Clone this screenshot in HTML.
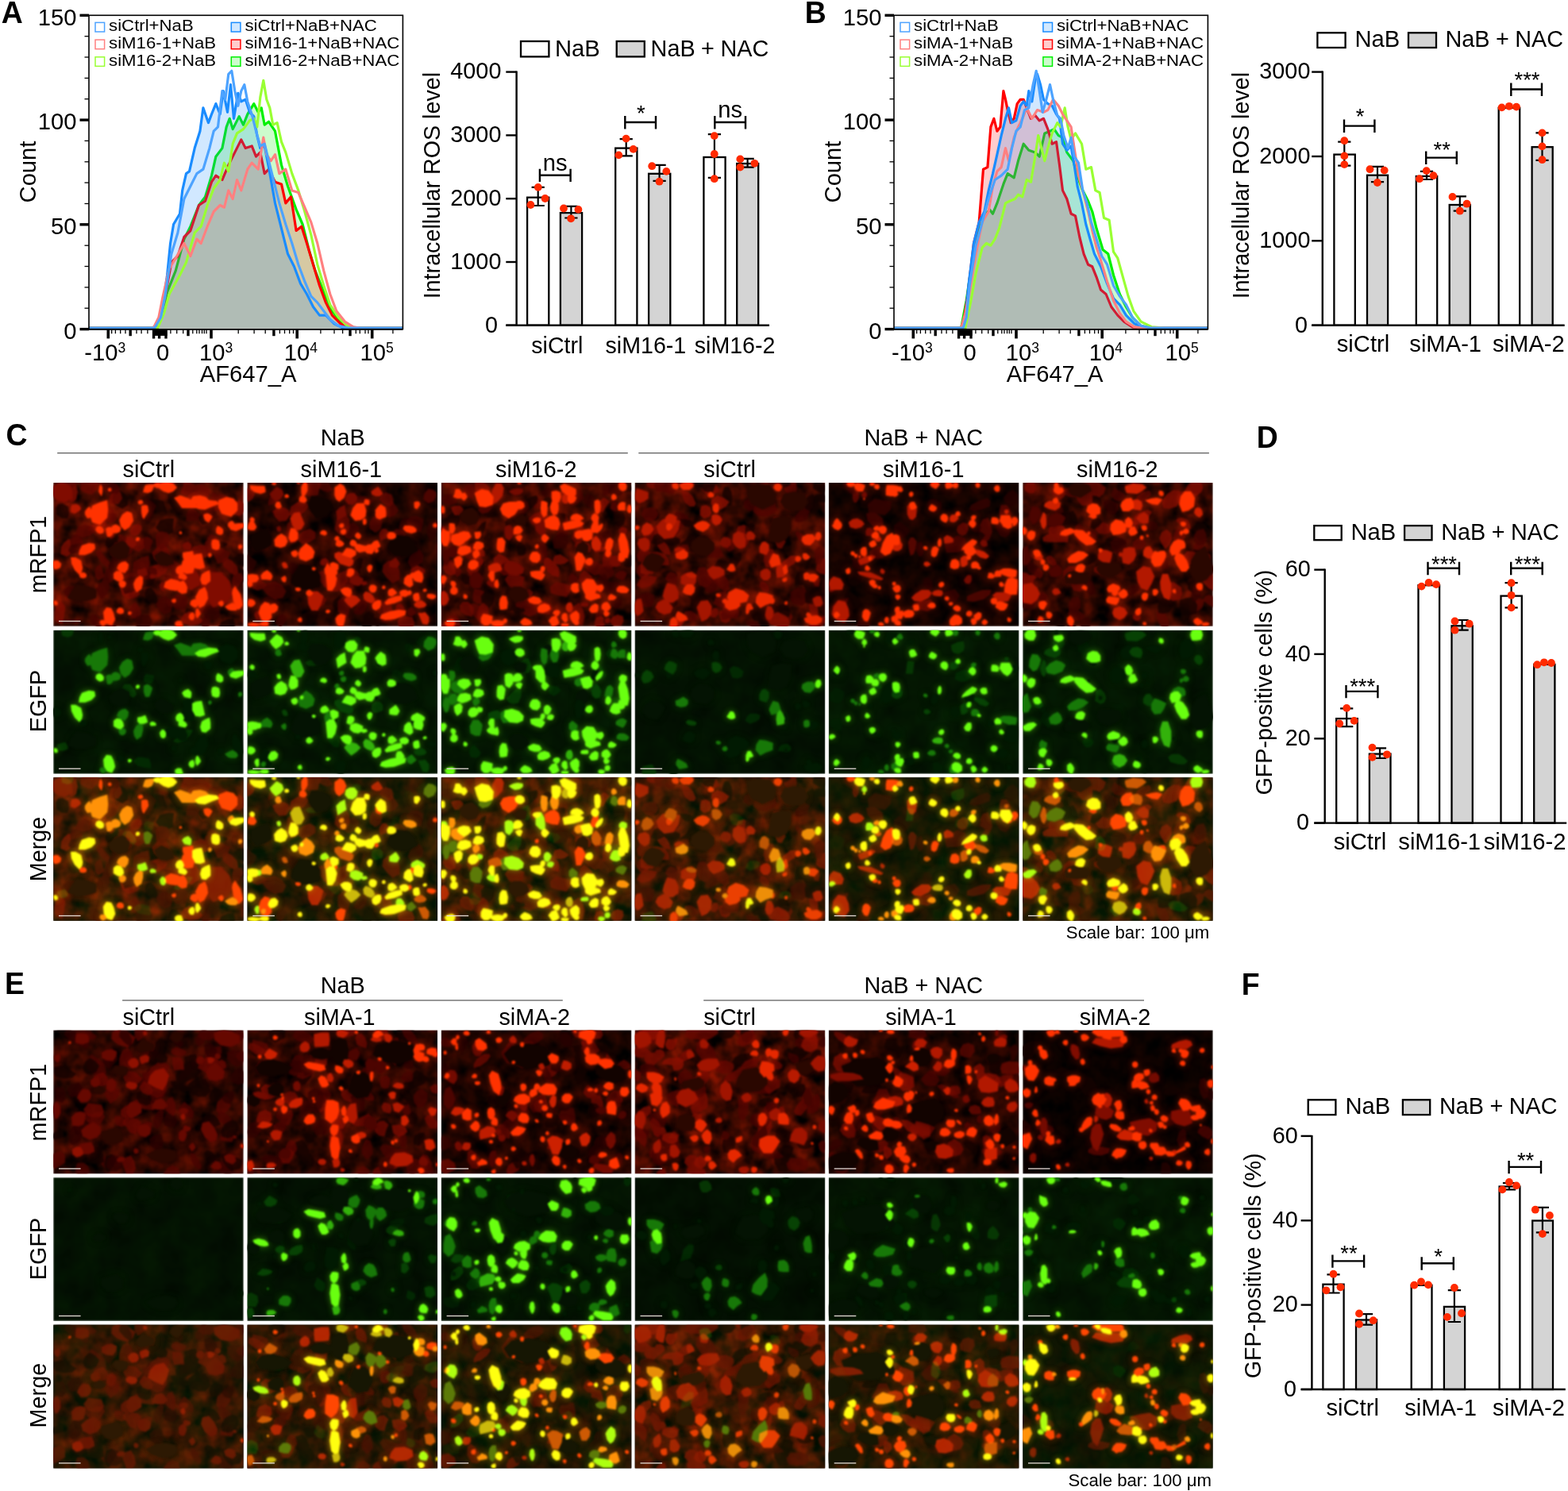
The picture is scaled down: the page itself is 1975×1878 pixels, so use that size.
<!DOCTYPE html>
<html lang="en"><head><meta charset="utf-8"><title>Figure</title>
<style>html,body{margin:0;padding:0;background:#fff}body{width:1975px;height:1878px;overflow:hidden}svg{display:block}text{font-family:"Liberation Sans", sans-serif;fill:#000}</style></head><body>
<svg width="1975" height="1878" viewBox="0 0 1975 1878">
<rect width="1975" height="1878" fill="#fff"/>
<text transform="translate(1.8 29.1) scale(1 1.03)" font-size="37.4" font-weight="bold">A</text>
<text transform="translate(1013.7 28.8) scale(1 1.03)" font-size="37.4" font-weight="bold">B</text>
<text transform="translate(7.6 561.0) scale(1 1.03)" font-size="37.4" font-weight="bold">C</text>
<text transform="translate(1582.7 563.9) scale(1 1.03)" font-size="37.4" font-weight="bold">D</text>
<text transform="translate(6.0 1252.0) scale(1 1.03)" font-size="37.4" font-weight="bold">E</text>
<text transform="translate(1563.8 1252.7) scale(1 1.03)" font-size="37.4" font-weight="bold">F</text>
<rect x="112" y="19.3" width="395.4" height="395.3" fill="#fff"/>
<path d="M112.0 413.2L197.2 413.2 203.9 399.8 210.6 367.8 221.2 341.2 231.9 301.2 239.9 285.2 250.5 258.5 258.5 247.9 266.5 221.2 271.9 197.2 279.9 186.6 285.2 159.9 289.2 149.3 293.2 162.6 301.2 146.6 306.5 157.2 311.8 143.9 319.8 130.6 325.2 141.3 329.2 135.9 333.2 157.2 338.5 153.3 346.5 165.2 354.5 207.9 362.5 234.5 373.1 263.9 381.1 282.5 389.1 314.5 397.1 341.2 407.8 367.8 418.4 391.8 429.1 405.1 439.8 411.8 453.1 413.2 L507.4 413.2Z" fill="#00f000" fill-opacity="0.2" stroke="none"/>
<path d="M112.0 413.2L197.2 413.2 203.9 399.8 210.6 367.8 221.2 341.2 231.9 301.2 239.9 285.2 250.5 258.5 258.5 247.9 266.5 221.2 271.9 197.2 279.9 186.6 285.2 159.9 289.2 149.3 293.2 162.6 301.2 146.6 306.5 157.2 311.8 143.9 319.8 130.6 325.2 141.3 329.2 135.9 333.2 157.2 338.5 153.3 346.5 165.2 354.5 207.9 362.5 234.5 373.1 263.9 381.1 282.5 389.1 314.5 397.1 341.2 407.8 367.8 418.4 391.8 429.1 405.1 439.8 411.8 453.1 413.2 L507.4 413.2" fill="none" stroke="#00f000" stroke-width="3.2" stroke-linejoin="round"/>
<path d="M112.0 413.2L195.9 413.2 202.6 399.8 207.9 373.1 215.9 330.5 223.9 322.5 231.9 298.5 239.9 290.5 250.5 258.5 258.5 253.2 266.5 229.2 271.9 221.2 279.9 226.5 287.8 207.9 295.8 191.9 303.8 175.9 309.2 186.6 317.2 183.9 322.5 197.2 327.8 191.9 333.2 218.6 338.5 213.2 346.5 229.2 354.5 231.9 359.8 255.9 366.5 247.9 373.1 290.5 379.8 285.2 386.5 306.5 394.5 333.2 402.5 359.8 410.4 381.1 418.4 397.1 429.1 407.8 439.8 413.2 L507.4 413.2Z" fill="#ff0000" fill-opacity="0.2" stroke="none"/>
<path d="M112.0 413.2L195.9 413.2 202.6 399.8 207.9 373.1 215.9 330.5 223.9 322.5 231.9 298.5 239.9 290.5 250.5 258.5 258.5 253.2 266.5 229.2 271.9 221.2 279.9 226.5 287.8 207.9 295.8 191.9 303.8 175.9 309.2 186.6 317.2 183.9 322.5 197.2 327.8 191.9 333.2 218.6 338.5 213.2 346.5 229.2 354.5 231.9 359.8 255.9 366.5 247.9 373.1 290.5 379.8 285.2 386.5 306.5 394.5 333.2 402.5 359.8 410.4 381.1 418.4 397.1 429.1 407.8 439.8 413.2 L507.4 413.2" fill="none" stroke="#ff0000" stroke-width="3.2" stroke-linejoin="round"/>
<path d="M112.0 413.2L191.9 413.2 198.6 407.8 202.6 399.8 210.6 346.5 214.6 306.5 218.6 282.5 226.5 269.2 229.7 239.9 234.5 218.6 238.5 215.9 245.2 186.6 251.9 165.2 255.9 135.9 262.5 154.6 266.5 143.9 271.9 130.6 277.2 143.9 281.2 114.6 286.5 141.3 290.5 106.6 294.5 149.3 299.8 117.3 303.8 127.9 309.2 125.3 314.5 141.3 319.8 146.6 323.8 170.6 327.8 186.6 333.2 183.9 338.5 210.6 346.5 255.9 354.5 287.8 362.5 319.8 370.5 335.8 378.5 357.1 386.5 370.5 394.5 386.5 402.5 397.1 410.4 397.1 421.1 407.8 431.8 413.1 453.1 413.2 L507.4 413.2Z" fill="#1a8cff" fill-opacity="0.2" stroke="none"/>
<path d="M112.0 413.2L191.9 413.2 198.6 407.8 202.6 399.8 210.6 346.5 214.6 306.5 218.6 282.5 226.5 269.2 229.7 239.9 234.5 218.6 238.5 215.9 245.2 186.6 251.9 165.2 255.9 135.9 262.5 154.6 266.5 143.9 271.9 130.6 277.2 143.9 281.2 114.6 286.5 141.3 290.5 106.6 294.5 149.3 299.8 117.3 303.8 127.9 309.2 125.3 314.5 141.3 319.8 146.6 323.8 170.6 327.8 186.6 333.2 183.9 338.5 210.6 346.5 255.9 354.5 287.8 362.5 319.8 370.5 335.8 378.5 357.1 386.5 370.5 394.5 386.5 402.5 397.1 410.4 397.1 421.1 407.8 431.8 413.1 453.1 413.2 L507.4 413.2" fill="none" stroke="#1a8cff" stroke-width="3.2" stroke-linejoin="round"/>
<path d="M112.0 413.2L198.6 413.2 206.6 394.5 213.2 370.5 226.5 346.5 234.5 330.5 245.2 293.2 253.2 285.2 261.2 258.5 269.2 237.2 277.2 226.5 282.5 205.2 287.8 215.9 293.2 181.2 298.5 167.9 306.5 162.6 314.5 151.9 319.8 149.3 323.8 159.9 327.8 122.6 331.8 101.3 335.8 125.3 339.8 135.9 343.8 157.2 349.1 154.6 354.5 178.6 359.8 191.9 367.8 218.6 375.8 239.9 383.8 266.5 391.8 295.8 399.8 333.2 407.8 359.8 415.8 383.8 426.4 399.8 437.1 410.4 447.8 413.2 L507.4 413.2" fill="none" stroke="#99ff33" stroke-width="3.2" stroke-linejoin="round"/>
<path d="M112.0 413.2L193.2 413.2 199.9 399.8 205.2 373.1 213.2 338.5 221.2 325.2 231.9 306.5 239.9 322.5 247.9 301.2 253.2 306.5 261.2 285.2 269.2 266.5 277.2 258.5 282.5 261.2 287.8 239.9 293.2 250.5 298.5 226.5 303.8 239.9 311.8 213.2 317.2 205.2 325.2 213.2 331.8 173.2 335.8 194.6 341.2 202.6 346.5 194.6 351.8 218.6 359.8 213.2 367.8 239.9 375.8 242.5 383.8 261.2 391.8 279.9 399.8 306.5 407.8 341.2 415.8 370.5 423.8 391.8 434.4 405.1 445.1 411.8 453.1 413.2 L507.4 413.2" fill="none" stroke="#ff8080" stroke-width="3.2" stroke-linejoin="round"/>
<path d="M112.0 413.2L194.6 413.2 202.6 399.8 207.9 373.1 215.9 319.8 223.9 293.2 231.9 250.5 239.9 234.5 247.9 218.6 255.9 213.2 263.9 186.6 269.2 165.2 274.5 159.9 279.9 114.6 283.8 125.3 287.8 93.3 291.8 89.3 295.8 114.6 299.8 133.3 303.8 114.6 307.8 106.6 311.8 127.9 317.2 143.9 322.5 165.2 327.8 183.9 333.2 181.2 338.5 202.6 343.8 223.9 351.8 255.9 359.8 282.5 367.8 306.5 375.8 333.2 383.8 354.5 391.8 373.1 399.8 381.1 407.8 391.8 415.8 402.5 426.4 410.4 439.8 413.2 L507.4 413.2" fill="none" stroke="#4da3ff" stroke-width="3.2" stroke-linejoin="round"/>
<rect x="112" y="19.3" width="395.4" height="395.3" fill="none" stroke="#000" stroke-width="1.6"/>
<path d="M112.0 414.9H507.4" stroke="#000" stroke-width="1.6"/>
<path d="M100.5 414.6H112.0" stroke="#000" stroke-width="3.4"/>
<path d="M106.5 388.2H112.0" stroke="#000" stroke-width="1.3"/>
<path d="M106.5 361.9H112.0" stroke="#000" stroke-width="1.3"/>
<path d="M106.5 335.5H112.0" stroke="#000" stroke-width="1.3"/>
<path d="M106.5 309.2H112.0" stroke="#000" stroke-width="1.3"/>
<path d="M100.5 282.8H112.0" stroke="#000" stroke-width="3.4"/>
<path d="M106.5 256.5H112.0" stroke="#000" stroke-width="1.3"/>
<path d="M106.5 230.1H112.0" stroke="#000" stroke-width="1.3"/>
<path d="M106.5 203.8H112.0" stroke="#000" stroke-width="1.3"/>
<path d="M106.5 177.4H112.0" stroke="#000" stroke-width="1.3"/>
<path d="M100.5 151.1H112.0" stroke="#000" stroke-width="3.4"/>
<path d="M106.5 124.7H112.0" stroke="#000" stroke-width="1.3"/>
<path d="M106.5 98.4H112.0" stroke="#000" stroke-width="1.3"/>
<path d="M106.5 72.0H112.0" stroke="#000" stroke-width="1.3"/>
<path d="M106.5 45.7H112.0" stroke="#000" stroke-width="1.3"/>
<path d="M100.5 19.3H112.0" stroke="#000" stroke-width="3.4"/>
<text transform="translate(96.4 31.5) scale(1 1.03)" font-size="29.2" text-anchor="end">150</text>
<text transform="translate(96.4 163.3) scale(1 1.03)" font-size="29.2" text-anchor="end">100</text>
<text transform="translate(96.4 295.0) scale(1 1.03)" font-size="29.2" text-anchor="end">50</text>
<text transform="translate(96.4 426.8) scale(1 1.03)" font-size="29.2" text-anchor="end">0</text>
<text transform="translate(45.0 216.5) rotate(-90) scale(1 1.03)" font-size="29.2" text-anchor="middle">Count</text>
<path d="M136.3 414.6v11.8" stroke="#000" stroke-width="3.6"/>
<path d="M266.0 414.6v11.8" stroke="#000" stroke-width="3.6"/>
<path d="M374.2 414.6v11.8" stroke="#000" stroke-width="3.6"/>
<path d="M468.7 414.6v11.8" stroke="#000" stroke-width="3.6"/>
<path d="M164.2 414.6v8.6" stroke="#000" stroke-width="3.4"/>
<path d="M237.0 414.6v8.6" stroke="#000" stroke-width="3.4"/>
<path d="M344.9 414.6v8.6" stroke="#000" stroke-width="3.4"/>
<path d="M441.0 414.6v8.6" stroke="#000" stroke-width="3.4"/>
<path d="M140.7 414.6v5.6" stroke="#000" stroke-width="1.3"/>
<path d="M145.4 414.6v5.6" stroke="#000" stroke-width="1.3"/>
<path d="M151.7 414.6v5.6" stroke="#000" stroke-width="1.3"/>
<path d="M158.0 414.6v5.6" stroke="#000" stroke-width="1.3"/>
<path d="M172.0 414.6v5.6" stroke="#000" stroke-width="1.3"/>
<path d="M178.1 414.6v5.6" stroke="#000" stroke-width="1.3"/>
<path d="M185.9 414.6v5.6" stroke="#000" stroke-width="1.3"/>
<path d="M214.9 414.6v5.6" stroke="#000" stroke-width="1.3"/>
<path d="M222.7 414.6v5.6" stroke="#000" stroke-width="1.3"/>
<path d="M230.7 414.6v5.6" stroke="#000" stroke-width="1.3"/>
<path d="M242.8 414.6v5.6" stroke="#000" stroke-width="1.3"/>
<path d="M247.8 414.6v5.6" stroke="#000" stroke-width="1.3"/>
<path d="M251.0 414.6v5.6" stroke="#000" stroke-width="1.3"/>
<path d="M254.5 414.6v5.6" stroke="#000" stroke-width="1.3"/>
<path d="M257.3 414.6v5.6" stroke="#000" stroke-width="1.3"/>
<path d="M260.0 414.6v5.6" stroke="#000" stroke-width="1.3"/>
<path d="M300.2 414.6v5.6" stroke="#000" stroke-width="1.3"/>
<path d="M320.1 414.6v5.6" stroke="#000" stroke-width="1.3"/>
<path d="M334.2 414.6v5.6" stroke="#000" stroke-width="1.3"/>
<path d="M352.4 414.6v5.6" stroke="#000" stroke-width="1.3"/>
<path d="M358.5 414.6v5.6" stroke="#000" stroke-width="1.3"/>
<path d="M364.7 414.6v5.6" stroke="#000" stroke-width="1.3"/>
<path d="M369.5 414.6v5.6" stroke="#000" stroke-width="1.3"/>
<path d="M403.9 414.6v5.6" stroke="#000" stroke-width="1.3"/>
<path d="M421.0 414.6v5.6" stroke="#000" stroke-width="1.3"/>
<path d="M431.6 414.6v5.6" stroke="#000" stroke-width="1.3"/>
<path d="M448.3 414.6v5.6" stroke="#000" stroke-width="1.3"/>
<path d="M453.3 414.6v5.6" stroke="#000" stroke-width="1.3"/>
<path d="M460.0 414.6v5.6" stroke="#000" stroke-width="1.3"/>
<path d="M463.9 414.6v5.6" stroke="#000" stroke-width="1.3"/>
<path d="M494.9 414.6v5.6" stroke="#000" stroke-width="1.3"/>
<path d="M193.6 414.6v11.8M200.6 414.6v11.8M209.0 414.6v11.8" stroke="#000" stroke-width="3.4"/>
<rect x="192.0" y="414.6" width="18.6" height="8.3" fill="#000"/>
<text transform="translate(106.3 453.7) scale(1 1.03)" font-size="29.2">-10<tspan dy="-9.6" font-size="17.5">3</tspan></text>
<text transform="translate(205.0 453.7) scale(1 1.03)" font-size="29.2" text-anchor="middle">0</text>
<text transform="translate(251.0 453.7) scale(1 1.03)" font-size="29.2">10<tspan dy="-9.6" font-size="17.5">3</tspan></text>
<text transform="translate(357.8 453.7) scale(1 1.03)" font-size="29.2">10<tspan dy="-9.6" font-size="17.5">4</tspan></text>
<text transform="translate(453.6 453.7) scale(1 1.03)" font-size="29.2">10<tspan dy="-9.6" font-size="17.5">5</tspan></text>
<text transform="translate(312.6 481.2) scale(1 1.03)" font-size="29.2" text-anchor="middle">AF647_A</text>
<rect x="120.0" y="28.4" width="11.6" height="11.6" fill="none" stroke="#4da3ff" stroke-width="1.5"/>
<text transform="translate(137.1 39.3) scale(1.075 1.02)" font-size="20.65">siCtrl+NaB</text>
<rect x="120.0" y="50.1" width="11.6" height="11.6" fill="none" stroke="#ff8080" stroke-width="1.5"/>
<text transform="translate(137.1 61.0) scale(1.075 1.02)" font-size="20.65">siM16-1+NaB</text>
<rect x="120.0" y="71.8" width="11.6" height="11.6" fill="none" stroke="#99ff33" stroke-width="1.5"/>
<text transform="translate(137.1 82.7) scale(1.075 1.02)" font-size="20.65">siM16-2+NaB</text>
<rect x="291.3" y="28.4" width="11.6" height="11.6" fill="#1a8cff" fill-opacity="0.2" stroke="#1a8cff" stroke-width="1.5"/>
<text transform="translate(308.4 39.3) scale(1.075 1.02)" font-size="20.65">siCtrl+NaB+NAC</text>
<rect x="291.3" y="50.1" width="11.6" height="11.6" fill="#ff0000" fill-opacity="0.2" stroke="#ff0000" stroke-width="1.5"/>
<text transform="translate(308.4 61.0) scale(1.075 1.02)" font-size="20.65">siM16-1+NaB+NAC</text>
<rect x="291.3" y="71.8" width="11.6" height="11.6" fill="#00f000" fill-opacity="0.2" stroke="#00f000" stroke-width="1.5"/>
<text transform="translate(308.4 82.7) scale(1.075 1.02)" font-size="20.65">siM16-2+NaB+NAC</text>
<rect x="1126" y="19.3" width="395.4000000000001" height="395.3" fill="#fff"/>
<path d="M1126.0 413.2L1210.6 413.2 1217.2 378.5 1223.9 333.2 1231.9 293.2 1239.9 271.9 1246.5 263.9 1250.5 269.2 1255.9 255.9 1263.9 231.9 1269.2 218.6 1277.2 223.9 1282.5 202.6 1289.2 181.2 1295.8 189.2 1303.8 191.9 1309.2 197.2 1315.8 167.9 1322.5 165.2 1327.8 162.6 1333.2 170.6 1338.5 173.2 1343.8 191.9 1351.8 202.6 1357.1 221.2 1362.5 237.2 1370.5 253.2 1375.8 266.5 1381.1 287.8 1389.1 314.5 1395.8 319.8 1402.5 346.5 1410.4 370.5 1418.4 386.5 1426.4 399.8 1437.1 410.4 1450.4 413.2 L1521.4 413.2Z" fill="#00f000" fill-opacity="0.2" stroke="none"/>
<path d="M1126.0 413.2L1210.6 413.2 1217.2 378.5 1223.9 333.2 1231.9 293.2 1239.9 271.9 1246.5 263.9 1250.5 269.2 1255.9 255.9 1263.9 231.9 1269.2 218.6 1277.2 223.9 1282.5 202.6 1289.2 181.2 1295.8 189.2 1303.8 191.9 1309.2 197.2 1315.8 167.9 1322.5 165.2 1327.8 162.6 1333.2 170.6 1338.5 173.2 1343.8 191.9 1351.8 202.6 1357.1 221.2 1362.5 237.2 1370.5 253.2 1375.8 266.5 1381.1 287.8 1389.1 314.5 1395.8 319.8 1402.5 346.5 1410.4 370.5 1418.4 386.5 1426.4 399.8 1437.1 410.4 1450.4 413.2 L1521.4 413.2" fill="none" stroke="#00f000" stroke-width="3.2" stroke-linejoin="round"/>
<path d="M1126.0 413.2L1210.6 413.2 1214.6 399.8 1218.6 373.1 1226.5 306.5 1233.2 279.9 1238.5 213.2 1243.9 210.6 1247.9 159.9 1251.9 149.3 1255.9 165.2 1259.9 159.9 1263.9 114.6 1266.5 125.3 1269.2 138.6 1273.2 154.6 1277.2 149.3 1281.2 130.6 1285.2 125.3 1289.2 125.3 1293.2 135.9 1298.5 149.3 1303.8 145.3 1309.2 151.9 1314.5 149.3 1319.8 162.6 1325.2 181.2 1330.5 178.6 1334.5 207.9 1338.5 239.9 1343.8 250.5 1349.1 269.2 1354.5 271.9 1359.8 298.5 1365.1 319.8 1370.5 333.2 1375.8 335.8 1381.1 349.1 1386.5 365.1 1393.1 370.5 1399.8 386.5 1407.8 397.1 1415.8 405.1 1426.4 411.8 1439.8 413.2 L1521.4 413.2Z" fill="#ff0000" fill-opacity="0.2" stroke="none"/>
<path d="M1126.0 413.2L1210.6 413.2 1214.6 399.8 1218.6 373.1 1226.5 306.5 1233.2 279.9 1238.5 213.2 1243.9 210.6 1247.9 159.9 1251.9 149.3 1255.9 165.2 1259.9 159.9 1263.9 114.6 1266.5 125.3 1269.2 138.6 1273.2 154.6 1277.2 149.3 1281.2 130.6 1285.2 125.3 1289.2 125.3 1293.2 135.9 1298.5 149.3 1303.8 145.3 1309.2 151.9 1314.5 149.3 1319.8 162.6 1325.2 181.2 1330.5 178.6 1334.5 207.9 1338.5 239.9 1343.8 250.5 1349.1 269.2 1354.5 271.9 1359.8 298.5 1365.1 319.8 1370.5 333.2 1375.8 335.8 1381.1 349.1 1386.5 365.1 1393.1 370.5 1399.8 386.5 1407.8 397.1 1415.8 405.1 1426.4 411.8 1439.8 413.2 L1521.4 413.2" fill="none" stroke="#ff0000" stroke-width="3.2" stroke-linejoin="round"/>
<path d="M1126.0 413.2L1211.9 413.2 1215.9 399.8 1219.9 359.8 1226.5 306.5 1233.2 279.9 1239.9 266.5 1245.2 239.9 1250.5 218.6 1255.9 194.6 1261.2 170.6 1266.5 149.3 1270.5 135.9 1274.5 154.6 1279.9 151.9 1285.2 133.3 1289.2 127.9 1293.2 133.3 1295.8 114.6 1299.8 127.9 1303.8 101.3 1306.5 93.3 1310.5 106.6 1314.5 125.3 1319.8 130.6 1325.2 133.3 1330.5 143.9 1334.5 149.3 1338.5 181.2 1343.8 189.2 1349.1 183.9 1353.1 207.9 1357.1 234.5 1362.5 255.9 1367.8 282.5 1373.1 301.2 1378.5 319.8 1386.5 335.8 1394.5 357.1 1402.5 375.8 1410.4 383.8 1418.4 397.1 1429.1 407.8 1442.4 413.2 L1521.4 413.2Z" fill="#1a8cff" fill-opacity="0.2" stroke="none"/>
<path d="M1126.0 413.2L1211.9 413.2 1215.9 399.8 1219.9 359.8 1226.5 306.5 1233.2 279.9 1239.9 266.5 1245.2 239.9 1250.5 218.6 1255.9 194.6 1261.2 170.6 1266.5 149.3 1270.5 135.9 1274.5 154.6 1279.9 151.9 1285.2 133.3 1289.2 127.9 1293.2 133.3 1295.8 114.6 1299.8 127.9 1303.8 101.3 1306.5 93.3 1310.5 106.6 1314.5 125.3 1319.8 130.6 1325.2 133.3 1330.5 143.9 1334.5 149.3 1338.5 181.2 1343.8 189.2 1349.1 183.9 1353.1 207.9 1357.1 234.5 1362.5 255.9 1367.8 282.5 1373.1 301.2 1378.5 319.8 1386.5 335.8 1394.5 357.1 1402.5 375.8 1410.4 383.8 1418.4 397.1 1429.1 407.8 1442.4 413.2 L1521.4 413.2" fill="none" stroke="#1a8cff" stroke-width="3.2" stroke-linejoin="round"/>
<path d="M1126.0 413.2L1215.9 413.2 1222.5 381.1 1229.2 343.8 1237.2 311.8 1242.5 306.5 1247.9 309.2 1253.2 301.2 1258.5 287.8 1266.5 255.9 1271.9 253.2 1278.5 250.5 1282.5 245.2 1287.8 247.9 1293.2 226.5 1298.5 229.2 1303.8 197.2 1307.8 170.6 1311.8 186.6 1315.8 202.6 1319.8 186.6 1325.2 167.9 1331.8 154.6 1335.8 159.9 1341.2 135.9 1345.1 159.9 1349.1 175.9 1354.5 167.9 1362.5 181.2 1367.8 213.2 1374.5 210.6 1379.8 239.9 1385.1 242.5 1390.5 274.5 1397.1 277.2 1402.5 317.2 1407.8 325.2 1414.4 349.1 1421.1 373.1 1427.8 391.8 1437.1 405.1 1450.4 411.8 1466.4 413.2 L1521.4 413.2" fill="none" stroke="#99ff33" stroke-width="3.2" stroke-linejoin="round"/>
<path d="M1126.0 413.2L1210.6 413.2 1215.9 394.5 1221.2 367.8 1229.2 319.8 1237.2 279.9 1245.2 266.5 1250.5 234.5 1255.9 215.9 1261.2 210.6 1266.5 186.6 1270.5 202.6 1277.2 173.2 1282.5 159.9 1287.8 149.3 1293.2 135.9 1299.8 149.3 1306.5 138.6 1314.5 141.3 1319.8 138.6 1326.5 125.3 1333.2 133.3 1338.5 143.9 1343.8 151.9 1349.1 159.9 1353.1 186.6 1358.5 221.2 1365.1 245.2 1370.5 266.5 1375.8 290.5 1381.1 311.8 1386.5 327.8 1394.5 354.5 1402.5 378.5 1410.4 394.5 1418.4 405.1 1429.1 411.8 1439.8 413.2 L1521.4 413.2" fill="none" stroke="#ff8080" stroke-width="3.2" stroke-linejoin="round"/>
<path d="M1126.0 413.2L1213.2 413.2 1217.2 399.8 1221.2 359.8 1229.2 309.2 1237.2 279.9 1245.2 250.5 1253.2 226.5 1261.2 221.2 1269.2 213.2 1274.5 186.6 1279.9 165.2 1285.2 159.9 1290.5 138.6 1295.8 135.9 1301.2 106.6 1305.2 89.3 1309.2 114.6 1313.2 141.3 1317.2 127.9 1322.5 106.6 1326.5 125.3 1331.8 145.3 1335.8 149.3 1339.8 170.6 1345.1 186.6 1349.1 173.2 1353.1 197.2 1358.5 205.2 1363.8 239.9 1369.1 255.9 1374.5 279.9 1381.1 301.2 1387.8 322.5 1394.5 333.2 1402.5 359.8 1410.4 373.1 1418.4 383.8 1426.4 399.8 1437.1 410.4 1450.4 413.2 L1521.4 413.2" fill="none" stroke="#4da3ff" stroke-width="3.2" stroke-linejoin="round"/>
<rect x="1126" y="19.3" width="395.4000000000001" height="395.3" fill="none" stroke="#000" stroke-width="1.6"/>
<path d="M1126.0 414.9H1521.4" stroke="#000" stroke-width="1.6"/>
<path d="M1114.5 414.6H1126.0" stroke="#000" stroke-width="3.4"/>
<path d="M1120.5 388.2H1126.0" stroke="#000" stroke-width="1.3"/>
<path d="M1120.5 361.9H1126.0" stroke="#000" stroke-width="1.3"/>
<path d="M1120.5 335.5H1126.0" stroke="#000" stroke-width="1.3"/>
<path d="M1120.5 309.2H1126.0" stroke="#000" stroke-width="1.3"/>
<path d="M1114.5 282.8H1126.0" stroke="#000" stroke-width="3.4"/>
<path d="M1120.5 256.5H1126.0" stroke="#000" stroke-width="1.3"/>
<path d="M1120.5 230.1H1126.0" stroke="#000" stroke-width="1.3"/>
<path d="M1120.5 203.8H1126.0" stroke="#000" stroke-width="1.3"/>
<path d="M1120.5 177.4H1126.0" stroke="#000" stroke-width="1.3"/>
<path d="M1114.5 151.1H1126.0" stroke="#000" stroke-width="3.4"/>
<path d="M1120.5 124.7H1126.0" stroke="#000" stroke-width="1.3"/>
<path d="M1120.5 98.4H1126.0" stroke="#000" stroke-width="1.3"/>
<path d="M1120.5 72.0H1126.0" stroke="#000" stroke-width="1.3"/>
<path d="M1120.5 45.7H1126.0" stroke="#000" stroke-width="1.3"/>
<path d="M1114.5 19.3H1126.0" stroke="#000" stroke-width="3.4"/>
<text transform="translate(1110.4 31.5) scale(1 1.03)" font-size="29.2" text-anchor="end">150</text>
<text transform="translate(1110.4 163.3) scale(1 1.03)" font-size="29.2" text-anchor="end">100</text>
<text transform="translate(1110.4 295.0) scale(1 1.03)" font-size="29.2" text-anchor="end">50</text>
<text transform="translate(1110.4 426.8) scale(1 1.03)" font-size="29.2" text-anchor="end">0</text>
<text transform="translate(1059.0 216.5) rotate(-90) scale(1 1.03)" font-size="29.2" text-anchor="middle">Count</text>
<path d="M1150.3 414.6v11.8" stroke="#000" stroke-width="3.6"/>
<path d="M1280.0 414.6v11.8" stroke="#000" stroke-width="3.6"/>
<path d="M1388.2 414.6v11.8" stroke="#000" stroke-width="3.6"/>
<path d="M1482.7 414.6v11.8" stroke="#000" stroke-width="3.6"/>
<path d="M1178.2 414.6v8.6" stroke="#000" stroke-width="3.4"/>
<path d="M1251.0 414.6v8.6" stroke="#000" stroke-width="3.4"/>
<path d="M1358.9 414.6v8.6" stroke="#000" stroke-width="3.4"/>
<path d="M1455.0 414.6v8.6" stroke="#000" stroke-width="3.4"/>
<path d="M1154.7 414.6v5.6" stroke="#000" stroke-width="1.3"/>
<path d="M1159.4 414.6v5.6" stroke="#000" stroke-width="1.3"/>
<path d="M1165.7 414.6v5.6" stroke="#000" stroke-width="1.3"/>
<path d="M1172.0 414.6v5.6" stroke="#000" stroke-width="1.3"/>
<path d="M1186.0 414.6v5.6" stroke="#000" stroke-width="1.3"/>
<path d="M1192.1 414.6v5.6" stroke="#000" stroke-width="1.3"/>
<path d="M1199.9 414.6v5.6" stroke="#000" stroke-width="1.3"/>
<path d="M1228.9 414.6v5.6" stroke="#000" stroke-width="1.3"/>
<path d="M1236.7 414.6v5.6" stroke="#000" stroke-width="1.3"/>
<path d="M1244.7 414.6v5.6" stroke="#000" stroke-width="1.3"/>
<path d="M1256.8 414.6v5.6" stroke="#000" stroke-width="1.3"/>
<path d="M1261.8 414.6v5.6" stroke="#000" stroke-width="1.3"/>
<path d="M1265.0 414.6v5.6" stroke="#000" stroke-width="1.3"/>
<path d="M1268.5 414.6v5.6" stroke="#000" stroke-width="1.3"/>
<path d="M1271.3 414.6v5.6" stroke="#000" stroke-width="1.3"/>
<path d="M1274.0 414.6v5.6" stroke="#000" stroke-width="1.3"/>
<path d="M1314.2 414.6v5.6" stroke="#000" stroke-width="1.3"/>
<path d="M1334.1 414.6v5.6" stroke="#000" stroke-width="1.3"/>
<path d="M1348.2 414.6v5.6" stroke="#000" stroke-width="1.3"/>
<path d="M1366.4 414.6v5.6" stroke="#000" stroke-width="1.3"/>
<path d="M1372.5 414.6v5.6" stroke="#000" stroke-width="1.3"/>
<path d="M1378.7 414.6v5.6" stroke="#000" stroke-width="1.3"/>
<path d="M1383.5 414.6v5.6" stroke="#000" stroke-width="1.3"/>
<path d="M1417.9 414.6v5.6" stroke="#000" stroke-width="1.3"/>
<path d="M1435.0 414.6v5.6" stroke="#000" stroke-width="1.3"/>
<path d="M1445.6 414.6v5.6" stroke="#000" stroke-width="1.3"/>
<path d="M1462.3 414.6v5.6" stroke="#000" stroke-width="1.3"/>
<path d="M1467.3 414.6v5.6" stroke="#000" stroke-width="1.3"/>
<path d="M1474.0 414.6v5.6" stroke="#000" stroke-width="1.3"/>
<path d="M1477.9 414.6v5.6" stroke="#000" stroke-width="1.3"/>
<path d="M1508.9 414.6v5.6" stroke="#000" stroke-width="1.3"/>
<path d="M1207.6 414.6v11.8M1214.6 414.6v11.8M1223.0 414.6v11.8" stroke="#000" stroke-width="3.4"/>
<rect x="1206.0" y="414.6" width="18.6" height="8.3" fill="#000"/>
<text transform="translate(1122.9 453.7) scale(1 1.03)" font-size="29.2">-10<tspan dy="-9.6" font-size="17.5">3</tspan></text>
<text transform="translate(1221.6 453.7) scale(1 1.03)" font-size="29.2" text-anchor="middle">0</text>
<text transform="translate(1266.8 453.7) scale(1 1.03)" font-size="29.2">10<tspan dy="-9.6" font-size="17.5">3</tspan></text>
<text transform="translate(1371.8 453.7) scale(1 1.03)" font-size="29.2">10<tspan dy="-9.6" font-size="17.5">4</tspan></text>
<text transform="translate(1467.6 453.7) scale(1 1.03)" font-size="29.2">10<tspan dy="-9.6" font-size="17.5">5</tspan></text>
<text transform="translate(1328.7 481.2) scale(1 1.03)" font-size="29.2" text-anchor="middle">AF647_A</text>
<rect x="1134.0" y="28.4" width="11.6" height="11.6" fill="none" stroke="#4da3ff" stroke-width="1.5"/>
<text transform="translate(1151.1 39.3) scale(1.075 1.02)" font-size="20.65">siCtrl+NaB</text>
<rect x="1134.0" y="50.1" width="11.6" height="11.6" fill="none" stroke="#ff8080" stroke-width="1.5"/>
<text transform="translate(1151.1 61.0) scale(1.075 1.02)" font-size="20.65">siMA-1+NaB</text>
<rect x="1134.0" y="71.8" width="11.6" height="11.6" fill="none" stroke="#99ff33" stroke-width="1.5"/>
<text transform="translate(1151.1 82.7) scale(1.075 1.02)" font-size="20.65">siMA-2+NaB</text>
<rect x="1313.9" y="28.4" width="11.6" height="11.6" fill="#1a8cff" fill-opacity="0.2" stroke="#1a8cff" stroke-width="1.5"/>
<text transform="translate(1331.0 39.3) scale(1.075 1.02)" font-size="20.65">siCtrl+NaB+NAC</text>
<rect x="1313.9" y="50.1" width="11.6" height="11.6" fill="#ff0000" fill-opacity="0.2" stroke="#ff0000" stroke-width="1.5"/>
<text transform="translate(1331.0 61.0) scale(1.075 1.02)" font-size="20.65">siMA-1+NaB+NAC</text>
<rect x="1313.9" y="71.8" width="11.6" height="11.6" fill="#00f000" fill-opacity="0.2" stroke="#00f000" stroke-width="1.5"/>
<text transform="translate(1331.0 82.7) scale(1.075 1.02)" font-size="20.65">siMA-2+NaB+NAC</text>
<rect x="656.0" y="52.0" width="35.4" height="19.4" fill="#fff" stroke="#000" stroke-width="2.3"/>
<rect x="776.7" y="52.0" width="35.1" height="19.4" fill="#d4d4d4" stroke="#000" stroke-width="2.3"/>
<text transform="translate(699.0 70.6) scale(1 1.03)" font-size="29.2">NaB</text>
<text transform="translate(819.6 70.6) scale(1 1.03)" font-size="28.8" word-spacing="-0.5">NaB + NAC</text>
<rect x="664.1" y="248.7" width="27.2" height="161.0" fill="#fff" stroke="#000" stroke-width="2.3"/>
<rect x="705.9" y="268.1" width="27.2" height="141.6" fill="#d4d4d4" stroke="#000" stroke-width="2.3"/>
<rect x="775.2" y="186.6" width="27.2" height="223.1" fill="#fff" stroke="#000" stroke-width="2.3"/>
<rect x="817.1" y="218.8" width="27.2" height="190.9" fill="#d4d4d4" stroke="#000" stroke-width="2.3"/>
<rect x="886.4" y="198.0" width="27.2" height="211.7" fill="#fff" stroke="#000" stroke-width="2.3"/>
<rect x="928.2" y="206.0" width="27.0" height="203.7" fill="#d4d4d4" stroke="#000" stroke-width="2.3"/>
<path d="M677.7 235.9V259.0M669.6 235.9h16.2M669.6 259.0h16.2" stroke="#000" stroke-width="2.2" fill="none"/>
<path d="M719.4 259.9V274.5M711.3 259.9h16.2M711.3 274.5h16.2" stroke="#000" stroke-width="2.2" fill="none"/>
<path d="M788.7 175.1V196.4M780.6 175.1h16.2M780.6 196.4h16.2" stroke="#000" stroke-width="2.2" fill="none"/>
<path d="M830.6 207.9V227.9M822.5 207.9h16.2M822.5 227.9h16.2" stroke="#000" stroke-width="2.2" fill="none"/>
<path d="M899.9 169.2V223.9M891.8 169.2h16.2M891.8 223.9h16.2" stroke="#000" stroke-width="2.2" fill="none"/>
<path d="M941.6 199.9V210.6M933.5 199.9h16.2M933.5 210.6h16.2" stroke="#000" stroke-width="2.2" fill="none"/>
<path d="M650.6 89.6V409.7M637.3 409.7H969.0" stroke="#000" stroke-width="2.4" fill="none"/>
<path d="M637.3 90.6H650.6" stroke="#000" stroke-width="2.4"/>
<text transform="translate(631.4 99.4) scale(1 1.03)" font-size="28.8" text-anchor="end">4000</text>
<path d="M637.3 170.4H650.6" stroke="#000" stroke-width="2.4"/>
<text transform="translate(631.4 179.2) scale(1 1.03)" font-size="28.8" text-anchor="end">3000</text>
<path d="M637.3 250.2H650.6" stroke="#000" stroke-width="2.4"/>
<text transform="translate(631.4 259.0) scale(1 1.03)" font-size="28.8" text-anchor="end">2000</text>
<path d="M637.3 330.0H650.6" stroke="#000" stroke-width="2.4"/>
<text transform="translate(631.4 338.8) scale(1 1.03)" font-size="28.8" text-anchor="end">1000</text>
<path d="M637.3 409.7H650.6" stroke="#000" stroke-width="2.4"/>
<text transform="translate(626.9 418.5) scale(1 1.03)" font-size="28.8" text-anchor="end">0</text>
<text transform="translate(554.0 233.6) rotate(-90) scale(1 1.03)" font-size="28.7" text-anchor="middle">Intracellular ROS level</text>
<circle cx="677.8" cy="235.9" r="4.9" fill="#ff2a00"/>
<circle cx="668.4" cy="258.0" r="4.9" fill="#ff2a00"/>
<circle cx="686.6" cy="250.0" r="4.9" fill="#ff2a00"/>
<circle cx="710.0" cy="262.5" r="4.9" fill="#ff2a00"/>
<circle cx="728.4" cy="263.9" r="4.9" fill="#ff2a00"/>
<circle cx="719.1" cy="275.3" r="4.9" fill="#ff2a00"/>
<circle cx="788.6" cy="174.6" r="4.9" fill="#ff2a00"/>
<circle cx="779.3" cy="195.4" r="4.9" fill="#ff2a00"/>
<circle cx="797.7" cy="187.9" r="4.9" fill="#ff2a00"/>
<circle cx="821.2" cy="209.2" r="4.9" fill="#ff2a00"/>
<circle cx="839.3" cy="215.9" r="4.9" fill="#ff2a00"/>
<circle cx="830.5" cy="228.7" r="4.9" fill="#ff2a00"/>
<circle cx="899.8" cy="171.1" r="4.9" fill="#ff2a00"/>
<circle cx="899.8" cy="194.0" r="4.9" fill="#ff2a00"/>
<circle cx="899.8" cy="225.2" r="4.9" fill="#ff2a00"/>
<circle cx="932.3" cy="200.4" r="4.9" fill="#ff2a00"/>
<circle cx="950.4" cy="205.8" r="4.9" fill="#ff2a00"/>
<circle cx="932.3" cy="210.6" r="4.9" fill="#ff2a00"/>
<path d="M679.9 220.7H718.6M679.9 212.7v16.4M718.6 212.7v16.4" stroke="#000" stroke-width="2.4" fill="none"/>
<text transform="translate(699.2 214.9) scale(1 1.03)" font-size="29.2" text-anchor="middle">ns</text>
<path d="M787.3 154.0H826.0M787.3 146.0v16.4M826.0 146.0v16.4" stroke="#000" stroke-width="2.4" fill="none"/>
<text transform="translate(807.4 152.1) scale(1 1.03)" font-size="27.5" text-anchor="middle">*</text>
<path d="M900.3 154.0H939.0M900.3 146.0v16.4M939.0 146.0v16.4" stroke="#000" stroke-width="2.4" fill="none"/>
<text transform="translate(919.6 148.4) scale(1 1.03)" font-size="29.2" text-anchor="middle">ns</text>
<text transform="translate(701.8 444.6) scale(1 1.03)" font-size="28.6" text-anchor="middle">siCtrl</text>
<text transform="translate(813.4 444.6) scale(1 1.03)" font-size="28.6" text-anchor="middle">siM16-1</text>
<text transform="translate(925.6 444.6) scale(1 1.03)" font-size="28.6" text-anchor="middle">siM16-2</text>
<rect x="1659.4" y="41.3" width="35.2" height="18.7" fill="#fff" stroke="#000" stroke-width="2.3"/>
<rect x="1774.0" y="41.3" width="35.0" height="18.7" fill="#d4d4d4" stroke="#000" stroke-width="2.3"/>
<text transform="translate(1706.4 59.2) scale(1 1.03)" font-size="29.2">NaB</text>
<text transform="translate(1820.5 59.2) scale(1 1.03)" font-size="28.8" word-spacing="-0.5">NaB + NAC</text>
<rect x="1680.4" y="194.6" width="26.4" height="215.1" fill="#fff" stroke="#000" stroke-width="2.3"/>
<rect x="1722.0" y="220.7" width="26.1" height="189.0" fill="#d4d4d4" stroke="#000" stroke-width="2.3"/>
<rect x="1783.8" y="222.0" width="26.4" height="187.7" fill="#fff" stroke="#000" stroke-width="2.3"/>
<rect x="1825.7" y="258.0" width="26.1" height="151.7" fill="#d4d4d4" stroke="#000" stroke-width="2.3"/>
<rect x="1887.7" y="135.9" width="26.5" height="273.8" fill="#fff" stroke="#000" stroke-width="2.3"/>
<rect x="1929.6" y="185.2" width="26.1" height="224.5" fill="#d4d4d4" stroke="#000" stroke-width="2.3"/>
<path d="M1693.3 178.6V208.7M1685.2 178.6h16.2M1685.2 208.7h16.2" stroke="#000" stroke-width="2.2" fill="none"/>
<path d="M1735.0 209.8V229.2M1726.9 209.8h16.2M1726.9 229.2h16.2" stroke="#000" stroke-width="2.2" fill="none"/>
<path d="M1797.0 215.9V226.0M1788.9 215.9h16.2M1788.9 226.0h16.2" stroke="#000" stroke-width="2.2" fill="none"/>
<path d="M1838.8 247.3V265.7M1830.7 247.3h16.2M1830.7 265.7h16.2" stroke="#000" stroke-width="2.2" fill="none"/>
<path d="M1942.5 167.4V201.8M1934.4 167.4h16.2M1934.4 201.8h16.2" stroke="#000" stroke-width="2.2" fill="none"/>
<path d="M1665.8 89.6V409.7M1652.2 409.7H1970.7" stroke="#000" stroke-width="2.4" fill="none"/>
<path d="M1652.2 90.6H1665.8" stroke="#000" stroke-width="2.4"/>
<text transform="translate(1650.4 99.4) scale(1 1.03)" font-size="28.8" text-anchor="end">3000</text>
<path d="M1652.2 197.0H1665.8" stroke="#000" stroke-width="2.4"/>
<text transform="translate(1650.4 205.8) scale(1 1.03)" font-size="28.8" text-anchor="end">2000</text>
<path d="M1652.2 303.3H1665.8" stroke="#000" stroke-width="2.4"/>
<text transform="translate(1650.4 312.1) scale(1 1.03)" font-size="28.8" text-anchor="end">1000</text>
<path d="M1652.2 409.7H1665.8" stroke="#000" stroke-width="2.4"/>
<text transform="translate(1646.9 418.5) scale(1 1.03)" font-size="28.8" text-anchor="end">0</text>
<text transform="translate(1573.0 233.6) rotate(-90) scale(1 1.03)" font-size="28.7" text-anchor="middle">Intracellular ROS level</text>
<circle cx="1693.3" cy="177.2" r="4.9" fill="#ff2a00"/>
<circle cx="1693.3" cy="196.4" r="4.9" fill="#ff2a00"/>
<circle cx="1693.3" cy="207.1" r="4.9" fill="#ff2a00"/>
<circle cx="1725.5" cy="213.2" r="4.9" fill="#ff2a00"/>
<circle cx="1743.7" cy="214.6" r="4.9" fill="#ff2a00"/>
<circle cx="1734.9" cy="230.0" r="4.9" fill="#ff2a00"/>
<circle cx="1796.7" cy="215.1" r="4.9" fill="#ff2a00"/>
<circle cx="1787.9" cy="225.2" r="4.9" fill="#ff2a00"/>
<circle cx="1805.5" cy="221.2" r="4.9" fill="#ff2a00"/>
<circle cx="1829.5" cy="247.9" r="4.9" fill="#ff2a00"/>
<circle cx="1847.6" cy="256.7" r="4.9" fill="#ff2a00"/>
<circle cx="1838.8" cy="265.7" r="4.9" fill="#ff2a00"/>
<circle cx="1891.6" cy="135.4" r="4.9" fill="#ff2a00"/>
<circle cx="1900.9" cy="133.8" r="4.9" fill="#ff2a00"/>
<circle cx="1910.0" cy="134.6" r="4.9" fill="#ff2a00"/>
<circle cx="1942.5" cy="167.4" r="4.9" fill="#ff2a00"/>
<circle cx="1942.5" cy="184.4" r="4.9" fill="#ff2a00"/>
<circle cx="1942.5" cy="201.2" r="4.9" fill="#ff2a00"/>
<path d="M1693.0 158.6H1731.4M1693.0 150.6v16.4M1731.4 150.6v16.4" stroke="#000" stroke-width="2.4" fill="none"/>
<text transform="translate(1713.0 155.7) scale(1 1.03)" font-size="27.5" text-anchor="middle">*</text>
<path d="M1796.2 198.6H1834.8M1796.2 190.6v16.4M1834.8 190.6v16.4" stroke="#000" stroke-width="2.4" fill="none"/>
<text transform="translate(1816.3 197.5) scale(1 1.03)" font-size="27.5" text-anchor="middle">**</text>
<path d="M1903.3 112.5H1942.0M1903.3 104.5v16.4M1942.0 104.5v16.4" stroke="#000" stroke-width="2.4" fill="none"/>
<text transform="translate(1923.5 109.5) scale(1 1.03)" font-size="27.5" text-anchor="middle">***</text>
<text transform="translate(1717.0 443.4) scale(1 1.03)" font-size="29.2" text-anchor="middle">siCtrl</text>
<text transform="translate(1820.7 443.4) scale(1 1.03)" font-size="29.2" text-anchor="middle">siMA-1</text>
<text transform="translate(1925.4 443.4) scale(1 1.03)" font-size="29.2" text-anchor="middle">siMA-2</text>
<rect x="1655.3" y="662.1" width="34.4" height="18.1" fill="#fff" stroke="#000" stroke-width="2.3"/>
<rect x="1769.1" y="662.1" width="34.4" height="18.1" fill="#d4d4d4" stroke="#000" stroke-width="2.3"/>
<text transform="translate(1701.4 679.5) scale(1 1.03)" font-size="29.2">NaB</text>
<text transform="translate(1815.2 679.5) scale(1 1.03)" font-size="28.8" word-spacing="-0.5">NaB + NAC</text>
<rect x="1683.2" y="905.1" width="26.6" height="131.5" fill="#fff" stroke="#000" stroke-width="2.3"/>
<rect x="1724.9" y="949.6" width="26.6" height="87.0" fill="#d4d4d4" stroke="#000" stroke-width="2.3"/>
<rect x="1786.5" y="737.2" width="26.6" height="299.4" fill="#fff" stroke="#000" stroke-width="2.3"/>
<rect x="1828.5" y="788.3" width="26.3" height="248.3" fill="#d4d4d4" stroke="#000" stroke-width="2.3"/>
<rect x="1890.5" y="750.6" width="26.3" height="286.0" fill="#fff" stroke="#000" stroke-width="2.3"/>
<rect x="1932.2" y="836.9" width="26.2" height="199.7" fill="#d4d4d4" stroke="#000" stroke-width="2.3"/>
<path d="M1696.2 892.3V915.1M1688.1 892.3h16.2M1688.1 915.1h16.2" stroke="#000" stroke-width="2.2" fill="none"/>
<path d="M1738.0 942.3V955.0M1729.9 942.3h16.2M1729.9 955.0h16.2" stroke="#000" stroke-width="2.2" fill="none"/>
<path d="M1841.6 781.0V793.7M1833.5 781.0h16.2M1833.5 793.7h16.2" stroke="#000" stroke-width="2.2" fill="none"/>
<path d="M1903.6 734.2V765.4M1895.5 734.2h16.2M1895.5 765.4h16.2" stroke="#000" stroke-width="2.2" fill="none"/>
<path d="M1668.7 716.6V1036.6M1655.3 1036.6H1973.2" stroke="#000" stroke-width="2.4" fill="none"/>
<path d="M1655.3 717.6H1668.7" stroke="#000" stroke-width="2.4"/>
<text transform="translate(1650.8 726.4) scale(1 1.03)" font-size="28.8" text-anchor="end">60</text>
<path d="M1655.3 823.9H1668.7" stroke="#000" stroke-width="2.4"/>
<text transform="translate(1650.8 832.7) scale(1 1.03)" font-size="28.8" text-anchor="end">40</text>
<path d="M1655.3 930.3H1668.7" stroke="#000" stroke-width="2.4"/>
<text transform="translate(1650.8 939.1) scale(1 1.03)" font-size="28.8" text-anchor="end">20</text>
<path d="M1655.3 1036.6H1668.7" stroke="#000" stroke-width="2.4"/>
<text transform="translate(1649.1 1045.4) scale(1 1.03)" font-size="28.8" text-anchor="end">0</text>
<text transform="translate(1601.8 859.6) rotate(-90) scale(1 1.03)" font-size="28.7" text-anchor="middle">GFP-positive cells (%)</text>
<circle cx="1696.2" cy="891.9" r="4.9" fill="#ff2a00"/>
<circle cx="1687.2" cy="911.5" r="4.9" fill="#ff2a00"/>
<circle cx="1705.7" cy="907.9" r="4.9" fill="#ff2a00"/>
<circle cx="1728.5" cy="941.6" r="4.9" fill="#ff2a00"/>
<circle cx="1747.0" cy="950.3" r="4.9" fill="#ff2a00"/>
<circle cx="1728.5" cy="953.9" r="4.9" fill="#ff2a00"/>
<circle cx="1790.5" cy="738.6" r="4.9" fill="#ff2a00"/>
<circle cx="1799.6" cy="733.9" r="4.9" fill="#ff2a00"/>
<circle cx="1809.0" cy="736.1" r="4.9" fill="#ff2a00"/>
<circle cx="1832.5" cy="782.5" r="4.9" fill="#ff2a00"/>
<circle cx="1850.7" cy="785.7" r="4.9" fill="#ff2a00"/>
<circle cx="1832.5" cy="793.7" r="4.9" fill="#ff2a00"/>
<circle cx="1903.6" cy="734.2" r="4.9" fill="#ff2a00"/>
<circle cx="1903.6" cy="749.8" r="4.9" fill="#ff2a00"/>
<circle cx="1903.6" cy="765.4" r="4.9" fill="#ff2a00"/>
<circle cx="1936.2" cy="837.2" r="4.9" fill="#ff2a00"/>
<circle cx="1944.9" cy="834.3" r="4.9" fill="#ff2a00"/>
<circle cx="1954.0" cy="835.0" r="4.9" fill="#ff2a00"/>
<path d="M1695.5 870.9H1735.4M1695.5 862.9v16.4M1735.4 862.9v16.4" stroke="#000" stroke-width="2.4" fill="none"/>
<text transform="translate(1716.2 873.6) scale(1 1.03)" font-size="27.5" text-anchor="middle">***</text>
<path d="M1798.5 715.8H1838.0M1798.5 707.8v16.4M1838.0 707.8v16.4" stroke="#000" stroke-width="2.4" fill="none"/>
<text transform="translate(1819.0 719.5) scale(1 1.03)" font-size="27.5" text-anchor="middle">***</text>
<path d="M1903.2 715.8H1942.7M1903.2 707.8v16.4M1942.7 707.8v16.4" stroke="#000" stroke-width="2.4" fill="none"/>
<text transform="translate(1923.8 719.5) scale(1 1.03)" font-size="27.5" text-anchor="middle">***</text>
<text transform="translate(1712.9 1069.6) scale(1 1.03)" font-size="29.2" text-anchor="middle">siCtrl</text>
<text transform="translate(1813.2 1069.6) scale(1 1.03)" font-size="29.2" text-anchor="middle">siM16-1</text>
<text transform="translate(1920.6 1069.6) scale(1 1.03)" font-size="29.2" text-anchor="middle">siM16-2</text>
<rect x="1647.7" y="1385.3" width="34.7" height="18.8" fill="#fff" stroke="#000" stroke-width="2.3"/>
<rect x="1766.9" y="1385.3" width="34.3" height="18.8" fill="#d4d4d4" stroke="#000" stroke-width="2.3"/>
<text transform="translate(1694.4 1403.0) scale(1 1.03)" font-size="29.2">NaB</text>
<text transform="translate(1812.9 1403.0) scale(1 1.03)" font-size="28.8" word-spacing="-0.5">NaB + NAC</text>
<rect x="1666.4" y="1617.7" width="26.2" height="132.3" fill="#fff" stroke="#000" stroke-width="2.3"/>
<rect x="1708.0" y="1662.5" width="26.1" height="87.5" fill="#d4d4d4" stroke="#000" stroke-width="2.3"/>
<rect x="1777.7" y="1618.8" width="25.8" height="131.2" fill="#fff" stroke="#000" stroke-width="2.3"/>
<rect x="1818.9" y="1645.9" width="26.2" height="104.1" fill="#d4d4d4" stroke="#000" stroke-width="2.3"/>
<rect x="1888.6" y="1494.5" width="25.8" height="255.5" fill="#fff" stroke="#000" stroke-width="2.3"/>
<rect x="1930.2" y="1537.5" width="25.8" height="212.5" fill="#d4d4d4" stroke="#000" stroke-width="2.3"/>
<path d="M1679.5 1605.4V1628.5M1671.4 1605.4h16.2M1671.4 1628.5h16.2" stroke="#000" stroke-width="2.2" fill="none"/>
<path d="M1721.0 1655.2V1668.6M1712.9 1655.2h16.2M1712.9 1668.6h16.2" stroke="#000" stroke-width="2.2" fill="none"/>
<path d="M1831.9 1625.2V1665.0M1823.8 1625.2h16.2M1823.8 1665.0h16.2" stroke="#000" stroke-width="2.2" fill="none"/>
<path d="M1901.0 1490.1V1498.4M1892.9 1490.1h16.2M1892.9 1498.4h16.2" stroke="#000" stroke-width="2.2" fill="none"/>
<path d="M1942.9 1520.8V1552.3M1934.8 1520.8h16.2M1934.8 1552.3h16.2" stroke="#000" stroke-width="2.2" fill="none"/>
<path d="M1652.4 1429.9V1750.0M1638.6 1750.0H1971.8" stroke="#000" stroke-width="2.4" fill="none"/>
<path d="M1638.6 1430.9H1652.4" stroke="#000" stroke-width="2.4"/>
<text transform="translate(1634.8 1439.7) scale(1 1.03)" font-size="28.8" text-anchor="end">60</text>
<path d="M1638.6 1537.3H1652.4" stroke="#000" stroke-width="2.4"/>
<text transform="translate(1634.8 1546.1) scale(1 1.03)" font-size="28.8" text-anchor="end">40</text>
<path d="M1638.6 1643.6H1652.4" stroke="#000" stroke-width="2.4"/>
<text transform="translate(1634.8 1652.4) scale(1 1.03)" font-size="28.8" text-anchor="end">20</text>
<path d="M1638.6 1750.0H1652.4" stroke="#000" stroke-width="2.4"/>
<text transform="translate(1632.9 1758.8) scale(1 1.03)" font-size="28.8" text-anchor="end">0</text>
<text transform="translate(1588.2 1594.4) rotate(-90) scale(1 1.03)" font-size="28.7" text-anchor="middle">GFP-positive cells (%)</text>
<circle cx="1679.5" cy="1604.7" r="4.9" fill="#ff2a00"/>
<circle cx="1670.4" cy="1625.3" r="4.9" fill="#ff2a00"/>
<circle cx="1688.5" cy="1621.3" r="4.9" fill="#ff2a00"/>
<circle cx="1712.0" cy="1654.5" r="4.9" fill="#ff2a00"/>
<circle cx="1729.7" cy="1663.2" r="4.9" fill="#ff2a00"/>
<circle cx="1712.0" cy="1667.9" r="4.9" fill="#ff2a00"/>
<circle cx="1781.3" cy="1618.7" r="4.9" fill="#ff2a00"/>
<circle cx="1790.0" cy="1614.4" r="4.9" fill="#ff2a00"/>
<circle cx="1799.0" cy="1618.4" r="4.9" fill="#ff2a00"/>
<circle cx="1831.9" cy="1622.0" r="4.9" fill="#ff2a00"/>
<circle cx="1822.9" cy="1658.9" r="4.9" fill="#ff2a00"/>
<circle cx="1841.0" cy="1654.2" r="4.9" fill="#ff2a00"/>
<circle cx="1892.3" cy="1498.4" r="4.9" fill="#ff2a00"/>
<circle cx="1900.9" cy="1489.0" r="4.9" fill="#ff2a00"/>
<circle cx="1910.0" cy="1493.4" r="4.9" fill="#ff2a00"/>
<circle cx="1933.8" cy="1523.7" r="4.9" fill="#ff2a00"/>
<circle cx="1951.9" cy="1531.0" r="4.9" fill="#ff2a00"/>
<circle cx="1942.9" cy="1554.1" r="4.9" fill="#ff2a00"/>
<path d="M1678.4 1588.4H1718.1M1678.4 1580.4v16.4M1718.1 1580.4v16.4" stroke="#000" stroke-width="2.4" fill="none"/>
<text transform="translate(1699.0 1588.0) scale(1 1.03)" font-size="27.5" text-anchor="middle">**</text>
<path d="M1790.7 1591.3H1830.8M1790.7 1583.3v16.4M1830.8 1583.3v16.4" stroke="#000" stroke-width="2.4" fill="none"/>
<text transform="translate(1811.5 1591.6) scale(1 1.03)" font-size="27.5" text-anchor="middle">*</text>
<path d="M1900.6 1469.9H1941.0M1900.6 1461.9v16.4M1941.0 1461.9v16.4" stroke="#000" stroke-width="2.4" fill="none"/>
<text transform="translate(1921.6 1470.5) scale(1 1.03)" font-size="27.5" text-anchor="middle">**</text>
<text transform="translate(1703.7 1783.1) scale(1 1.03)" font-size="29.2" text-anchor="middle">siCtrl</text>
<text transform="translate(1814.6 1783.1) scale(1 1.03)" font-size="29.2" text-anchor="middle">siMA-1</text>
<text transform="translate(1925.5 1783.1) scale(1 1.03)" font-size="29.2" text-anchor="middle">siMA-2</text>
<defs>
<clipPath id="pc"><rect width="239.7" height="181.0"/></clipPath>
<filter id="bl" x="-5%" y="-5%" width="110%" height="110%" color-interpolation-filters="sRGB"><feGaussianBlur stdDeviation="1.1"/></filter>
<filter id="halo" x="-10%" y="-10%" width="120%" height="120%" color-interpolation-filters="sRGB"><feGaussianBlur stdDeviation="4.5"/></filter>
<filter id="trc0" x="0" y="0" width="100%" height="100%" color-interpolation-filters="sRGB"><feTurbulence type="fractalNoise" baseFrequency="0.045" numOctaves="3" seed="3"/><feColorMatrix type="matrix" values="0.792 0 0 0 -0.176 0.119 0 0 0 -0.026 0.000 0 0 0 -0.000 0 0 0 0 1"/></filter>
<filter id="tgc0" x="0" y="0" width="100%" height="100%" color-interpolation-filters="sRGB"><feTurbulence type="fractalNoise" baseFrequency="0.03" numOctaves="3" seed="53"/><feColorMatrix type="matrix" values="0.014 0 0 0 0.007 0.080 0 0 0 0.040 0.008 0 0 0 0.004 0 0 0 0 1"/></filter>
<g id="rc0" clip-path="url(#pc)"><g filter="url(#bl)"><rect width="239.7" height="181.0" fill="#000" filter="url(#trc0)"/><path fill="#140300" fill-opacity="0.8" d="M176 83 182 83 186 88 187 94 182 97 176 98 170 94 170 86ZM182 112 183 119 179 124 174 125 169 119 167 111 170 104 177 107ZM163 31 163 39 156 40 149 31 145 23 144 13 152 14 160 20ZM139 23 141 30 143 37 133 37 123 35 119 28 117 21 128 21ZM223 121 228 113 233 108 240 109 245 114 245 121 238 127 229 126ZM227 171 229 178 228 186 218 192 211 189 207 184 211 176 219 172ZM217 25 220 15 229 14 233 23 235 32 231 42 222 42 215 35ZM18 45 11 45 4 40 3 32 6 27 11 26 19 30 20 39ZM68 68 74 69 80 70 82 76 76 80 70 83 66 79 66 74ZM229 105 234 105 236 110 234 120 230 127 226 130 224 126 224 116ZM169 168 166 163 168 158 174 158 179 163 184 170 180 174 174 173ZM149 166 154 167 159 171 160 178 154 181 149 179 145 177 146 171ZM106 132 103 126 104 118 114 112 125 112 130 118 125 129 114 132ZM76 15 83 9 90 14 94 19 94 28 87 33 80 29 74 25ZM125 7 120 4 119 -1 119 -8 126 -7 131 -3 135 3 130 7ZM45 109 41 114 35 116 27 114 24 109 24 103 31 101 39 104ZM234 89 241 90 247 93 248 100 245 107 238 105 232 102 228 95ZM204 73 212 74 220 77 217 80 213 82 205 81 199 79 196 74ZM142 66 135 63 129 57 134 48 143 45 152 45 151 55 151 63ZM128 138 131 145 131 153 124 151 118 149 115 140 117 134 123 132ZM198 125 198 119 203 115 208 115 215 116 216 123 211 127 205 129ZM193 39 197 43 196 48 193 51 188 53 184 48 183 43 187 40Z"/><path fill="#800c00" fill-opacity="0.8" d="M99 54 106 52 111 54 112 59 108 65 102 67 97 65 97 60ZM101 144 95 147 87 142 84 132 87 126 93 124 101 126 105 137ZM145 107 141 114 133 119 122 119 122 112 122 106 130 103 140 101ZM162 177 161 171 164 166 172 162 182 167 189 174 183 179 172 180ZM4 154 10 149 15 156 14 168 11 178 5 176 2 172 1 163ZM29 21 25 24 21 24 18 14 20 3 24 -4 28 2 31 11ZM32 67 37 74 37 80 34 87 26 87 20 82 20 75 24 70ZM136 4 132 -3 135 -9 142 -9 150 -3 153 5 149 9 142 10ZM55 49 65 47 67 50 66 55 58 59 50 61 43 60 47 54ZM235 42 227 40 222 33 227 26 234 22 240 25 245 30 241 37ZM169 120 168 127 163 133 158 134 154 131 155 123 161 118 168 114ZM24 88 17 93 9 90 10 81 13 76 19 71 27 74 29 82ZM180 23 173 22 168 18 172 14 177 11 184 14 186 17 185 21Z"/><path fill="#6c0900" fill-opacity="0.8" d="M56 7 49 15 41 13 34 9 35 -0 42 -5 51 -10 57 -3ZM160 13 163 6 165 -1 172 -1 179 3 177 10 173 15 166 16ZM124 88 131 81 138 76 143 81 147 90 141 100 133 100 127 96ZM114 83 107 87 100 83 101 76 107 71 114 70 118 73 119 78ZM217 94 225 98 232 106 233 114 228 117 221 112 214 105 213 98ZM176 95 172 88 175 81 186 78 195 80 200 86 195 93 186 96ZM73 51 65 46 56 43 59 35 63 31 70 30 76 35 76 43ZM85 13 87 20 82 27 76 27 70 25 71 17 75 12 81 7ZM73 71 68 68 65 62 65 57 67 51 73 55 77 61 77 68ZM107 135 109 140 105 144 100 146 95 144 97 138 99 133 104 131ZM185 22 179 15 177 8 180 2 188 2 196 7 197 15 193 22Z"/><path fill="#460400" fill-opacity="0.8" d="M174 48 167 48 168 40 170 34 175 31 180 35 185 41 181 48ZM13 136 18 131 26 130 30 135 30 141 26 145 20 145 15 142ZM84 8 82 13 75 14 65 11 60 3 62 -2 70 -2 80 1ZM205 121 199 121 193 117 191 111 195 109 200 107 206 112 208 118ZM125 106 130 109 131 114 125 121 115 122 107 119 108 112 117 106ZM160 136 153 137 146 130 141 124 140 116 148 117 156 121 159 129ZM133 147 139 143 148 147 150 156 148 163 140 166 133 160 129 153ZM36 79 29 82 22 80 21 72 23 67 29 64 35 67 37 72ZM196 182 191 184 188 183 186 177 189 170 193 166 197 168 198 173ZM169 144 169 153 164 160 155 160 149 153 150 145 155 141 161 140ZM58 186 53 181 47 177 46 169 49 166 54 167 59 173 61 181ZM57 141 54 134 58 127 65 123 70 127 71 133 68 140 61 147ZM73 109 78 112 77 121 71 126 65 129 61 125 63 117 67 108Z"/><path fill="#590600" fill-opacity="0.8" d="M71 100 71 105 68 107 61 101 56 94 53 86 58 85 65 93ZM201 154 194 162 184 165 184 158 185 153 192 148 198 146 203 148ZM94 91 85 83 83 74 82 64 89 67 97 74 100 82 99 88ZM39 53 49 55 53 62 47 66 39 69 29 66 29 60 32 55ZM172 120 166 127 156 126 149 116 150 107 154 101 161 103 167 110ZM112 118 103 119 100 110 101 100 111 94 120 92 122 102 119 110ZM214 29 210 36 201 36 196 28 198 21 201 12 208 16 214 20ZM73 51 65 49 62 44 65 40 71 38 79 39 80 44 79 48ZM89 123 89 116 94 111 102 114 107 118 106 124 101 128 94 127ZM109 170 104 171 98 170 95 161 99 155 103 150 108 156 111 163ZM130 80 129 73 129 65 136 61 144 63 147 71 144 80 136 84ZM72 90 75 82 78 75 86 76 90 81 94 89 87 94 79 96ZM208 71 206 77 202 82 197 81 194 77 194 69 199 65 204 67ZM207 33 204 22 209 14 218 16 226 22 226 33 220 39 213 40ZM25 -6 30 -2 26 5 18 9 10 8 9 2 10 -5 18 -8ZM191 81 191 75 196 70 205 73 210 80 206 85 202 89 194 88ZM56 123 53 119 52 111 54 106 59 103 62 109 64 118 60 122ZM133 103 131 98 139 97 149 97 158 101 154 106 149 109 139 108ZM237 114 240 121 235 129 231 134 226 132 225 125 226 118 232 114ZM200 87 208 82 215 84 223 88 220 96 215 100 207 102 204 95Z"/><path fill="#330200" fill-opacity="0.8" d="M191 46 186 41 190 34 196 32 203 31 204 39 203 45 198 50ZM191 170 188 161 194 154 201 155 208 158 211 167 204 173 197 173ZM175 116 166 114 165 109 167 106 173 105 183 108 186 113 184 118ZM76 97 87 98 97 104 99 113 90 117 81 118 72 113 69 104ZM130 29 126 38 121 48 111 46 107 38 111 29 116 19 124 23ZM205 127 197 133 187 134 179 128 174 120 178 113 189 113 198 119ZM95 99 99 108 91 111 83 108 75 104 73 94 80 90 89 93ZM30 88 22 90 19 85 22 79 30 77 39 75 39 81 36 85ZM60 173 61 167 69 165 78 171 80 179 78 184 71 184 63 181ZM114 185 105 185 104 177 104 169 112 166 121 167 125 175 121 183ZM86 131 85 122 95 120 104 118 108 127 106 134 99 138 90 140Z"/></g><g filter="url(#halo)" opacity="0.5"><g id="rbc0"><path fill="#2a0700" d="M93 94 83 97 73 92 70 84 77 77 87 73 96 78 96 86ZM130 99 127 92 136 86 145 90 151 95 152 102 143 105 135 104ZM42 149 30 150 18 145 23 136 29 128 43 130 54 135 54 145Z"/><path fill="#4c0400" d="M118 68 121 69 125 73 123 79 121 84 116 84 114 78 114 70Z"/><path fill="#730a00" d="M169 85 165 84 162 79 165 76 170 74 174 78 174 82 173 86ZM114 118 109 118 106 115 106 110 111 109 116 107 118 112 119 116ZM127.1 115.7 129.4 117.3 129.4 120.3 125.9 120.6 123.0 120.8 121.4 118.6 122.1 116.2 124.6 115.1ZM140 136 137 136 135 134 134 129 137 125 140 126 142 129 142 133Z"/><path fill="#800c00" d="M101 82 96 81 93 78 91 74 93 69 99 69 102 72 105 77ZM222 124 226 139 218 152 201 157 192 143 186 129 194 113 212 113ZM167 107 179 110 185 119 185 129 174 135 162 132 152 125 157 115ZM-3 13 0 4 10 -1 21 3 24 11 24 20 14 25 3 21Z"/><path fill="#b21800" d="M29 27 33 29 35 33 32 36 27 39 22 37 22 32 23 28Z"/><path fill="#ff3200" d="M58 5 59 3 60 2 62 6 62 12 61 17 59 15 57 11ZM73.3 7.8 73.3 10.4 70.8 11.3 68.7 9.8 69.2 7.3 71.5 6.3ZM108.6 22.2 112.1 22.1 113.4 25.8 110.3 27.5 107.5 27.1 106.5 24.3ZM117 41 114 46 112 43 111 37 111 29 116 28 119 29 120 36ZM212 39 208 31 208 22 218 18 227 20 232 26 232 35 224 43ZM189.2 40.0 193.7 38.7 197.4 39.8 200.5 42.8 198.5 46.5 195.8 50.3 191.6 48.0 189.8 44.6ZM37.7 120.5 33.8 119.7 32.6 116.1 35.3 113.4 38.9 113.2 41.3 114.8 42.2 117.2 41.0 119.7ZM163 98 170 95 178 99 178 107 176 114 168 115 161 112 161 105ZM177 92 177 97 171 99 165 99 163 93 163 88 169 87 176 86ZM148 121 157 123 163 127 163 133 155 136 147 135 139 132 141 125ZM162 140 157 137 157 130 159 125 164 123 167 127 169 132 168 139ZM80.2 159.8 82.6 157.4 86.2 157.7 88.9 160.3 88.8 164.4 85.1 165.5 82.1 165.1 79.5 163.1ZM154.9 149.4 153.1 151.6 150.4 151.2 148.5 148.6 151.0 146.4 154.2 146.2ZM181.5 151.1 182.1 155.3 178.7 157.6 175.4 156.0 172.0 153.5 173.2 148.8 176.6 147.0 180.6 146.7ZM190 155 184 158 181 151 179 144 184 135 191 131 194 138 195 146ZM212.4 148.3 214.3 150.2 214.8 152.6 214.0 155.4 210.9 156.2 208.8 154.0 207.4 151.3 209.8 149.3ZM227 150 225 139 226 134 229 130 236 141 239 154 236 158 233 160ZM10 102 9 107 5 109 1 109 -1 105 -2 99 3 98 6 98ZM161.8 62.1 162.4 63.8 161.0 65.1 158.8 64.9 158.4 62.6 160.0 60.9ZM122 2 128 2 126 7 124 11 119 13 113 12 114 8 116 3ZM49 29 58 25 68 22 69 34 68 44 59 53 49 50 46 40ZM48 35 49 40 47 44 43 45 40 40 40 36 43 32 46 30ZM93 36 99 38 101 48 96 56 90 60 85 55 83 47 87 40ZM75 65 72 68 68 68 67 63 66 58 69 56 73 56 75 60ZM73.2 59.3 73.9 54.6 78.2 52.5 82.3 54.0 85.3 57.4 83.9 62.0 79.8 63.5 75.2 63.7ZM157 25 152 19 160 16 171 20 180 26 180 32 171 32 162 32ZM176 17 185 16 192 18 197 23 193 28 185 30 179 26 173 22ZM227.9 50.7 228.2 53.7 227.0 56.9 223.3 57.9 220.2 55.6 219.7 51.9 222.0 49.2 225.5 47.8ZM238.4 80.7 237.0 83.3 233.8 84.2 232.8 81.1 233.6 78.4 236.9 77.8ZM197.8 88.3 199.9 90.4 199.0 93.1 196.2 94.4 195.0 91.8 195.2 89.4ZM80 108 82 103 86 100 91 99 95 103 94 109 90 114 84 112ZM87.8 132.6 84.2 131.7 82.7 128.8 82.4 125.5 85.3 123.9 88.8 123.3 91.8 126.2 91.0 130.3ZM113 126 111 134 105 138 102 133 101 127 104 121 109 117 113 119ZM59.8 178.9 58.1 176.0 59.9 173.0 63.6 173.0 67.0 173.7 68.6 176.8 65.7 178.9 62.8 180.9ZM233 158 230 161 224 161 220 160 216 156 221 153 226 151 231 154ZM136 0 144 -2 151 1 156 6 151 11 145 13 139 11 133 7ZM127.6 5.7 125.8 3.4 127.6 0.9 131.8 -0.1 135.9 1.2 137.2 3.9 134.8 6.1 131.0 7.0ZM63.8 59.0 63.2 63.4 59.0 64.7 55.7 63.0 53.2 60.2 54.1 56.2 57.8 54.4 61.3 55.9ZM200 30 191 34 182 33 178 29 184 25 196 22 206 23 209 27ZM241 51 243 55 237 58 230 61 223 59 222 56 226 52 234 51ZM205 58 207 54 211 56 214 59 214 64 211 66 207 65 205 63ZM200 83 199 77 200 72 204 71 209 73 210 79 209 84 205 85ZM175 92 180 90 187 89 189 98 191 107 185 109 179 108 175 101ZM33 85 36 79 45 76 52 77 53 83 48 88 40 91 32 91ZM22 94 28 94 35 98 37 107 36 112 33 116 27 110 23 102ZM85 112 88 116 89 121 85 125 81 124 76 121 76 114 80 111ZM156 106 160 104 163 106 165 111 163 115 159 116 155 114 154 110ZM168.9 119.5 166.1 122.9 161.8 121.7 157.7 120.5 157.6 116.6 160.1 113.4 164.2 114.4 166.8 116.2ZM187 115 192 112 197 110 198 117 198 124 192 129 187 128 185 122ZM2.1 154.9 0.4 152.1 0.4 148.8 3.8 148.6 5.7 150.7 5.7 154.1ZM78 172 74 180 68 178 64 172 63 163 67 157 73 158 76 164ZM99.1 163.9 97.7 166.4 94.9 166.9 93.7 164.5 94.7 162.3 97.0 162.2ZM179 167 179 163 180 159 182 158 184 161 186 165 184 168 181 171ZM171.2 166.0 173.4 164.2 176.4 163.3 177.7 166.6 178.0 169.7 176.2 173.3 172.6 172.8 170.4 169.6ZM153.2 176.0 156.6 173.8 161.3 174.1 162.5 177.3 163.7 180.6 159.8 183.0 155.3 181.9 153.3 179.2ZM108.8 72.3 106.9 73.7 104.2 73.5 103.8 70.6 105.9 68.6 108.8 69.4Z"/></g></g><use href="#rbc0" filter="url(#bl)"/></g>
<g id="gc0" clip-path="url(#pc)"><g filter="url(#bl)"><rect width="239.7" height="181.0" fill="#000" filter="url(#tgc0)"/><path fill="#074004" fill-opacity="0.8" d="M26 -0 24 7 18 9 11 7 10 0 9 -7 16 -10 22 -6ZM90 68 97 68 103 75 105 81 101 85 94 82 86 78 87 72ZM172 133 165 139 157 142 151 140 157 133 163 128 170 125 176 126ZM8 152 5 148 5 144 10 142 15 141 19 146 18 150 13 152Z"/><path fill="#032e03" fill-opacity="0.8" d="M127 57 126 64 123 68 118 67 114 65 114 59 117 55 122 56ZM121 162 123 168 123 174 114 173 106 171 101 165 106 160 113 160Z"/></g><g filter="url(#halo)" opacity="0.5"><g id="gbc0"><path fill="#041303" d="M93 94 83 97 73 92 70 84 77 77 87 73 96 78 96 86ZM130 99 127 92 136 86 145 90 151 95 152 102 143 105 135 104ZM42 149 30 150 18 145 23 136 29 128 43 130 54 135 54 145Z"/><path fill="#011a02" d="M58 5 59 3 60 2 62 6 62 12 61 17 59 15 57 11ZM73.3 7.8 73.3 10.4 70.8 11.3 68.7 9.8 69.2 7.3 71.5 6.3ZM108.6 22.2 112.1 22.1 113.4 25.8 110.3 27.5 107.5 27.1 106.5 24.3ZM117 41 114 46 112 43 111 37 111 29 116 28 119 29 120 36ZM212 39 208 31 208 22 218 18 227 20 232 26 232 35 224 43ZM189.2 40.0 193.7 38.7 197.4 39.8 200.5 42.8 198.5 46.5 195.8 50.3 191.6 48.0 189.8 44.6ZM37.7 120.5 33.8 119.7 32.6 116.1 35.3 113.4 38.9 113.2 41.3 114.8 42.2 117.2 41.0 119.7ZM163 98 170 95 178 99 178 107 176 114 168 115 161 112 161 105ZM177 92 177 97 171 99 165 99 163 93 163 88 169 87 176 86ZM148 121 157 123 163 127 163 133 155 136 147 135 139 132 141 125ZM162 140 157 137 157 130 159 125 164 123 167 127 169 132 168 139ZM80.2 159.8 82.6 157.4 86.2 157.7 88.9 160.3 88.8 164.4 85.1 165.5 82.1 165.1 79.5 163.1ZM154.9 149.4 153.1 151.6 150.4 151.2 148.5 148.6 151.0 146.4 154.2 146.2ZM181.5 151.1 182.1 155.3 178.7 157.6 175.4 156.0 172.0 153.5 173.2 148.8 176.6 147.0 180.6 146.7ZM190 155 184 158 181 151 179 144 184 135 191 131 194 138 195 146ZM212.4 148.3 214.3 150.2 214.8 152.6 214.0 155.4 210.9 156.2 208.8 154.0 207.4 151.3 209.8 149.3ZM227 150 225 139 226 134 229 130 236 141 239 154 236 158 233 160ZM10 102 9 107 5 109 1 109 -1 105 -2 99 3 98 6 98ZM161.8 62.1 162.4 63.8 161.0 65.1 158.8 64.9 158.4 62.6 160.0 60.9Z"/><path fill="#177808" d="M118 68 121 69 125 73 123 79 121 84 116 84 114 78 114 70ZM122 2 128 2 126 7 124 11 119 13 113 12 114 8 116 3ZM49 29 58 25 68 22 69 34 68 44 59 53 49 50 46 40ZM48 35 49 40 47 44 43 45 40 40 40 36 43 32 46 30ZM93 36 99 38 101 48 96 56 90 60 85 55 83 47 87 40ZM75 65 72 68 68 68 67 63 66 58 69 56 73 56 75 60ZM73.2 59.3 73.9 54.6 78.2 52.5 82.3 54.0 85.3 57.4 83.9 62.0 79.8 63.5 75.2 63.7ZM157 25 152 19 160 16 171 20 180 26 180 32 171 32 162 32ZM176 17 185 16 192 18 197 23 193 28 185 30 179 26 173 22ZM227.9 50.7 228.2 53.7 227.0 56.9 223.3 57.9 220.2 55.6 219.7 51.9 222.0 49.2 225.5 47.8ZM238.4 80.7 237.0 83.3 233.8 84.2 232.8 81.1 233.6 78.4 236.9 77.8ZM197.8 88.3 199.9 90.4 199.0 93.1 196.2 94.4 195.0 91.8 195.2 89.4ZM80 108 82 103 86 100 91 99 95 103 94 109 90 114 84 112ZM87.8 132.6 84.2 131.7 82.7 128.8 82.4 125.5 85.3 123.9 88.8 123.3 91.8 126.2 91.0 130.3ZM113 126 111 134 105 138 102 133 101 127 104 121 109 117 113 119ZM59.8 178.9 58.1 176.0 59.9 173.0 63.6 173.0 67.0 173.7 68.6 176.8 65.7 178.9 62.8 180.9ZM233 158 230 161 224 161 220 160 216 156 221 153 226 151 231 154Z"/><path fill="#69ff10" d="M169 85 165 84 162 79 165 76 170 74 174 78 174 82 173 86ZM114 118 109 118 106 115 106 110 111 109 116 107 118 112 119 116ZM127.1 115.7 129.4 117.3 129.4 120.3 125.9 120.6 123.0 120.8 121.4 118.6 122.1 116.2 124.6 115.1ZM140 136 137 136 135 134 134 129 137 125 140 126 142 129 142 133ZM136 0 144 -2 151 1 156 6 151 11 145 13 139 11 133 7ZM127.6 5.7 125.8 3.4 127.6 0.9 131.8 -0.1 135.9 1.2 137.2 3.9 134.8 6.1 131.0 7.0ZM63.8 59.0 63.2 63.4 59.0 64.7 55.7 63.0 53.2 60.2 54.1 56.2 57.8 54.4 61.3 55.9ZM200 30 191 34 182 33 178 29 184 25 196 22 206 23 209 27ZM241 51 243 55 237 58 230 61 223 59 222 56 226 52 234 51ZM205 58 207 54 211 56 214 59 214 64 211 66 207 65 205 63ZM200 83 199 77 200 72 204 71 209 73 210 79 209 84 205 85ZM175 92 180 90 187 89 189 98 191 107 185 109 179 108 175 101ZM33 85 36 79 45 76 52 77 53 83 48 88 40 91 32 91ZM22 94 28 94 35 98 37 107 36 112 33 116 27 110 23 102ZM85 112 88 116 89 121 85 125 81 124 76 121 76 114 80 111ZM156 106 160 104 163 106 165 111 163 115 159 116 155 114 154 110ZM168.9 119.5 166.1 122.9 161.8 121.7 157.7 120.5 157.6 116.6 160.1 113.4 164.2 114.4 166.8 116.2ZM187 115 192 112 197 110 198 117 198 124 192 129 187 128 185 122ZM2.1 154.9 0.4 152.1 0.4 148.8 3.8 148.6 5.7 150.7 5.7 154.1ZM78 172 74 180 68 178 64 172 63 163 67 157 73 158 76 164ZM99.1 163.9 97.7 166.4 94.9 166.9 93.7 164.5 94.7 162.3 97.0 162.2ZM179 167 179 163 180 159 182 158 184 161 186 165 184 168 181 171ZM171.2 166.0 173.4 164.2 176.4 163.3 177.7 166.6 178.0 169.7 176.2 173.3 172.6 172.8 170.4 169.6ZM153.2 176.0 156.6 173.8 161.3 174.1 162.5 177.3 163.7 180.6 159.8 183.0 155.3 181.9 153.3 179.2ZM108.8 72.3 106.9 73.7 104.2 73.5 103.8 70.6 105.9 68.6 108.8 69.4Z"/></g></g><use href="#gbc0" filter="url(#bl)"/></g>
<filter id="trc1" x="0" y="0" width="100%" height="100%" color-interpolation-filters="sRGB"><feTurbulence type="fractalNoise" baseFrequency="0.045" numOctaves="3" seed="4"/><feColorMatrix type="matrix" values="0.432 0 0 0 -0.096 0.065 0 0 0 -0.014 0.000 0 0 0 -0.000 0 0 0 0 1"/></filter>
<filter id="tgc1" x="0" y="0" width="100%" height="100%" color-interpolation-filters="sRGB"><feTurbulence type="fractalNoise" baseFrequency="0.03" numOctaves="3" seed="54"/><feColorMatrix type="matrix" values="0.014 0 0 0 0.007 0.085 0 0 0 0.043 0.009 0 0 0 0.004 0 0 0 0 1"/></filter>
<g id="rc1" clip-path="url(#pc)"><g filter="url(#bl)"><rect width="239.7" height="181.0" fill="#000" filter="url(#trc1)"/><path fill="#2e0200" fill-opacity="0.8" d="M36 144 41 152 40 158 35 163 24 162 18 154 19 147 25 143ZM165 153 160 157 154 160 153 154 154 148 160 144 166 143 166 148ZM-6 108 -10 102 -7 95 -0 90 5 94 12 99 9 108 1 113ZM179 87 179 78 181 73 187 75 193 82 194 91 192 97 186 93ZM228 69 226 63 229 52 237 47 242 50 240 60 237 68 231 74ZM192 64 191 56 193 48 200 43 207 48 212 55 207 61 201 65ZM92 7 83 10 73 10 76 3 79 -4 90 -5 100 -4 97 2ZM49 47 41 46 34 44 30 36 35 32 40 30 46 33 52 39ZM52 110 52 104 56 100 62 103 66 108 66 114 60 116 55 115Z"/><path fill="#140300" fill-opacity="0.8" d="M206 50 211 45 216 46 220 49 223 55 217 59 211 59 207 55ZM108 151 110 147 115 144 120 147 123 152 120 158 114 159 108 157ZM61 23 69 18 77 17 78 23 75 30 68 36 61 37 60 31ZM88 172 80 180 71 179 64 177 65 169 74 163 82 161 90 163ZM124 104 132 104 140 107 143 113 140 117 132 117 125 113 122 108ZM118 149 112 147 116 141 121 136 129 131 132 135 133 140 126 146ZM132 106 137 97 142 94 146 96 144 106 140 113 135 120 133 114ZM128 151 127 146 129 141 138 142 146 148 148 156 142 160 134 158ZM204 53 211 54 218 62 224 71 219 72 213 70 205 64 199 55ZM37 147 33 139 38 131 46 130 53 129 57 136 54 144 46 148ZM162 74 168 78 171 87 166 93 161 99 155 93 151 83 155 74ZM155 185 149 192 145 187 145 178 147 167 154 161 160 165 159 176ZM169 172 176 177 171 180 164 182 155 179 148 174 150 169 160 170Z"/><path fill="#500500" fill-opacity="0.8" d="M35 124 44 129 49 137 45 145 35 147 26 142 19 134 25 126ZM176 27 182 22 187 29 191 35 186 41 179 44 172 40 171 32ZM129 161 126 171 120 169 114 162 114 149 119 145 125 141 130 150ZM158 44 164 40 170 43 170 50 168 59 161 63 154 58 154 50ZM101 12 95 10 89 6 89 -2 93 -6 100 -6 103 1 108 9ZM82 127 76 130 69 129 66 122 68 115 75 111 82 114 84 121ZM58 76 52 72 50 64 50 52 57 46 64 47 65 58 63 67ZM124 122 131 122 134 127 134 134 129 137 123 139 119 133 119 126ZM178 157 178 164 173 168 165 164 159 156 157 149 161 145 170 148ZM198 71 192 74 185 74 182 69 182 63 188 58 196 60 200 65ZM29 17 36 11 40 12 44 14 40 21 34 26 27 29 26 25ZM65 67 62 75 55 77 50 71 49 63 53 55 61 54 64 61Z"/><path fill="#3f0300" fill-opacity="0.8" d="M222 46 221 55 218 62 210 62 204 57 200 48 207 42 215 42ZM121 65 124 56 132 50 138 53 142 57 137 65 130 71 125 70ZM173 156 180 157 185 163 183 172 176 177 169 175 167 168 168 162ZM144 166 139 166 134 165 137 156 143 148 148 147 152 150 150 160ZM136 23 140 17 148 17 154 19 159 23 154 28 147 33 142 28ZM221 100 215 104 207 108 202 100 205 92 209 86 217 84 222 91ZM38 170 43 166 47 167 50 170 47 177 42 183 38 180 35 177Z"/><path fill="#730a00" fill-opacity="0.8" d="M6 8 10 14 7 20 2 24 -4 23 -7 17 -7 10 -1 7ZM103 119 113 120 118 128 119 134 114 137 105 137 96 130 96 122ZM170 58 175 58 179 63 178 69 173 71 168 73 166 67 167 62ZM211 177 208 185 201 188 192 184 189 175 193 168 201 168 208 169ZM57 45 53 39 55 30 64 24 72 24 79 28 73 36 67 41ZM32 36 39 31 46 31 52 34 54 41 49 48 40 49 35 43Z"/><path fill="#620700" fill-opacity="0.8" d="M100 147 97 153 93 156 86 158 83 152 82 145 89 143 95 142ZM122 116 124 110 132 107 138 111 141 115 141 120 135 123 128 121ZM182 175 175 171 171 163 170 154 173 148 178 146 182 155 183 165ZM115 134 108 133 109 124 114 115 122 111 128 115 127 124 122 130ZM187 101 192 111 192 122 183 127 175 119 170 112 171 104 178 98ZM86 122 87 114 94 111 101 112 105 118 106 125 100 131 93 126ZM169 16 174 12 182 15 184 21 184 26 180 30 172 27 166 21ZM75 -5 86 -6 93 0 91 8 89 16 78 17 70 11 71 3ZM14 121 19 124 25 128 21 133 13 136 6 133 5 128 7 123ZM79 75 70 78 64 73 63 67 70 61 79 58 86 62 86 70ZM117 66 110 59 112 49 115 40 123 38 129 47 129 57 125 66Z"/></g><g filter="url(#halo)" opacity="0.5"><g id="rbc1"><path fill="#120300" d="M58 115 66 103 85 105 92 117 92 130 78 135 64 134 55 126ZM13 62 26 58 31 69 31 78 23 83 11 87 4 78 4 67ZM185 92 176 83 179 74 189 66 203 68 211 76 215 86 201 93ZM81 17 95 18 105 24 107 34 99 42 87 45 80 36 76 27Z"/><path fill="#4c0400" d="M222 21 223 14 228 8 234 9 238 12 238 17 235 23 228 26ZM23.5 166.3 23.4 169.8 21.6 172.7 18.0 171.8 16.9 168.1 19.7 165.4ZM209.8 166.6 206.2 169.1 202.1 166.8 200.4 162.4 203.4 158.9 207.4 156.6 210.3 160.1 213.3 163.6Z"/><path fill="#730a00" d="M44 9 46 15 42 20 36 24 31 19 28 14 32 10 37 5ZM133 28 127 27 123 22 124 16 129 13 135 13 139 18 138 24ZM125 41 120 44 114 48 113 42 112 36 117 31 123 28 124 35ZM42.7 58.0 42.2 61.0 39.7 61.9 37.5 60.1 37.0 56.0 40.9 54.7ZM96.2 104.8 92.2 103.2 92.0 99.3 94.4 96.4 98.7 94.8 101.7 97.9 103.5 101.5 99.7 103.6ZM179 100 183 97 187 94 190 98 192 102 189 107 185 107 179 106ZM214 115 207 114 206 110 208 107 214 104 220 107 224 110 223 114ZM129 125 130 119 136 117 140 118 146 121 145 127 140 130 134 129ZM143.7 126.9 146.1 124.4 149.9 124.6 151.8 127.3 149.0 129.1 145.7 129.6ZM12.3 118.8 13.8 116.9 16.5 116.6 17.9 119.4 17.6 122.5 15.4 124.0 12.8 124.1 10.8 121.6ZM12.1 172.5 10.3 169.7 9.0 166.6 10.1 163.4 12.2 161.8 15.0 162.2 15.1 166.7 14.8 170.9ZM196.3 155.5 198.4 159.5 194.9 162.4 190.9 164.1 187.4 161.2 187.2 157.0 188.8 152.8 193.5 152.4Z"/><path fill="#b21800" d="M156 11 160 8 165 5 168 9 171 14 167 17 162 17 157 15ZM93 153 89 161 81 161 77 153 76 143 82 137 89 137 96 143Z"/><path fill="#bf1c00" d="M69 44 72 52 68 59 61 60 57 54 54 45 59 38 66 37ZM161 148 157 152 151 150 147 147 146 141 149 137 155 139 159 143ZM122 148 125 144 131 141 138 143 143 148 138 153 131 158 126 153Z"/><path fill="#cc2000" d="M134 98 133 103 129 106 117 102 110 94 110 89 115 87 126 90ZM51.3 107.2 48.2 108.2 45.7 107.6 44.4 105.3 43.5 101.9 46.5 99.9 49.3 101.4 50.5 103.9ZM215 164 220 164 224 163 229 169 229 175 227 179 221 178 218 171ZM216 158 211 156 210 153 213 150 219 148 224 151 226 154 223 157Z"/><path fill="#ff3200" d="M68 12 68 5 71 -0 74 -2 76 3 76 10 73 16 69 18ZM67.1 16.9 71.3 16.3 74.1 19.0 75.3 22.6 72.6 25.5 68.9 25.2 65.4 23.8 65.3 20.2ZM117 1 122 4 125 11 122 19 116 24 112 21 110 16 110 6ZM166.3 34.9 170.5 35.7 171.5 39.8 171.1 44.1 167.1 46.7 162.6 44.7 161.3 40.5 161.7 35.8ZM10 52 12 56 9 60 4 60 0 58 1 53 3 49 8 48ZM239.6 55.4 237.0 56.8 234.1 56.1 233.6 52.9 236.1 50.5 239.3 52.1ZM161.3 88.6 160.5 85.7 161.5 82.9 164.5 83.3 165.7 85.8 164.2 88.1ZM109.5 117.6 105.8 115.9 103.6 113.9 104.3 111.2 107.3 109.7 111.5 109.4 113.8 112.2 113.2 115.5ZM212.5 114.4 212.4 117.3 211.3 119.6 208.6 120.8 205.6 119.4 204.4 116.0 206.8 113.5 209.8 113.2ZM60.5 132.6 64.0 131.9 67.5 133.0 67.2 136.2 63.7 137.2 60.8 135.6ZM206.1 141.3 203.7 141.9 201.3 140.1 202.1 136.6 205.4 135.3 207.4 138.4ZM238 143 236 146 233 147 229 146 226 144 227 140 232 140 236 141ZM22 150 28 152 30 160 31 170 25 176 18 173 14 164 17 155ZM123 174 121 181 115 181 112 177 111 171 114 167 118 165 124 167ZM37.0 32.4 35.2 29.9 35.3 27.0 37.1 24.0 41.1 24.1 42.4 27.4 43.6 30.6 40.6 32.8ZM122.0 54.3 120.7 57.1 117.0 57.4 115.3 53.9 117.9 51.4 121.1 51.4ZM124.6 59.8 124.6 62.5 123.3 64.9 120.4 65.6 117.7 63.6 117.4 60.0 120.3 58.6 122.6 58.1ZM115.3 73.1 112.3 73.7 109.7 71.5 110.9 68.0 114.0 67.1 116.3 69.7ZM207 64 200 62 196 58 198 54 204 54 209 55 213 58 213 62ZM83 95 74 99 66 96 64 89 68 82 74 76 81 81 85 87ZM101 101 104 105 106 110 103 115 101 117 98 115 97 109 99 105ZM20 113 25 110 30 114 32 118 30 123 24 122 18 122 17 117ZM45.3 125.1 43.6 123.3 42.5 120.2 44.9 118.5 47.5 117.0 49.3 119.8 49.2 122.8 48.0 125.7ZM3 3 13 4 22 4 23 9 23 12 17 14 9 12 4 8ZM47.1 15.8 49.6 14.4 52.1 15.5 52.7 18.3 50.1 19.4 47.2 18.9ZM36.6 1.5 34.9 3.4 31.6 2.6 30.3 0.9 32.4 -0.4 36.0 -0.7ZM66.0 -0.2 67.1 1.0 65.1 1.7 62.9 1.4 62.2 0.3 63.7 -0.8ZM147.2 23.7 148.4 20.9 151.4 21.0 154.0 22.2 154.1 24.9 153.5 28.2 150.1 28.1 147.2 26.9ZM136 48 130 41 133 32 138 26 147 26 150 35 149 43 143 47ZM145.5 48.9 145.7 46.0 147.6 45.2 149.6 45.5 150.3 48.4 150.1 51.6 148.0 53.3 145.7 52.4ZM164 42 161 35 164 31 168 27 174 31 175 37 175 43 170 45ZM210.2 24.5 213.3 23.7 216.6 23.9 218.0 27.7 216.1 30.7 213.8 33.7 210.5 31.9 210.2 28.2ZM9.5 47.4 7.8 50.3 4.2 49.6 2.7 46.0 5.4 43.1 8.7 44.6ZM60 74 55 75 52 70 53 63 55 57 60 58 64 63 64 71ZM43 64 49 68 51 74 48 80 42 82 35 80 34 72 38 67ZM92.4 61.5 94.8 60.1 97.4 60.1 99.8 61.6 100.6 64.8 97.8 66.9 94.8 65.8 91.6 64.7ZM139.2 62.6 141.8 64.4 143.6 66.5 143.0 69.5 140.5 71.4 137.9 70.1 135.6 67.9 136.4 64.5ZM112.7 73.2 116.7 72.2 119.7 74.2 122.4 76.8 120.2 80.1 115.6 81.1 111.5 79.3 111.4 76.0ZM180.7 71.5 176.8 70.4 176.1 65.9 178.8 62.1 183.3 62.3 187.0 64.6 187.6 69.1 184.0 71.3ZM138.9 78.0 135.8 80.7 131.6 80.1 129.1 77.5 129.7 74.4 131.9 71.6 135.6 72.7 137.4 74.9ZM146 79 152 80 152 85 146 87 141 88 137 85 135 81 140 77ZM151 89 148 86 148 81 152 78 159 77 161 82 160 86 157 90ZM157.0 81.2 156.8 76.6 159.9 73.5 164.3 72.6 166.6 76.3 168.2 80.4 164.5 82.6 160.7 83.6ZM55.0 87.7 57.9 85.8 61.2 85.0 63.5 87.6 63.6 90.9 61.6 93.6 58.0 93.7 55.8 91.2ZM67.4 82.2 70.7 82.5 71.1 85.4 69.7 87.4 67.2 87.2 65.9 84.8ZM125 82 131 83 137 86 137 91 131 95 125 93 119 91 122 86ZM115 103 115 109 111 112 107 113 105 108 104 102 108 100 111 101ZM153.8 113.3 151.6 111.0 150.7 107.2 152.4 104.0 155.2 103.0 157.9 105.1 157.2 109.0 156.1 111.5ZM83.4 110.8 81.3 109.4 81.8 106.6 84.5 106.4 86.5 107.9 85.7 110.3ZM135.0 113.6 133.2 116.9 129.5 119.0 125.0 117.3 125.8 112.7 126.8 108.9 130.7 107.8 134.6 109.5ZM220 126 214 125 210 123 209 118 211 112 216 110 221 114 222 120ZM208 122 209 129 205 132 201 130 197 127 198 120 202 116 206 116ZM111 130 107 136 101 136 100 126 99 116 104 112 110 113 113 121ZM12 125 6 126 1 123 -0 120 0 116 6 115 13 116 15 121ZM-0.7 126.1 0.9 122.3 4.5 121.4 6.4 125.4 7.0 129.4 4.6 131.7 2.1 131.9 0.1 129.7ZM75.4 142.3 73.7 139.3 75.2 136.1 78.4 134.4 81.0 136.7 83.2 139.3 81.1 141.9 78.5 143.1ZM117 135 122 132 127 132 131 134 132 139 129 144 124 143 120 140ZM160.7 138.3 156.9 138.6 154.0 136.2 153.1 132.5 155.2 128.8 159.5 128.5 163.1 130.9 162.9 135.1ZM174.1 130.9 174.0 133.3 172.0 134.4 169.7 133.3 170.0 130.5 172.3 129.4ZM226.6 135.8 224.7 137.4 222.4 137.8 220.9 135.5 222.8 133.7 225.2 133.5ZM186.4 135.6 188.9 139.0 185.4 141.5 182.2 143.6 177.9 142.3 177.0 138.4 178.3 134.6 182.8 132.9ZM200 135 204 138 203 142 199 144 194 143 192 140 192 137 196 135ZM195 148 185 152 175 154 173 151 178 146 187 143 194 142 195 145ZM213.7 149.5 210.0 148.8 208.9 145.0 209.0 141.1 212.1 139.1 216.0 138.9 217.1 143.3 217.4 147.7ZM1.7 146.6 6.0 146.8 9.1 148.6 10.6 152.1 8.3 155.1 4.8 156.8 0.6 155.3 0.3 150.8ZM34 164 29 165 26 161 27 157 30 153 35 152 39 156 38 161ZM105.1 161.5 103.2 164.1 100.9 164.9 98.5 163.2 99.6 160.4 102.3 159.9ZM67.5 169.4 69.2 172.2 68.7 175.5 65.3 175.7 63.2 173.3 64.3 170.5ZM168 148 169 153 167 158 162 161 158 159 157 154 160 150 164 148ZM174 173 167 171 169 166 180 162 191 160 200 161 199 167 185 172ZM7 176 13 177 20 178 15 180 10 182 4 181 0 179 1 177ZM17.9 180.6 15.3 178.1 18.0 175.6 22.0 174.9 26.4 175.5 27.2 178.3 26.0 180.9 21.8 181.5Z"/></g></g><use href="#rbc1" filter="url(#bl)"/></g>
<g id="gc1" clip-path="url(#pc)"><g filter="url(#bl)"><rect width="239.7" height="181.0" fill="#000" filter="url(#tgc1)"/><path fill="#021f02" fill-opacity="0.8" d="M212 15 216 10 223 7 232 9 237 14 235 19 225 19 217 20ZM125 71 121 64 124 58 130 58 136 61 139 67 136 74 130 75ZM190 50 197 55 199 63 197 69 191 69 184 64 182 55 184 50ZM106 103 112 103 118 108 118 115 115 120 110 121 104 117 102 109ZM208 24 206 27 201 28 199 24 198 19 201 17 205 17 209 20ZM33 173 39 173 37 178 32 184 25 187 19 186 21 180 27 175Z"/><path fill="#032e03" fill-opacity="0.8" d="M135 23 131 21 130 17 132 11 138 8 143 10 143 14 141 20ZM103 129 109 128 116 133 116 142 115 148 109 147 105 143 100 136Z"/><path fill="#074004" fill-opacity="0.8" d="M82 37 88 37 93 41 88 44 84 45 77 45 73 41 77 38ZM167 90 171 94 171 101 164 104 159 104 156 99 157 93 162 90Z"/></g><g filter="url(#halo)" opacity="0.5"><g id="gbc1"><path fill="#041303" d="M58 115 66 103 85 105 92 117 92 130 78 135 64 134 55 126ZM13 62 26 58 31 69 31 78 23 83 11 87 4 78 4 67ZM185 92 176 83 179 74 189 66 203 68 211 76 215 86 201 93ZM81 17 95 18 105 24 107 34 99 42 87 45 80 36 76 27Z"/><path fill="#011a02" d="M68 12 68 5 71 -0 74 -2 76 3 76 10 73 16 69 18ZM67.1 16.9 71.3 16.3 74.1 19.0 75.3 22.6 72.6 25.5 68.9 25.2 65.4 23.8 65.3 20.2ZM117 1 122 4 125 11 122 19 116 24 112 21 110 16 110 6ZM166.3 34.9 170.5 35.7 171.5 39.8 171.1 44.1 167.1 46.7 162.6 44.7 161.3 40.5 161.7 35.8ZM10 52 12 56 9 60 4 60 0 58 1 53 3 49 8 48ZM239.6 55.4 237.0 56.8 234.1 56.1 233.6 52.9 236.1 50.5 239.3 52.1ZM161.3 88.6 160.5 85.7 161.5 82.9 164.5 83.3 165.7 85.8 164.2 88.1ZM109.5 117.6 105.8 115.9 103.6 113.9 104.3 111.2 107.3 109.7 111.5 109.4 113.8 112.2 113.2 115.5ZM212.5 114.4 212.4 117.3 211.3 119.6 208.6 120.8 205.6 119.4 204.4 116.0 206.8 113.5 209.8 113.2ZM60.5 132.6 64.0 131.9 67.5 133.0 67.2 136.2 63.7 137.2 60.8 135.6ZM206.1 141.3 203.7 141.9 201.3 140.1 202.1 136.6 205.4 135.3 207.4 138.4ZM238 143 236 146 233 147 229 146 226 144 227 140 232 140 236 141ZM22 150 28 152 30 160 31 170 25 176 18 173 14 164 17 155ZM123 174 121 181 115 181 112 177 111 171 114 167 118 165 124 167Z"/><path fill="#074204" d="M134 98 133 103 129 106 117 102 110 94 110 89 115 87 126 90ZM51.3 107.2 48.2 108.2 45.7 107.6 44.4 105.3 43.5 101.9 46.5 99.9 49.3 101.4 50.5 103.9ZM215 164 220 164 224 163 229 169 229 175 227 179 221 178 218 171ZM216 158 211 156 210 153 213 150 219 148 224 151 226 154 223 157Z"/><path fill="#177808" d="M222 21 223 14 228 8 234 9 238 12 238 17 235 23 228 26ZM23.5 166.3 23.4 169.8 21.6 172.7 18.0 171.8 16.9 168.1 19.7 165.4ZM209.8 166.6 206.2 169.1 202.1 166.8 200.4 162.4 203.4 158.9 207.4 156.6 210.3 160.1 213.3 163.6ZM37.0 32.4 35.2 29.9 35.3 27.0 37.1 24.0 41.1 24.1 42.4 27.4 43.6 30.6 40.6 32.8ZM122.0 54.3 120.7 57.1 117.0 57.4 115.3 53.9 117.9 51.4 121.1 51.4ZM124.6 59.8 124.6 62.5 123.3 64.9 120.4 65.6 117.7 63.6 117.4 60.0 120.3 58.6 122.6 58.1ZM115.3 73.1 112.3 73.7 109.7 71.5 110.9 68.0 114.0 67.1 116.3 69.7ZM207 64 200 62 196 58 198 54 204 54 209 55 213 58 213 62ZM83 95 74 99 66 96 64 89 68 82 74 76 81 81 85 87ZM101 101 104 105 106 110 103 115 101 117 98 115 97 109 99 105ZM20 113 25 110 30 114 32 118 30 123 24 122 18 122 17 117ZM45.3 125.1 43.6 123.3 42.5 120.2 44.9 118.5 47.5 117.0 49.3 119.8 49.2 122.8 48.0 125.7Z"/><path fill="#33b20b" d="M69 44 72 52 68 59 61 60 57 54 54 45 59 38 66 37ZM161 148 157 152 151 150 147 147 146 141 149 137 155 139 159 143ZM122 148 125 144 131 141 138 143 143 148 138 153 131 158 126 153Z"/><path fill="#69ff10" d="M44 9 46 15 42 20 36 24 31 19 28 14 32 10 37 5ZM133 28 127 27 123 22 124 16 129 13 135 13 139 18 138 24ZM125 41 120 44 114 48 113 42 112 36 117 31 123 28 124 35ZM42.7 58.0 42.2 61.0 39.7 61.9 37.5 60.1 37.0 56.0 40.9 54.7ZM96.2 104.8 92.2 103.2 92.0 99.3 94.4 96.4 98.7 94.8 101.7 97.9 103.5 101.5 99.7 103.6ZM179 100 183 97 187 94 190 98 192 102 189 107 185 107 179 106ZM214 115 207 114 206 110 208 107 214 104 220 107 224 110 223 114ZM129 125 130 119 136 117 140 118 146 121 145 127 140 130 134 129ZM143.7 126.9 146.1 124.4 149.9 124.6 151.8 127.3 149.0 129.1 145.7 129.6ZM12.3 118.8 13.8 116.9 16.5 116.6 17.9 119.4 17.6 122.5 15.4 124.0 12.8 124.1 10.8 121.6ZM12.1 172.5 10.3 169.7 9.0 166.6 10.1 163.4 12.2 161.8 15.0 162.2 15.1 166.7 14.8 170.9ZM196.3 155.5 198.4 159.5 194.9 162.4 190.9 164.1 187.4 161.2 187.2 157.0 188.8 152.8 193.5 152.4ZM3 3 13 4 22 4 23 9 23 12 17 14 9 12 4 8ZM47.1 15.8 49.6 14.4 52.1 15.5 52.7 18.3 50.1 19.4 47.2 18.9ZM36.6 1.5 34.9 3.4 31.6 2.6 30.3 0.9 32.4 -0.4 36.0 -0.7ZM66.0 -0.2 67.1 1.0 65.1 1.7 62.9 1.4 62.2 0.3 63.7 -0.8ZM147.2 23.7 148.4 20.9 151.4 21.0 154.0 22.2 154.1 24.9 153.5 28.2 150.1 28.1 147.2 26.9ZM136 48 130 41 133 32 138 26 147 26 150 35 149 43 143 47ZM145.5 48.9 145.7 46.0 147.6 45.2 149.6 45.5 150.3 48.4 150.1 51.6 148.0 53.3 145.7 52.4ZM164 42 161 35 164 31 168 27 174 31 175 37 175 43 170 45ZM210.2 24.5 213.3 23.7 216.6 23.9 218.0 27.7 216.1 30.7 213.8 33.7 210.5 31.9 210.2 28.2ZM9.5 47.4 7.8 50.3 4.2 49.6 2.7 46.0 5.4 43.1 8.7 44.6ZM60 74 55 75 52 70 53 63 55 57 60 58 64 63 64 71ZM43 64 49 68 51 74 48 80 42 82 35 80 34 72 38 67ZM92.4 61.5 94.8 60.1 97.4 60.1 99.8 61.6 100.6 64.8 97.8 66.9 94.8 65.8 91.6 64.7ZM139.2 62.6 141.8 64.4 143.6 66.5 143.0 69.5 140.5 71.4 137.9 70.1 135.6 67.9 136.4 64.5ZM112.7 73.2 116.7 72.2 119.7 74.2 122.4 76.8 120.2 80.1 115.6 81.1 111.5 79.3 111.4 76.0ZM180.7 71.5 176.8 70.4 176.1 65.9 178.8 62.1 183.3 62.3 187.0 64.6 187.6 69.1 184.0 71.3ZM138.9 78.0 135.8 80.7 131.6 80.1 129.1 77.5 129.7 74.4 131.9 71.6 135.6 72.7 137.4 74.9ZM146 79 152 80 152 85 146 87 141 88 137 85 135 81 140 77ZM151 89 148 86 148 81 152 78 159 77 161 82 160 86 157 90ZM157.0 81.2 156.8 76.6 159.9 73.5 164.3 72.6 166.6 76.3 168.2 80.4 164.5 82.6 160.7 83.6ZM55.0 87.7 57.9 85.8 61.2 85.0 63.5 87.6 63.6 90.9 61.6 93.6 58.0 93.7 55.8 91.2ZM67.4 82.2 70.7 82.5 71.1 85.4 69.7 87.4 67.2 87.2 65.9 84.8ZM125 82 131 83 137 86 137 91 131 95 125 93 119 91 122 86ZM115 103 115 109 111 112 107 113 105 108 104 102 108 100 111 101ZM153.8 113.3 151.6 111.0 150.7 107.2 152.4 104.0 155.2 103.0 157.9 105.1 157.2 109.0 156.1 111.5ZM83.4 110.8 81.3 109.4 81.8 106.6 84.5 106.4 86.5 107.9 85.7 110.3ZM135.0 113.6 133.2 116.9 129.5 119.0 125.0 117.3 125.8 112.7 126.8 108.9 130.7 107.8 134.6 109.5ZM220 126 214 125 210 123 209 118 211 112 216 110 221 114 222 120ZM208 122 209 129 205 132 201 130 197 127 198 120 202 116 206 116ZM111 130 107 136 101 136 100 126 99 116 104 112 110 113 113 121ZM12 125 6 126 1 123 -0 120 0 116 6 115 13 116 15 121ZM-0.7 126.1 0.9 122.3 4.5 121.4 6.4 125.4 7.0 129.4 4.6 131.7 2.1 131.9 0.1 129.7ZM75.4 142.3 73.7 139.3 75.2 136.1 78.4 134.4 81.0 136.7 83.2 139.3 81.1 141.9 78.5 143.1ZM117 135 122 132 127 132 131 134 132 139 129 144 124 143 120 140ZM160.7 138.3 156.9 138.6 154.0 136.2 153.1 132.5 155.2 128.8 159.5 128.5 163.1 130.9 162.9 135.1ZM174.1 130.9 174.0 133.3 172.0 134.4 169.7 133.3 170.0 130.5 172.3 129.4ZM226.6 135.8 224.7 137.4 222.4 137.8 220.9 135.5 222.8 133.7 225.2 133.5ZM186.4 135.6 188.9 139.0 185.4 141.5 182.2 143.6 177.9 142.3 177.0 138.4 178.3 134.6 182.8 132.9ZM200 135 204 138 203 142 199 144 194 143 192 140 192 137 196 135ZM195 148 185 152 175 154 173 151 178 146 187 143 194 142 195 145ZM213.7 149.5 210.0 148.8 208.9 145.0 209.0 141.1 212.1 139.1 216.0 138.9 217.1 143.3 217.4 147.7ZM1.7 146.6 6.0 146.8 9.1 148.6 10.6 152.1 8.3 155.1 4.8 156.8 0.6 155.3 0.3 150.8ZM34 164 29 165 26 161 27 157 30 153 35 152 39 156 38 161ZM105.1 161.5 103.2 164.1 100.9 164.9 98.5 163.2 99.6 160.4 102.3 159.9ZM67.5 169.4 69.2 172.2 68.7 175.5 65.3 175.7 63.2 173.3 64.3 170.5ZM168 148 169 153 167 158 162 161 158 159 157 154 160 150 164 148ZM174 173 167 171 169 166 180 162 191 160 200 161 199 167 185 172ZM7 176 13 177 20 178 15 180 10 182 4 181 0 179 1 177ZM17.9 180.6 15.3 178.1 18.0 175.6 22.0 174.9 26.4 175.5 27.2 178.3 26.0 180.9 21.8 181.5Z"/></g></g><use href="#gbc1" filter="url(#bl)"/></g>
<filter id="trc2" x="0" y="0" width="100%" height="100%" color-interpolation-filters="sRGB"><feTurbulence type="fractalNoise" baseFrequency="0.045" numOctaves="3" seed="5"/><feColorMatrix type="matrix" values="0.648 0 0 0 -0.144 0.097 0 0 0 -0.022 0.000 0 0 0 -0.000 0 0 0 0 1"/></filter>
<filter id="tgc2" x="0" y="0" width="100%" height="100%" color-interpolation-filters="sRGB"><feTurbulence type="fractalNoise" baseFrequency="0.03" numOctaves="3" seed="55"/><feColorMatrix type="matrix" values="0.014 0 0 0 0.007 0.085 0 0 0 0.043 0.009 0 0 0 0.004 0 0 0 0 1"/></filter>
<g id="rc2" clip-path="url(#pc)"><g filter="url(#bl)"><rect width="239.7" height="181.0" fill="#000" filter="url(#trc2)"/><path fill="#590600" fill-opacity="0.8" d="M123 20 131 26 135 31 131 33 123 33 113 29 112 23 113 19ZM43 170 36 162 35 153 42 152 51 156 57 163 60 172 52 174ZM20 167 23 174 25 181 19 185 12 183 5 178 7 170 12 167ZM178 54 181 63 178 73 174 80 169 77 164 70 167 61 172 56ZM193 117 183 111 180 101 186 96 196 100 205 104 207 112 200 115ZM40 21 33 18 27 13 29 6 33 2 40 1 44 9 42 15ZM24 116 20 119 15 113 9 106 8 97 14 97 20 103 26 111ZM54 145 52 151 46 153 40 149 40 140 42 134 48 134 54 137ZM123 154 125 161 118 166 111 169 104 166 104 158 109 151 117 151ZM141 55 140 45 146 36 153 39 159 43 162 53 154 59 147 60Z"/><path fill="#140300" fill-opacity="0.8" d="M8 150 5 143 3 135 6 126 12 126 16 133 17 143 13 148ZM39 125 40 117 43 108 49 99 54 100 55 108 51 119 45 124ZM217 43 217 34 224 33 230 38 232 45 230 53 223 56 218 50ZM59 44 52 37 49 29 59 25 69 27 80 31 78 39 69 43ZM184 49 191 44 201 43 206 51 203 60 194 65 184 65 179 57ZM138 22 143 25 138 33 132 39 125 41 124 35 124 28 131 23ZM99 63 93 64 87 64 86 57 89 52 95 49 100 52 100 58ZM51 67 46 72 42 72 41 67 46 58 51 51 57 48 55 58ZM67 145 65 153 60 158 54 156 51 151 50 143 56 136 63 139ZM218 176 216 184 208 185 200 182 198 174 200 167 207 166 215 168ZM87 139 91 141 91 147 86 150 81 152 78 147 79 142 82 137ZM223 9 222 2 222 -4 230 -3 238 1 244 8 239 11 232 12ZM41 86 38 84 38 79 41 70 47 61 52 62 52 69 48 81ZM25 115 31 115 36 119 36 124 35 128 30 128 26 124 25 120ZM92 39 97 39 100 42 97 49 90 52 82 55 80 50 85 44ZM102 153 106 162 100 163 94 165 87 157 82 148 84 142 93 147ZM230 99 235 94 241 91 247 92 247 97 243 104 236 107 230 105ZM17 58 10 53 7 46 10 41 14 37 21 40 24 47 21 53ZM106 90 102 92 97 91 95 84 96 78 100 75 104 78 107 83ZM144 55 139 51 136 45 141 38 148 38 156 39 157 47 152 54ZM100 33 103 25 112 18 120 16 122 19 121 25 113 33 103 38ZM128 47 128 37 130 30 135 25 141 29 140 41 138 49 132 54ZM83 152 92 147 97 149 102 151 94 158 86 162 80 162 76 159Z"/><path fill="#6c0900" fill-opacity="0.8" d="M126 149 133 150 138 153 141 160 137 166 130 165 122 164 123 157ZM57 174 51 179 46 173 45 164 48 156 53 151 59 156 60 166ZM-0 181 2 177 7 174 13 174 14 178 9 183 5 186 -1 186ZM104 137 111 134 116 138 112 147 106 155 100 157 94 156 96 146ZM169 16 163 21 157 22 150 19 149 13 155 8 162 6 167 10ZM191 126 185 131 178 128 173 123 175 115 180 110 186 114 190 118ZM83 27 91 26 100 29 105 34 104 38 95 39 86 35 83 31ZM105 119 103 127 101 135 92 134 85 130 80 122 85 115 94 114ZM117 39 126 36 134 39 136 45 132 50 124 55 114 52 110 45ZM170 179 164 172 160 161 167 155 174 151 179 160 181 169 178 180ZM24 162 23 155 27 150 34 150 41 157 41 163 39 169 31 167ZM206 87 213 91 219 94 219 104 213 109 207 108 203 104 203 96ZM41 93 49 90 53 98 48 108 43 118 36 117 32 110 36 101ZM162 138 158 144 147 142 138 139 137 131 145 125 156 127 166 131Z"/><path fill="#460400" fill-opacity="0.8" d="M108 148 118 151 118 155 111 158 101 159 94 155 93 151 99 149ZM30 92 29 85 34 79 41 75 45 79 44 87 39 94 33 97ZM120 84 123 75 129 74 133 81 134 92 130 100 124 101 119 94ZM159 64 153 69 146 73 145 65 150 55 156 46 160 47 163 53ZM-1 19 3 16 10 14 17 17 21 21 19 26 11 28 2 25ZM216 118 210 121 203 121 199 116 201 109 207 105 214 106 218 111ZM199 156 202 154 207 155 204 165 201 173 197 173 194 170 195 162ZM210 -7 217 -8 220 -1 216 8 211 14 204 17 203 8 204 1ZM159 24 161 16 167 8 174 9 178 13 179 20 171 27 164 29Z"/><path fill="#800c00" fill-opacity="0.8" d="M194 88 191 79 189 68 196 67 203 66 207 75 207 86 200 87ZM133 96 141 99 148 107 149 114 148 119 140 117 134 110 130 101ZM156 102 149 103 141 102 141 96 143 92 150 90 156 94 161 98ZM204 37 198 36 198 30 199 24 204 19 208 20 212 24 208 30ZM23 41 17 41 14 36 12 31 18 29 24 29 28 33 29 39ZM73 89 82 94 89 102 91 111 84 115 75 113 66 105 66 95ZM47 80 52 83 55 87 55 93 49 93 42 92 38 86 41 82ZM4 100 10 99 17 102 18 109 18 115 12 117 5 114 2 107ZM201 168 205 170 205 174 203 179 197 183 193 180 193 176 195 170ZM12 63 17 68 14 74 10 77 3 77 -1 69 1 63 7 60ZM189 82 187 88 179 87 171 85 168 79 171 74 178 75 186 76ZM43 9 42 0 50 -2 56 1 61 6 60 15 52 18 45 16ZM212 174 216 169 222 166 229 168 230 174 227 180 220 181 215 179Z"/><path fill="#330200" fill-opacity="0.8" d="M210 128 209 135 203 139 198 133 196 126 199 118 206 115 210 121ZM94 25 103 21 109 24 111 33 104 41 95 47 89 44 89 35ZM228 129 224 135 216 139 206 138 200 134 204 128 212 125 221 125ZM193 73 195 65 202 62 211 60 214 67 213 75 206 81 197 80ZM228 153 224 158 218 158 214 154 213 149 216 144 221 145 227 147ZM142 22 135 24 130 18 125 11 134 7 140 7 149 10 146 18ZM-1 124 -3 118 -3 114 1 114 7 116 9 123 7 126 4 129ZM147 161 153 169 154 178 150 182 144 182 139 174 136 164 141 160ZM183 29 179 22 181 17 185 13 192 18 197 26 196 32 189 31ZM142 83 140 73 145 67 151 62 159 66 160 75 157 82 150 83ZM216 -1 226 -1 229 6 230 12 225 16 218 17 210 13 212 6Z"/></g><g filter="url(#halo)" opacity="0.5"><g id="rbc2"><path fill="#2a0700" d="M106 53 100 53 94 52 92 46 96 42 102 40 108 43 107 48ZM169 83 173 77 179 74 185 79 185 87 182 92 176 93 170 91ZM132 18 136 18 139 22 138 27 136 31 132 30 128 27 129 21ZM91 131 100 131 108 135 111 143 104 149 93 151 86 145 85 137ZM46 37 48 44 44 52 34 54 25 48 23 40 29 34 39 31Z"/><path fill="#4c0400" d="M65 28 62 34 59 37 52 39 47 35 49 29 53 26 59 25ZM222 27 223 32 220 36 216 35 213 32 214 27 216 23 220 24ZM20 91 16 94 12 94 9 89 9 84 13 80 18 80 21 85ZM6 104 4 102 2 95 3 88 6 84 9 86 11 94 9 102ZM87 102 90 108 88 113 84 116 78 117 75 111 75 104 81 100ZM52 119 51 126 49 133 43 133 37 130 36 121 40 113 47 113ZM172 120 171 125 168 129 164 127 161 124 161 118 165 114 169 117ZM229 123 224 121 220 119 220 115 224 112 229 111 234 114 232 119Z"/><path fill="#730a00" d="M85 11 91 8 96 7 103 8 103 12 99 15 93 16 89 14ZM126 44 130 51 131 58 131 66 125 66 119 60 119 51 120 44ZM7.9 58.8 7.7 62.3 5.6 65.0 2.0 65.3 -1.7 63.3 -2.2 58.7 1.0 55.2 5.6 55.3ZM92 60 90 68 86 73 81 70 80 63 80 56 84 54 89 55ZM230 56 234 58 234 63 231 66 227 65 224 63 224 59 227 56ZM45.1 101.9 45.4 99.3 46.0 96.6 49.2 97.0 51.9 97.8 52.5 100.3 51.4 103.0 47.9 103.7ZM133 94 136 95 139 99 137 104 134 107 130 105 129 100 130 96ZM225 98 226 104 221 106 216 105 212 102 214 96 217 92 223 92ZM103 114 96 117 86 116 79 109 80 101 89 99 98 102 104 108ZM133.1 109.0 135.3 106.8 138.8 105.9 142.3 107.7 141.5 111.1 139.6 113.4 136.4 113.4 133.5 112.0ZM59 129 57 126 60 123 64 120 67 123 70 127 68 132 63 131ZM176.1 155.9 175.4 153.4 177.0 151.4 180.5 150.7 184.9 150.8 185.7 153.2 185.3 155.7 180.8 156.3ZM209.5 170.0 212.4 170.7 213.1 174.3 211.5 177.1 209.0 177.4 206.5 176.7 205.7 173.6 206.9 170.7ZM202.6 175.5 205.9 176.5 206.1 179.4 203.9 181.2 201.1 182.6 199.1 180.5 197.2 178.1 199.2 175.5Z"/><path fill="#b21800" d="M79 7 77 17 71 24 65 27 63 19 64 10 69 1 76 1ZM-1 153 -2 145 -0 137 4 136 8 140 10 147 7 153 3 155Z"/><path fill="#bf1c00" d="M159.1 14.6 160.8 18.8 161.0 22.6 159.0 26.4 154.9 26.3 151.9 23.1 152.2 18.4 154.8 14.7ZM164.3 162.9 159.9 163.0 157.0 159.5 157.1 155.0 159.5 151.4 163.7 150.8 165.5 154.9 165.8 158.5Z"/><path fill="#cc2000" d="M200 85 194 86 190 82 189 76 191 71 195 67 199 71 202 77ZM75 104 77 110 71 112 65 114 60 111 59 105 65 102 71 101Z"/><path fill="#ff3200" d="M74 33 78 26 86 24 94 24 98 32 93 40 85 45 77 40ZM147 60 139 59 131 56 130 47 137 42 143 41 148 45 150 52ZM198 55 195 63 191 63 188 61 189 55 192 48 197 42 198 48ZM117.8 80.6 119.0 78.3 121.7 77.3 123.2 80.0 122.2 82.7 119.1 83.3ZM179 104 176 111 170 111 169 102 168 94 172 87 178 89 182 97ZM218.9 21.6 216.0 22.3 214.2 19.6 214.5 16.6 216.3 14.0 219.3 14.8 220.7 17.1 221.3 20.0ZM232 25 232 30 232 35 227 35 223 35 222 30 224 26 228 24ZM125 32 126 23 130 23 134 25 134 34 133 41 129 44 126 39ZM141 41 138 36 137 30 139 24 144 23 148 27 148 34 146 40ZM17 52 18 58 16 63 13 65 10 61 10 57 10 51 14 51ZM16 78 12 73 13 66 19 64 25 63 30 68 29 76 23 80ZM168.2 62.9 172.1 60.3 176.7 60.0 180.2 63.5 178.6 67.9 175.4 70.0 171.3 71.1 167.8 67.8ZM48.0 87.0 48.8 91.0 46.2 93.8 42.7 96.2 40.0 92.8 39.5 89.2 41.4 86.3 44.9 83.6ZM206 83 207 76 209 71 213 69 217 73 216 80 214 85 210 87ZM234 132 237 135 234 139 227 139 221 137 221 133 224 130 230 130ZM23 8 26 12 28 17 24 20 20 20 15 18 17 13 18 8ZM31.3 20.5 28.9 22.9 25.9 20.9 24.8 17.3 26.3 13.7 29.5 12.4 31.8 15.0 33.1 18.0ZM42 13 51 8 60 10 66 18 65 28 56 31 48 30 45 23ZM100.2 -0.4 101.3 1.0 99.3 2.2 96.5 1.9 95.4 0.1 97.7 -1.1ZM101.1 33.5 97.1 33.3 93.7 31.1 92.5 26.7 95.7 23.2 100.3 22.8 104.4 25.5 105.2 30.6ZM145 28 140 25 139 18 139 11 145 10 150 12 151 18 149 24ZM165 20 157 15 152 11 149 4 155 1 162 4 170 8 170 15ZM159.2 22.6 159.0 17.8 162.8 14.7 167.1 16.1 170.6 18.7 169.1 22.8 166.5 25.6 161.9 26.6ZM228 -1 232 0 234 4 233 9 229 11 225 9 223 5 224 0ZM238.3 28.4 240.2 30.8 240.9 35.2 238.7 38.4 235.9 38.1 233.9 35.1 234.5 31.1 235.8 27.7ZM164 48 175 48 180 51 177 55 167 58 155 60 154 56 153 51ZM163 43 166 40 171 39 176 41 180 45 175 48 169 48 163 47ZM198.9 44.2 197.9 47.8 194.9 50.6 191.1 49.1 188.7 45.8 189.5 41.7 193.0 38.4 197.1 40.8ZM194 38 193 31 193 23 197 21 200 23 201 30 200 37 197 40ZM203 57 201 60 196 64 194 61 195 58 198 54 203 51 204 53ZM116.5 49.5 114.8 47.1 117.0 44.8 121.0 43.9 125.4 44.9 125.5 47.7 124.1 50.2 119.8 51.6ZM1.6 29.2 4.4 30.6 4.8 34.5 4.5 38.0 2.0 39.1 -0.3 38.0 -1.0 34.9 -1.0 31.1ZM11 62 11 71 8 80 3 80 -1 73 -2 65 2 57 6 60ZM22 63 28 61 35 62 38 68 34 72 29 75 24 72 20 68ZM49.1 68.9 46.6 71.0 42.9 70.6 42.2 66.7 41.8 62.3 45.9 61.8 49.7 61.7 50.5 65.9ZM100 55 103 60 100 64 96 65 91 65 91 60 92 56 96 54ZM93.4 68.2 96.4 66.4 99.6 65.7 102.5 67.9 101.1 71.2 99.9 74.4 96.6 73.4 94.8 71.3ZM125.9 70.2 127.1 66.6 130.5 64.5 133.5 66.9 136.2 69.7 134.0 72.9 131.0 76.1 127.3 73.7ZM184 74 179 73 177 68 175 61 181 59 187 58 191 64 190 71ZM235 74 237 86 235 95 230 95 225 86 223 72 226 63 231 64ZM41 78 44 74 48 74 53 76 54 81 50 84 45 85 40 83ZM79 87 74 88 70 84 70 77 71 70 77 69 81 74 80 81ZM38 87 33 90 26 92 20 89 21 84 24 80 31 79 37 81ZM16 96 20 93 24 92 27 96 26 103 23 106 20 108 17 103ZM47 105 43 109 38 110 34 107 34 102 37 98 42 97 47 100ZM125 91 125 97 121 101 115 100 111 96 112 91 115 87 121 87ZM190.3 102.8 187.0 104.5 183.7 103.7 180.9 100.9 182.4 97.0 185.3 95.1 189.1 94.8 191.3 98.6ZM206.7 88.3 207.5 85.2 210.3 82.9 213.1 85.1 214.4 88.1 213.7 91.5 210.6 94.4 206.8 92.4ZM232 87 232 93 231 98 227 100 223 98 223 92 224 88 228 87ZM124.9 111.2 124.8 108.4 126.0 105.4 128.9 104.8 131.3 107.2 130.4 110.5 129.1 112.6 126.7 113.3ZM125 111 131 116 129 120 126 123 119 121 113 118 112 112 118 111ZM61 121 59 117 61 112 64 111 67 112 67 117 67 123 64 125ZM66.8 126.3 68.3 123.0 71.0 121.5 72.3 125.6 72.8 129.0 71.7 132.8 69.1 132.5 67.0 130.4ZM5.7 124.6 3.3 128.0 -0.1 126.5 -1.8 122.7 -1.4 118.1 1.8 117.0 5.0 116.8 7.3 120.5ZM13.3 130.4 11.6 127.8 12.3 123.8 15.2 123.8 17.3 124.6 18.9 127.6 17.7 131.1 15.3 133.5ZM11.5 134.7 13.8 131.7 17.3 131.1 20.6 133.4 20.9 138.1 17.9 141.0 14.4 141.1 11.4 138.8ZM31.8 146.6 28.5 146.1 27.7 143.2 28.9 140.2 32.1 141.3 33.5 143.9ZM164 128 168 126 173 127 173 132 174 137 170 139 166 138 163 134ZM196 135 192 142 182 142 178 134 177 127 183 121 192 122 196 129ZM201 138 197 136 194 133 194 130 198 129 203 128 205 132 204 135ZM181 142 187 139 194 139 200 141 201 145 194 147 188 149 182 146ZM84 151 83 159 78 160 74 160 73 153 74 146 77 142 82 143ZM127 150 123 153 117 153 111 151 109 147 112 145 116 143 124 145ZM136 154 138 159 134 162 128 164 122 163 121 158 124 154 130 152ZM214 140 218 142 221 144 220 146 217 148 211 148 210 145 211 142ZM202 159 202 154 205 151 209 150 212 153 214 157 211 161 207 162ZM198 154 198 159 197 163 193 164 189 164 186 160 189 155 194 152ZM210.5 168.1 206.4 168.8 204.3 165.3 205.4 161.4 209.2 161.9 212.5 164.2ZM150.0 162.8 149.3 165.2 147.4 167.9 143.5 167.0 140.4 164.8 141.8 161.6 144.9 160.4 148.1 160.6ZM165 164 170 161 174 165 174 171 172 176 166 177 163 172 162 167ZM50 176 50 170 53 165 58 166 65 168 64 176 59 180 54 180ZM9 173 14 172 18 175 17 179 15 183 9 183 6 180 4 176ZM65 174 71 173 77 174 80 177 77 181 70 182 65 180 62 177ZM82.5 176.3 79.0 177.9 77.5 174.6 78.5 172.0 81.3 170.8 83.4 173.2ZM115 178 109 180 103 180 99 176 101 173 105 170 110 172 113 174ZM149 177 145 180 140 182 138 178 135 174 139 169 145 167 147 172ZM159.0 169.6 159.4 173.8 156.5 176.8 153.7 174.1 151.5 171.2 151.9 166.7 154.9 164.2 158.4 165.2ZM168.6 173.4 172.0 173.4 174.1 176.4 172.2 179.7 168.5 179.5 166.3 176.4ZM155.0 181.9 151.5 181.0 150.9 179.1 152.1 177.0 156.3 177.3 160.9 177.5 160.3 179.8 159.2 181.8Z"/></g></g><use href="#rbc2" filter="url(#bl)"/></g>
<g id="gc2" clip-path="url(#pc)"><g filter="url(#bl)"><rect width="239.7" height="181.0" fill="#000" filter="url(#tgc2)"/><path fill="#021f02" fill-opacity="0.8" d="M19 53 16 46 19 39 22 35 27 34 29 41 29 50 24 54ZM224 89 229 89 229 96 226 105 219 108 215 105 215 98 219 92Z"/><path fill="#032e03" fill-opacity="0.8" d="M223 85 226 88 229 92 226 96 221 98 217 95 215 89 218 84ZM135 75 134 69 141 70 147 71 151 76 147 80 142 83 136 80ZM194 47 201 45 206 51 208 57 204 62 199 62 192 60 192 53ZM207 30 209 26 213 23 218 26 221 31 221 36 216 37 211 35ZM50 154 48 159 44 161 37 160 35 153 37 148 41 144 46 149Z"/><path fill="#074004" fill-opacity="0.8" d="M82 86 89 79 95 73 101 76 101 83 97 92 90 93 85 91ZM112 40 114 47 110 54 104 54 102 48 100 40 105 36 110 35ZM-3 90 -2 83 4 76 10 76 13 80 10 88 5 96 -2 97Z"/></g><g filter="url(#halo)" opacity="0.5"><g id="gbc2"><path fill="#041303" d="M106 53 100 53 94 52 92 46 96 42 102 40 108 43 107 48ZM169 83 173 77 179 74 185 79 185 87 182 92 176 93 170 91ZM132 18 136 18 139 22 138 27 136 31 132 30 128 27 129 21ZM91 131 100 131 108 135 111 143 104 149 93 151 86 145 85 137ZM46 37 48 44 44 52 34 54 25 48 23 40 29 34 39 31Z"/><path fill="#011a02" d="M74 33 78 26 86 24 94 24 98 32 93 40 85 45 77 40ZM147 60 139 59 131 56 130 47 137 42 143 41 148 45 150 52ZM198 55 195 63 191 63 188 61 189 55 192 48 197 42 198 48ZM117.8 80.6 119.0 78.3 121.7 77.3 123.2 80.0 122.2 82.7 119.1 83.3ZM179 104 176 111 170 111 169 102 168 94 172 87 178 89 182 97Z"/><path fill="#074204" d="M200 85 194 86 190 82 189 76 191 71 195 67 199 71 202 77ZM75 104 77 110 71 112 65 114 60 111 59 105 65 102 71 101Z"/><path fill="#177808" d="M65 28 62 34 59 37 52 39 47 35 49 29 53 26 59 25ZM222 27 223 32 220 36 216 35 213 32 214 27 216 23 220 24ZM20 91 16 94 12 94 9 89 9 84 13 80 18 80 21 85ZM6 104 4 102 2 95 3 88 6 84 9 86 11 94 9 102ZM87 102 90 108 88 113 84 116 78 117 75 111 75 104 81 100ZM52 119 51 126 49 133 43 133 37 130 36 121 40 113 47 113ZM172 120 171 125 168 129 164 127 161 124 161 118 165 114 169 117ZM229 123 224 121 220 119 220 115 224 112 229 111 234 114 232 119ZM218.9 21.6 216.0 22.3 214.2 19.6 214.5 16.6 216.3 14.0 219.3 14.8 220.7 17.1 221.3 20.0ZM232 25 232 30 232 35 227 35 223 35 222 30 224 26 228 24ZM125 32 126 23 130 23 134 25 134 34 133 41 129 44 126 39ZM141 41 138 36 137 30 139 24 144 23 148 27 148 34 146 40ZM17 52 18 58 16 63 13 65 10 61 10 57 10 51 14 51ZM16 78 12 73 13 66 19 64 25 63 30 68 29 76 23 80ZM168.2 62.9 172.1 60.3 176.7 60.0 180.2 63.5 178.6 67.9 175.4 70.0 171.3 71.1 167.8 67.8ZM48.0 87.0 48.8 91.0 46.2 93.8 42.7 96.2 40.0 92.8 39.5 89.2 41.4 86.3 44.9 83.6ZM206 83 207 76 209 71 213 69 217 73 216 80 214 85 210 87ZM234 132 237 135 234 139 227 139 221 137 221 133 224 130 230 130Z"/><path fill="#33b20b" d="M159.1 14.6 160.8 18.8 161.0 22.6 159.0 26.4 154.9 26.3 151.9 23.1 152.2 18.4 154.8 14.7ZM164.3 162.9 159.9 163.0 157.0 159.5 157.1 155.0 159.5 151.4 163.7 150.8 165.5 154.9 165.8 158.5Z"/><path fill="#69ff10" d="M85 11 91 8 96 7 103 8 103 12 99 15 93 16 89 14ZM126 44 130 51 131 58 131 66 125 66 119 60 119 51 120 44ZM7.9 58.8 7.7 62.3 5.6 65.0 2.0 65.3 -1.7 63.3 -2.2 58.7 1.0 55.2 5.6 55.3ZM92 60 90 68 86 73 81 70 80 63 80 56 84 54 89 55ZM230 56 234 58 234 63 231 66 227 65 224 63 224 59 227 56ZM45.1 101.9 45.4 99.3 46.0 96.6 49.2 97.0 51.9 97.8 52.5 100.3 51.4 103.0 47.9 103.7ZM133 94 136 95 139 99 137 104 134 107 130 105 129 100 130 96ZM225 98 226 104 221 106 216 105 212 102 214 96 217 92 223 92ZM103 114 96 117 86 116 79 109 80 101 89 99 98 102 104 108ZM133.1 109.0 135.3 106.8 138.8 105.9 142.3 107.7 141.5 111.1 139.6 113.4 136.4 113.4 133.5 112.0ZM59 129 57 126 60 123 64 120 67 123 70 127 68 132 63 131ZM176.1 155.9 175.4 153.4 177.0 151.4 180.5 150.7 184.9 150.8 185.7 153.2 185.3 155.7 180.8 156.3ZM209.5 170.0 212.4 170.7 213.1 174.3 211.5 177.1 209.0 177.4 206.5 176.7 205.7 173.6 206.9 170.7ZM202.6 175.5 205.9 176.5 206.1 179.4 203.9 181.2 201.1 182.6 199.1 180.5 197.2 178.1 199.2 175.5ZM23 8 26 12 28 17 24 20 20 20 15 18 17 13 18 8ZM31.3 20.5 28.9 22.9 25.9 20.9 24.8 17.3 26.3 13.7 29.5 12.4 31.8 15.0 33.1 18.0ZM42 13 51 8 60 10 66 18 65 28 56 31 48 30 45 23ZM100.2 -0.4 101.3 1.0 99.3 2.2 96.5 1.9 95.4 0.1 97.7 -1.1ZM101.1 33.5 97.1 33.3 93.7 31.1 92.5 26.7 95.7 23.2 100.3 22.8 104.4 25.5 105.2 30.6ZM145 28 140 25 139 18 139 11 145 10 150 12 151 18 149 24ZM165 20 157 15 152 11 149 4 155 1 162 4 170 8 170 15ZM159.2 22.6 159.0 17.8 162.8 14.7 167.1 16.1 170.6 18.7 169.1 22.8 166.5 25.6 161.9 26.6ZM228 -1 232 0 234 4 233 9 229 11 225 9 223 5 224 0ZM238.3 28.4 240.2 30.8 240.9 35.2 238.7 38.4 235.9 38.1 233.9 35.1 234.5 31.1 235.8 27.7ZM164 48 175 48 180 51 177 55 167 58 155 60 154 56 153 51ZM163 43 166 40 171 39 176 41 180 45 175 48 169 48 163 47ZM198.9 44.2 197.9 47.8 194.9 50.6 191.1 49.1 188.7 45.8 189.5 41.7 193.0 38.4 197.1 40.8ZM194 38 193 31 193 23 197 21 200 23 201 30 200 37 197 40ZM203 57 201 60 196 64 194 61 195 58 198 54 203 51 204 53ZM116.5 49.5 114.8 47.1 117.0 44.8 121.0 43.9 125.4 44.9 125.5 47.7 124.1 50.2 119.8 51.6ZM1.6 29.2 4.4 30.6 4.8 34.5 4.5 38.0 2.0 39.1 -0.3 38.0 -1.0 34.9 -1.0 31.1ZM11 62 11 71 8 80 3 80 -1 73 -2 65 2 57 6 60ZM22 63 28 61 35 62 38 68 34 72 29 75 24 72 20 68ZM49.1 68.9 46.6 71.0 42.9 70.6 42.2 66.7 41.8 62.3 45.9 61.8 49.7 61.7 50.5 65.9ZM100 55 103 60 100 64 96 65 91 65 91 60 92 56 96 54ZM93.4 68.2 96.4 66.4 99.6 65.7 102.5 67.9 101.1 71.2 99.9 74.4 96.6 73.4 94.8 71.3ZM125.9 70.2 127.1 66.6 130.5 64.5 133.5 66.9 136.2 69.7 134.0 72.9 131.0 76.1 127.3 73.7ZM184 74 179 73 177 68 175 61 181 59 187 58 191 64 190 71ZM235 74 237 86 235 95 230 95 225 86 223 72 226 63 231 64ZM41 78 44 74 48 74 53 76 54 81 50 84 45 85 40 83ZM79 87 74 88 70 84 70 77 71 70 77 69 81 74 80 81ZM38 87 33 90 26 92 20 89 21 84 24 80 31 79 37 81ZM16 96 20 93 24 92 27 96 26 103 23 106 20 108 17 103ZM47 105 43 109 38 110 34 107 34 102 37 98 42 97 47 100ZM125 91 125 97 121 101 115 100 111 96 112 91 115 87 121 87ZM190.3 102.8 187.0 104.5 183.7 103.7 180.9 100.9 182.4 97.0 185.3 95.1 189.1 94.8 191.3 98.6ZM206.7 88.3 207.5 85.2 210.3 82.9 213.1 85.1 214.4 88.1 213.7 91.5 210.6 94.4 206.8 92.4ZM232 87 232 93 231 98 227 100 223 98 223 92 224 88 228 87ZM124.9 111.2 124.8 108.4 126.0 105.4 128.9 104.8 131.3 107.2 130.4 110.5 129.1 112.6 126.7 113.3ZM125 111 131 116 129 120 126 123 119 121 113 118 112 112 118 111ZM61 121 59 117 61 112 64 111 67 112 67 117 67 123 64 125ZM66.8 126.3 68.3 123.0 71.0 121.5 72.3 125.6 72.8 129.0 71.7 132.8 69.1 132.5 67.0 130.4ZM5.7 124.6 3.3 128.0 -0.1 126.5 -1.8 122.7 -1.4 118.1 1.8 117.0 5.0 116.8 7.3 120.5ZM13.3 130.4 11.6 127.8 12.3 123.8 15.2 123.8 17.3 124.6 18.9 127.6 17.7 131.1 15.3 133.5ZM11.5 134.7 13.8 131.7 17.3 131.1 20.6 133.4 20.9 138.1 17.9 141.0 14.4 141.1 11.4 138.8ZM31.8 146.6 28.5 146.1 27.7 143.2 28.9 140.2 32.1 141.3 33.5 143.9ZM164 128 168 126 173 127 173 132 174 137 170 139 166 138 163 134ZM196 135 192 142 182 142 178 134 177 127 183 121 192 122 196 129ZM201 138 197 136 194 133 194 130 198 129 203 128 205 132 204 135ZM181 142 187 139 194 139 200 141 201 145 194 147 188 149 182 146ZM84 151 83 159 78 160 74 160 73 153 74 146 77 142 82 143ZM127 150 123 153 117 153 111 151 109 147 112 145 116 143 124 145ZM136 154 138 159 134 162 128 164 122 163 121 158 124 154 130 152ZM214 140 218 142 221 144 220 146 217 148 211 148 210 145 211 142ZM202 159 202 154 205 151 209 150 212 153 214 157 211 161 207 162ZM198 154 198 159 197 163 193 164 189 164 186 160 189 155 194 152ZM210.5 168.1 206.4 168.8 204.3 165.3 205.4 161.4 209.2 161.9 212.5 164.2ZM150.0 162.8 149.3 165.2 147.4 167.9 143.5 167.0 140.4 164.8 141.8 161.6 144.9 160.4 148.1 160.6ZM165 164 170 161 174 165 174 171 172 176 166 177 163 172 162 167ZM50 176 50 170 53 165 58 166 65 168 64 176 59 180 54 180ZM9 173 14 172 18 175 17 179 15 183 9 183 6 180 4 176ZM65 174 71 173 77 174 80 177 77 181 70 182 65 180 62 177ZM82.5 176.3 79.0 177.9 77.5 174.6 78.5 172.0 81.3 170.8 83.4 173.2ZM115 178 109 180 103 180 99 176 101 173 105 170 110 172 113 174ZM149 177 145 180 140 182 138 178 135 174 139 169 145 167 147 172ZM159.0 169.6 159.4 173.8 156.5 176.8 153.7 174.1 151.5 171.2 151.9 166.7 154.9 164.2 158.4 165.2ZM168.6 173.4 172.0 173.4 174.1 176.4 172.2 179.7 168.5 179.5 166.3 176.4ZM155.0 181.9 151.5 181.0 150.9 179.1 152.1 177.0 156.3 177.3 160.9 177.5 160.3 179.8 159.2 181.8Z"/></g></g><use href="#gbc2" filter="url(#bl)"/></g>
<filter id="trc3" x="0" y="0" width="100%" height="100%" color-interpolation-filters="sRGB"><feTurbulence type="fractalNoise" baseFrequency="0.045" numOctaves="3" seed="6"/><feColorMatrix type="matrix" values="0.720 0 0 0 -0.160 0.108 0 0 0 -0.024 0.000 0 0 0 -0.000 0 0 0 0 1"/></filter>
<filter id="tgc3" x="0" y="0" width="100%" height="100%" color-interpolation-filters="sRGB"><feTurbulence type="fractalNoise" baseFrequency="0.03" numOctaves="3" seed="56"/><feColorMatrix type="matrix" values="0.012 0 0 0 0.006 0.070 0 0 0 0.035 0.007 0 0 0 0.004 0 0 0 0 1"/></filter>
<g id="rc3" clip-path="url(#pc)"><g filter="url(#bl)"><rect width="239.7" height="181.0" fill="#000" filter="url(#trc3)"/><path fill="#400300" fill-opacity="0.8" d="M144 36 138 31 137 24 142 21 149 18 153 24 155 30 150 34ZM9 140 17 138 25 142 24 150 20 157 12 156 3 154 3 146ZM54 65 46 70 39 68 38 62 42 54 50 48 58 49 59 57ZM103 120 104 128 103 135 96 139 88 136 86 128 87 119 95 119ZM56 56 51 50 48 43 52 36 61 39 67 42 69 50 63 54ZM139 174 145 174 151 175 159 180 164 187 160 190 151 185 143 180ZM202 42 209 34 216 29 223 29 220 37 217 46 209 50 202 49ZM196 138 205 132 214 133 220 137 220 146 211 155 201 153 196 147Z"/><path fill="#660800" fill-opacity="0.8" d="M204 7 203 16 194 18 189 10 186 4 190 -1 196 -4 203 -1ZM184 164 188 160 195 163 199 169 197 174 191 176 183 175 182 168ZM165 126 169 131 169 137 165 138 161 136 157 131 158 125 162 124ZM104 40 108 43 111 45 107 50 100 51 95 51 94 47 98 43ZM19 113 15 119 7 120 2 113 4 105 9 101 17 98 22 106ZM228 116 233 121 233 125 232 131 225 132 221 127 218 123 222 118ZM224 175 231 169 239 168 242 171 239 177 233 183 224 185 219 182ZM12 101 4 99 2 91 7 84 14 83 19 87 25 93 21 101ZM132 67 140 62 145 64 145 71 142 78 135 84 129 81 128 75ZM178 92 178 101 172 106 165 107 162 98 163 90 166 83 174 84ZM44 65 36 69 25 68 18 65 18 60 22 55 33 55 43 58Z"/><path fill="#790b00" fill-opacity="0.8" d="M225 144 230 153 231 163 230 171 226 171 221 165 219 154 222 149ZM124 169 117 167 112 162 111 153 118 150 125 150 130 156 129 163ZM51 174 51 169 56 166 61 167 63 171 62 176 58 179 53 178ZM19 88 28 87 38 90 43 98 43 104 34 104 25 101 17 94ZM182 69 187 69 190 74 188 78 185 83 180 82 178 78 177 73ZM101 170 96 169 94 166 96 162 99 158 104 158 105 162 105 166ZM119 175 115 177 109 175 107 169 107 162 113 161 119 163 121 170ZM99 -4 103 3 107 11 100 14 92 16 85 9 86 2 89 -5ZM29 7 19 7 15 4 15 -1 25 -4 36 -6 38 -1 37 3ZM146 66 139 67 132 67 128 61 130 55 137 53 143 55 145 60ZM18 131 8 133 2 129 6 122 12 116 20 117 28 119 25 126ZM31 84 27 77 28 72 33 70 40 77 44 84 45 91 38 90ZM77 26 75 30 69 30 63 25 60 18 59 10 66 11 73 17ZM228 110 229 103 232 96 240 95 245 102 247 111 240 116 233 114Z"/><path fill="#140300" fill-opacity="0.8" d="M28 79 21 76 18 70 23 66 30 64 36 68 40 73 35 76ZM229 15 237 14 243 17 245 21 240 25 232 24 225 22 225 18ZM232 152 223 153 215 151 214 140 218 133 224 130 232 131 235 142ZM232 12 224 7 225 -0 229 -4 235 -2 242 3 242 10 238 13ZM70 5 70 -0 76 -5 87 -7 94 -4 96 1 90 6 80 6ZM113 26 110 14 113 5 118 5 122 12 123 21 122 29 117 29ZM104 102 109 98 116 99 123 104 122 110 117 113 109 114 104 107ZM59 -4 61 1 61 7 55 9 50 5 48 1 48 -4 54 -7ZM56 46 63 46 69 47 74 50 77 55 69 56 63 55 59 51ZM71 147 66 141 65 134 68 128 75 130 79 136 80 143 76 147ZM48 158 42 157 39 151 37 142 44 140 49 139 52 145 54 153ZM214 32 212 24 217 18 224 14 228 21 231 28 227 36 219 35ZM139 64 139 60 140 54 147 50 151 53 151 58 149 64 143 67ZM106 -4 101 4 98 13 88 11 82 4 82 -6 90 -10 98 -10ZM223 121 227 131 226 141 222 145 217 139 212 128 214 119 218 117ZM91 88 86 84 83 79 83 70 87 67 92 70 94 76 95 84ZM44 121 36 119 34 115 36 112 42 110 51 112 54 117 51 120ZM64 72 67 67 72 65 76 67 79 72 77 78 71 80 66 77ZM122 94 128 89 134 87 134 96 129 104 122 112 119 107 117 102ZM191 53 194 60 191 66 184 64 179 60 178 53 180 49 186 48ZM145 156 153 150 162 150 166 158 165 167 159 174 150 174 146 165ZM159 163 161 155 167 150 174 152 180 156 179 164 172 168 166 167ZM85 130 89 133 87 138 83 142 78 142 74 139 76 134 80 130ZM105 97 109 97 112 103 110 112 106 118 102 116 98 113 101 104ZM33 72 30 66 36 65 46 66 57 71 57 77 51 80 41 78ZM195 168 191 170 184 167 178 160 181 154 186 153 193 156 196 163ZM201 120 205 114 211 111 219 113 222 120 219 129 210 129 202 129ZM31 39 30 45 26 48 22 47 18 41 21 36 25 33 28 34ZM64 72 76 75 80 81 79 86 71 87 60 84 56 79 59 75ZM187 -6 194 -3 197 2 190 6 183 7 176 5 177 0 179 -4ZM161 170 168 177 170 186 168 189 161 186 156 176 154 169 155 165ZM79 139 87 142 90 151 85 160 78 166 72 164 70 157 71 147Z"/><path fill="#530500" fill-opacity="0.8" d="M111 158 105 156 99 152 102 144 106 138 114 136 118 143 116 152ZM131 157 132 164 129 171 120 171 110 173 108 166 113 159 122 155ZM55 120 53 125 50 131 44 127 38 121 41 115 45 112 51 114ZM177 37 167 42 155 42 149 36 152 28 163 25 175 22 176 30ZM93 131 88 132 81 129 77 117 80 107 88 106 94 115 97 124ZM158 27 157 19 162 15 171 18 177 26 179 35 173 38 164 34ZM213 79 207 73 202 64 204 61 210 64 216 69 221 77 219 81ZM119 87 112 82 108 76 111 71 117 68 123 73 126 78 125 84ZM27 45 21 49 13 47 8 40 11 33 19 31 26 32 30 39ZM53 8 48 14 38 12 27 11 24 3 28 -4 39 -5 49 0ZM119 134 114 138 106 132 99 123 101 115 103 108 111 115 118 123ZM7 77 12 67 18 62 25 58 24 67 20 77 12 85 7 85ZM88 81 97 80 106 81 110 87 112 93 103 95 92 93 86 86ZM237 96 233 103 228 102 227 94 227 85 232 80 236 82 238 88ZM49 89 53 82 60 78 67 78 69 84 61 91 54 98 50 94ZM75 174 70 175 64 172 61 167 63 162 70 161 77 165 80 171Z"/><path fill="#8c0f00" fill-opacity="0.8" d="M87 45 82 41 82 35 84 29 90 28 95 31 97 38 94 43ZM112 19 119 24 115 30 108 34 99 32 96 26 97 20 104 16ZM23 115 15 116 7 114 7 104 13 94 21 94 28 95 26 105ZM48 178 50 170 55 162 59 165 63 169 60 179 54 183 49 185ZM166 172 171 165 181 163 191 168 196 176 192 184 180 182 171 179ZM158 13 167 10 175 10 174 19 170 27 162 31 157 28 155 23ZM175 43 182 43 187 49 192 56 190 63 184 65 178 62 173 53ZM117 69 121 72 121 78 117 82 111 81 107 77 109 71 112 68ZM196 92 203 92 206 95 201 102 191 108 182 109 182 105 187 99Z"/></g><g filter="url(#halo)" opacity="0.5"><g id="rbc3"><path fill="#2a0700" d="M178 14 176 27 161 34 147 27 142 18 141 5 156 2 170 3ZM197 43 196 60 191 71 181 76 168 73 170 57 173 45 184 42ZM212 34 200 36 189 33 183 24 188 14 201 11 214 14 218 25ZM92 69 100 76 100 85 91 93 77 91 70 83 72 74 81 68ZM28 113 16 110 9 102 13 94 21 88 31 91 38 97 34 105Z"/><path fill="#a41500" d="M-0 21 -0 15 2 7 9 9 17 12 17 20 11 24 5 26ZM57 48 55 59 49 69 37 71 30 64 27 55 35 46 46 45ZM60 82 64 84 62 87 59 89 55 88 50 87 50 83 55 81ZM158 112 162 109 167 108 171 112 171 119 167 123 162 123 158 118ZM58 118 64 114 72 112 78 117 77 125 73 132 65 130 58 127ZM91 172 84 175 81 166 78 157 83 149 92 148 97 156 96 166ZM39 151 35 143 37 135 41 126 51 129 55 137 55 146 48 151ZM43 151 48 157 45 164 37 166 30 163 26 157 29 151 36 147ZM166 172 164 167 165 161 167 155 172 156 175 162 174 168 171 173ZM10 155 11 162 7 166 3 168 -1 162 -1 154 2 147 8 146ZM146 72 141 72 140 66 142 62 146 61 149 63 152 67 150 72ZM137 64 140 72 139 81 132 83 127 80 123 74 124 65 130 61ZM13 69 18 72 19 78 18 84 12 87 6 83 3 77 5 71ZM236 148 237 152 234 156 228 156 225 152 224 146 229 143 234 143ZM113 116 107 119 99 122 94 117 91 110 98 105 107 106 113 110Z"/><path fill="#b01800" d="M179 105 183 100 187 106 189 111 188 118 184 119 179 120 178 112Z"/><path fill="#bc1b00" d="M98 51 97 47 97 41 102 40 107 42 110 47 107 52 102 54ZM42 53 37 49 39 43 43 39 48 40 53 43 52 50 48 56ZM8 61 10 54 15 50 21 53 24 59 20 64 17 66 11 67ZM157 88 157 81 160 75 164 74 169 78 169 85 166 91 162 90ZM71 120 67 119 64 116 67 113 72 114 76 115 78 117 76 120Z"/><path fill="#eb2a00" d="M48.7 7.5 46.8 5.2 46.8 1.6 50.6 0.1 54.6 1.1 55.4 4.5 55.0 7.9 51.5 8.6ZM61 9 57 6 56 2 61 -0 68 -2 74 1 74 5 69 9ZM174.7 6.9 175.7 2.4 179.6 0.9 183.1 1.6 185.8 4.3 184.9 8.1 182.0 11.2 177.7 10.2ZM95.3 11.6 97.9 12.9 100.0 15.0 99.2 18.0 95.7 18.8 92.5 18.0 91.9 15.4 93.0 13.3ZM98 35 98 30 101 26 105 27 106 31 106 35 104 38 101 38ZM43.3 60.6 40.6 59.8 39.4 56.8 39.7 52.9 43.0 50.9 46.5 52.3 47.7 56.3 45.5 59.1ZM86 62 78 59 74 54 79 50 85 48 90 49 95 53 92 58ZM-0.4 57.1 0.7 54.5 3.5 53.5 6.4 55.8 4.8 59.3 1.3 59.9ZM193 112 191 115 188 116 187 112 186 107 189 104 191 103 192 107ZM218.6 96.7 214.6 97.7 211.8 95.3 211.2 92.6 211.8 89.1 216.0 88.8 218.4 91.0 221.0 93.7ZM202.2 94.6 204.1 92.3 207.1 92.6 209.5 94.6 209.2 97.7 207.0 99.7 203.8 100.2 202.1 97.5ZM227 115 232 118 229 122 226 125 220 124 218 121 217 117 222 115ZM190.5 124.6 186.8 125.3 185.3 122.0 187.8 119.9 191.4 119.3 191.9 122.4ZM66 128 72 128 76 132 75 138 71 142 65 141 60 138 62 132ZM127 133 137 136 144 142 141 150 131 152 120 151 116 145 118 138ZM133 155 128 159 119 161 114 157 113 152 116 148 124 146 132 149ZM166.1 147.0 169.5 144.9 172.5 144.6 175.5 146.1 176.4 149.7 174.2 153.0 170.5 152.1 167.2 150.9ZM188.9 153.5 188.4 151.2 189.5 149.5 191.9 149.3 192.6 151.7 191.6 154.2ZM44 176 45 172 49 169 53 172 54 177 53 182 48 183 44 182ZM217.4 163.1 220.6 164.4 223.0 167.1 220.4 169.9 217.2 169.0 215.4 166.3ZM235 176 229 179 222 179 215 176 213 171 220 168 230 167 236 171ZM214 78 210 73 211 68 217 65 224 65 228 70 225 75 221 79ZM58 97 52 95 51 89 56 87 61 84 67 88 67 93 64 96ZM169 100 171 95 174 89 181 91 183 97 184 103 178 105 172 107ZM219.5 113.8 220.5 117.5 220.1 121.4 216.9 122.5 213.5 122.3 212.5 118.5 212.8 114.5 216.1 112.8ZM103.7 144.0 101.8 141.9 103.0 139.3 106.7 139.6 108.7 141.5 107.3 144.0ZM114.9 152.6 111.7 152.2 109.7 149.7 111.4 146.7 115.1 146.1 117.2 149.5ZM158 158 152 151 153 144 157 138 165 139 174 142 174 151 165 154ZM67 173 62 174 56 175 52 170 52 166 54 162 60 165 65 168ZM227 67 229 63 231 62 234 63 235 68 233 72 231 73 228 72ZM122.9 112.2 119.4 111.8 115.6 109.4 118.0 105.5 120.2 102.1 124.2 102.7 126.0 106.3 126.7 110.6ZM145.9 160.5 142.9 160.5 139.5 159.1 140.5 155.7 142.0 152.4 145.8 152.1 147.7 155.2 149.6 158.8ZM143.2 164.8 140.8 166.0 139.6 163.0 139.9 159.5 142.6 158.9 144.4 161.7Z"/></g></g><use href="#rbc3" filter="url(#bl)"/></g>
<g id="gc3" clip-path="url(#pc)"><g filter="url(#bl)"><rect width="239.7" height="181.0" fill="#000" filter="url(#tgc3)"/><path fill="#074004" fill-opacity="0.8" d="M9 182 9 172 16 170 22 169 27 177 26 184 22 189 15 188Z"/><path fill="#032e03" fill-opacity="0.8" d="M135 59 129 61 123 60 121 56 119 49 124 45 131 47 137 52ZM196 146 197 150 194 153 187 153 180 152 182 147 185 144 192 143ZM139 114 141 109 145 105 153 105 158 107 157 112 153 115 145 118Z"/></g><g filter="url(#halo)" opacity="0.5"><g id="gbc3"><path fill="#041303" d="M178 14 176 27 161 34 147 27 142 18 141 5 156 2 170 3ZM197 43 196 60 191 71 181 76 168 73 170 57 173 45 184 42ZM212 34 200 36 189 33 183 24 188 14 201 11 214 14 218 25ZM92 69 100 76 100 85 91 93 77 91 70 83 72 74 81 68ZM28 113 16 110 9 102 13 94 21 88 31 91 38 97 34 105Z"/><path fill="#011a02" d="M48.7 7.5 46.8 5.2 46.8 1.6 50.6 0.1 54.6 1.1 55.4 4.5 55.0 7.9 51.5 8.6ZM61 9 57 6 56 2 61 -0 68 -2 74 1 74 5 69 9ZM174.7 6.9 175.7 2.4 179.6 0.9 183.1 1.6 185.8 4.3 184.9 8.1 182.0 11.2 177.7 10.2ZM95.3 11.6 97.9 12.9 100.0 15.0 99.2 18.0 95.7 18.8 92.5 18.0 91.9 15.4 93.0 13.3ZM98 35 98 30 101 26 105 27 106 31 106 35 104 38 101 38ZM43.3 60.6 40.6 59.8 39.4 56.8 39.7 52.9 43.0 50.9 46.5 52.3 47.7 56.3 45.5 59.1ZM86 62 78 59 74 54 79 50 85 48 90 49 95 53 92 58ZM-0.4 57.1 0.7 54.5 3.5 53.5 6.4 55.8 4.8 59.3 1.3 59.9ZM193 112 191 115 188 116 187 112 186 107 189 104 191 103 192 107ZM218.6 96.7 214.6 97.7 211.8 95.3 211.2 92.6 211.8 89.1 216.0 88.8 218.4 91.0 221.0 93.7ZM202.2 94.6 204.1 92.3 207.1 92.6 209.5 94.6 209.2 97.7 207.0 99.7 203.8 100.2 202.1 97.5ZM227 115 232 118 229 122 226 125 220 124 218 121 217 117 222 115ZM190.5 124.6 186.8 125.3 185.3 122.0 187.8 119.9 191.4 119.3 191.9 122.4ZM66 128 72 128 76 132 75 138 71 142 65 141 60 138 62 132ZM127 133 137 136 144 142 141 150 131 152 120 151 116 145 118 138ZM133 155 128 159 119 161 114 157 113 152 116 148 124 146 132 149ZM166.1 147.0 169.5 144.9 172.5 144.6 175.5 146.1 176.4 149.7 174.2 153.0 170.5 152.1 167.2 150.9ZM188.9 153.5 188.4 151.2 189.5 149.5 191.9 149.3 192.6 151.7 191.6 154.2ZM44 176 45 172 49 169 53 172 54 177 53 182 48 183 44 182ZM217.4 163.1 220.6 164.4 223.0 167.1 220.4 169.9 217.2 169.0 215.4 166.3ZM235 176 229 179 222 179 215 176 213 171 220 168 230 167 236 171Z"/><path fill="#074204" d="M98 51 97 47 97 41 102 40 107 42 110 47 107 52 102 54ZM42 53 37 49 39 43 43 39 48 40 53 43 52 50 48 56ZM8 61 10 54 15 50 21 53 24 59 20 64 17 66 11 67ZM157 88 157 81 160 75 164 74 169 78 169 85 166 91 162 90ZM71 120 67 119 64 116 67 113 72 114 76 115 78 117 76 120Z"/><path fill="#177808" d="M214 78 210 73 211 68 217 65 224 65 228 70 225 75 221 79ZM58 97 52 95 51 89 56 87 61 84 67 88 67 93 64 96ZM169 100 171 95 174 89 181 91 183 97 184 103 178 105 172 107ZM219.5 113.8 220.5 117.5 220.1 121.4 216.9 122.5 213.5 122.3 212.5 118.5 212.8 114.5 216.1 112.8ZM103.7 144.0 101.8 141.9 103.0 139.3 106.7 139.6 108.7 141.5 107.3 144.0ZM114.9 152.6 111.7 152.2 109.7 149.7 111.4 146.7 115.1 146.1 117.2 149.5ZM158 158 152 151 153 144 157 138 165 139 174 142 174 151 165 154ZM67 173 62 174 56 175 52 170 52 166 54 162 60 165 65 168Z"/><path fill="#33b20b" d="M179 105 183 100 187 106 189 111 188 118 184 119 179 120 178 112Z"/><path fill="#69ff10" d="M227 67 229 63 231 62 234 63 235 68 233 72 231 73 228 72ZM122.9 112.2 119.4 111.8 115.6 109.4 118.0 105.5 120.2 102.1 124.2 102.7 126.0 106.3 126.7 110.6ZM145.9 160.5 142.9 160.5 139.5 159.1 140.5 155.7 142.0 152.4 145.8 152.1 147.7 155.2 149.6 158.8ZM143.2 164.8 140.8 166.0 139.6 163.0 139.9 159.5 142.6 158.9 144.4 161.7Z"/></g></g><use href="#gbc3" filter="url(#bl)"/></g>
<filter id="trc4" x="0" y="0" width="100%" height="100%" color-interpolation-filters="sRGB"><feTurbulence type="fractalNoise" baseFrequency="0.045" numOctaves="3" seed="7"/><feColorMatrix type="matrix" values="0.252 0 0 0 -0.056 0.038 0 0 0 -0.008 0.000 0 0 0 -0.000 0 0 0 0 1"/></filter>
<filter id="tgc4" x="0" y="0" width="100%" height="100%" color-interpolation-filters="sRGB"><feTurbulence type="fractalNoise" baseFrequency="0.03" numOctaves="3" seed="57"/><feColorMatrix type="matrix" values="0.014 0 0 0 0.007 0.085 0 0 0 0.043 0.009 0 0 0 0.004 0 0 0 0 1"/></filter>
<g id="rc4" clip-path="url(#pc)"><g filter="url(#bl)"><rect width="239.7" height="181.0" fill="#000" filter="url(#trc4)"/><path fill="#660800" fill-opacity="0.8" d="M163 54 169 50 176 52 176 59 173 65 168 67 163 64 161 59ZM107 69 111 74 109 84 107 90 103 92 101 84 100 75 103 69ZM38 20 35 25 32 25 30 20 30 13 33 8 36 8 38 13ZM104 157 107 152 116 149 128 147 133 152 134 158 124 162 114 160Z"/><path fill="#560600" fill-opacity="0.8" d="M205 135 203 141 195 147 183 150 174 149 174 143 185 138 194 135ZM215 35 217 28 224 28 228 33 230 39 226 45 220 46 215 42ZM189 68 189 57 194 46 201 44 204 52 206 62 202 72 194 76Z"/><path fill="#140300" fill-opacity="0.8" d="M235 37 240 37 244 40 244 46 240 50 234 52 229 48 230 41ZM42 116 41 123 36 130 30 130 24 126 25 117 30 109 38 109ZM143 14 141 10 144 6 149 3 154 5 158 8 156 13 150 14ZM19 145 22 139 28 138 35 143 42 151 38 157 31 160 23 153ZM13 97 20 96 26 101 27 109 21 115 12 116 9 109 6 101ZM201 165 193 165 188 158 188 150 196 147 206 149 207 157 209 164ZM181 76 179 70 179 64 186 61 192 62 197 66 193 72 188 74ZM40 26 41 20 48 15 54 18 57 22 53 28 47 33 40 32Z"/><path fill="#360200" fill-opacity="0.8" d="M58 20 68 22 79 24 78 34 71 41 61 39 50 37 49 27ZM150 153 146 146 144 139 151 136 159 134 165 142 162 148 157 152ZM200 19 204 23 203 30 192 34 183 36 177 34 179 28 189 23ZM118 92 114 93 111 88 109 81 112 75 117 74 119 80 120 87ZM33 8 34 14 28 14 22 8 18 1 19 -4 24 -3 31 1ZM44 187 39 183 34 180 38 173 44 172 49 174 53 177 50 183ZM216 67 211 58 209 50 215 48 222 53 229 60 227 66 223 69Z"/><path fill="#260100" fill-opacity="0.8" d="M126 37 124 30 125 24 129 20 135 21 142 25 142 33 134 39ZM177 55 179 50 184 49 189 51 192 56 190 63 183 62 179 59ZM45 107 37 110 30 105 30 96 36 90 43 87 47 93 50 99ZM89 49 96 54 102 60 99 66 93 70 85 66 82 60 82 54ZM223 26 220 19 225 13 232 9 238 14 239 21 236 27 229 30ZM121 120 126 119 130 124 131 130 129 135 124 133 120 130 119 125Z"/><path fill="#460400" fill-opacity="0.8" d="M148 88 146 79 153 71 163 66 172 70 173 78 170 86 160 88ZM70 83 71 90 68 95 61 96 53 94 51 87 55 83 62 80ZM59 38 68 45 69 54 65 60 56 55 49 48 47 39 52 37ZM5 160 4 156 10 149 17 147 25 145 24 150 19 156 10 161Z"/></g><g filter="url(#halo)" opacity="0.5"><g id="rbc4"><path fill="#730a00" d="M48.2 17.1 45.0 19.8 41.6 17.1 42.0 13.5 45.0 10.6 48.0 13.5ZM55.3 66.3 51.9 67.1 47.1 66.9 46.5 62.1 47.9 57.3 52.9 56.9 55.9 59.7 57.7 63.2ZM192.8 80.3 191.1 77.9 190.6 74.6 194.1 72.3 198.7 72.9 199.7 76.5 199.7 79.8 196.1 81.1ZM179.4 116.5 180.0 120.8 179.7 124.1 177.2 127.5 172.5 126.9 170.2 122.8 172.5 119.3 175.0 116.3ZM4.8 130.7 7.5 132.0 8.8 134.6 6.3 136.3 3.7 137.7 0.4 136.7 0.1 133.7 1.9 131.6Z"/><path fill="#b21800" d="M111 33 110 43 106 47 102 46 99 40 99 29 104 27 107 27ZM42 48 45 52 41 56 34 58 27 56 25 50 30 46 36 45ZM37 97 46 93 54 91 59 93 56 97 49 101 40 104 38 101ZM145 69 149 66 154 68 157 71 157 75 152 76 146 77 145 72ZM69.0 109.4 71.0 111.8 69.3 115.1 66.1 114.6 64.6 111.5 66.1 108.1ZM69 121 66 123 52 120 39 116 36 112 41 112 53 113 64 118ZM10 135 2 135 -0 127 2 122 6 118 15 121 19 128 17 135ZM104 145 109 140 117 135 126 135 130 139 126 145 116 150 108 149ZM206 142 211 138 220 138 231 139 229 144 226 149 217 150 211 147ZM6 156 12 148 21 150 25 159 26 168 20 176 10 173 4 166Z"/><path fill="#bf1c00" d="M142 143 137 143 132 142 130 139 133 136 138 135 143 136 144 140Z"/><path fill="#cc2000" d="M164 45 160 49 157 50 153 49 152 45 154 41 157 40 161 41ZM223.8 40.3 221.4 37.9 221.3 35.0 223.8 33.8 226.8 34.8 226.4 38.0ZM58.5 69.9 60.1 67.6 62.8 66.6 64.8 68.7 66.7 71.5 64.4 74.0 61.3 74.4 58.6 72.9ZM93 78 92 83 88 86 84 86 79 83 80 77 84 74 90 73ZM198 96 191 94 183 88 184 84 190 85 196 87 202 92 201 94ZM167 106 166 100 166 95 170 92 174 92 175 97 175 103 171 106ZM128.7 103.0 126.7 104.7 123.7 106.2 120.5 104.7 119.6 102.6 120.5 100.2 124.5 99.4 127.0 101.2Z"/><path fill="#ff3200" d="M32.1 4.2 28.9 5.5 25.0 5.2 22.8 3.1 22.5 0.1 26.9 -1.2 31.7 -1.0 33.6 1.8ZM84 17 78 17 72 16 72 9 73 3 81 3 88 4 87 11ZM104.9 17.8 101.8 17.6 100.9 13.8 103.4 11.2 106.4 12.3 106.7 15.6ZM235 54 232 55 231 49 231 44 235 43 237 44 239 48 237 52ZM231 56 227 58 223 57 219 55 219 49 223 46 227 47 230 50ZM7 51 10 49 15 49 17 53 16 57 12 60 7 58 4 54ZM78 89 71 92 65 87 68 76 73 67 80 63 84 70 82 80ZM49.7 96.7 49.9 93.7 53.0 92.5 54.6 95.1 54.3 97.7 51.5 99.3ZM181 79 184 83 186 88 181 92 175 92 171 88 170 83 175 80ZM137 89 136 92 133 94 129 92 129 86 131 81 135 80 139 83ZM158 109 153 107 153 102 155 97 160 96 164 99 165 104 163 108ZM209.8 118.2 206.9 120.5 203.6 120.9 199.9 120.0 200.7 116.8 201.3 113.6 205.2 113.5 207.6 115.5ZM221 138 222 128 225 121 231 119 238 122 238 131 237 141 229 141ZM61.6 130.0 61.6 132.0 59.4 133.0 56.9 132.9 55.0 131.6 54.6 129.4 57.1 127.9 60.4 127.8ZM64.1 134.8 61.9 133.9 62.1 131.0 63.7 129.6 65.3 130.6 66.1 133.3ZM80.5 125.3 83.4 124.8 84.9 126.9 84.2 129.2 81.4 130.2 79.9 127.8ZM80.2 132.7 83.1 130.1 86.2 128.5 89.8 129.8 91.0 133.6 89.3 137.4 85.3 138.8 82.0 136.4ZM216 161 210 157 211 152 214 149 219 150 226 153 224 158 221 161ZM95 162 100 160 106 161 108 165 106 169 102 170 96 170 94 166ZM53 164 51 171 49 175 45 174 42 169 43 162 46 159 50 160ZM187.3 173.9 183.8 172.1 182.5 167.6 185.6 164.9 188.6 162.9 192.5 164.5 192.4 169.2 190.4 172.1ZM225.2 169.5 228.6 170.3 230.2 172.5 229.3 175.3 226.1 175.6 224.7 173.0ZM51.6 3.3 51.4 0.3 54.7 -0.6 58.1 0.3 57.8 3.2 54.8 4.4ZM85.0 9.7 86.3 6.8 88.1 5.1 90.9 4.3 92.5 6.6 93.8 9.5 91.4 12.0 88.0 11.2ZM157.5 6.9 155.5 3.2 158.3 -0.1 162.6 0.0 163.5 4.0 161.5 7.1ZM186.5 -0.4 189.9 0.5 191.1 3.4 189.5 6.7 185.7 6.0 184.5 2.6ZM211.6 11.8 209.3 10.0 208.0 7.3 209.3 4.5 211.7 3.1 214.7 3.8 215.8 7.3 215.0 11.2ZM179.2 43.0 182.0 40.9 186.0 41.8 185.2 45.6 182.8 47.6 179.5 46.6ZM63.2 60.4 60.4 60.6 57.4 60.0 56.1 57.3 58.5 55.2 61.4 54.0 63.4 56.2 64.2 58.1ZM32.5 92.1 29.4 91.9 27.3 89.8 28.3 86.6 31.6 86.6 33.3 89.0ZM31.9 91.3 33.9 89.6 36.3 90.4 36.4 92.7 35.1 95.0 32.4 93.9ZM40.3 92.2 40.3 93.8 39.3 95.0 37.7 94.6 37.6 93.0 38.5 91.6ZM118.9 82.7 120.0 79.8 123.2 80.2 124.8 82.3 123.7 84.8 120.9 84.5ZM184.8 108.2 180.1 108.0 179.1 103.9 180.7 100.1 185.1 99.0 188.5 101.0 190.0 104.1 189.4 108.2ZM220 108 228 108 237 110 237 114 236 119 227 119 219 116 214 111ZM145.6 146.2 147.0 143.6 150.1 143.1 152.1 145.7 150.5 148.7 147.5 148.3ZM154.7 150.4 157.0 152.2 155.5 154.7 152.9 155.2 150.8 153.1 152.3 150.7ZM128.5 151.1 132.8 151.6 134.6 154.1 134.5 156.9 130.7 158.4 126.6 157.6 124.1 155.4 125.7 153.0ZM79.1 169.1 82.0 167.6 85.5 167.4 88.3 170.4 86.6 174.1 83.5 175.5 79.9 175.7 78.7 172.3ZM153.7 170.4 157.5 170.5 160.4 172.2 161.5 175.9 160.0 179.8 156.2 181.0 152.4 179.1 152.0 174.4ZM75.7 171.2 75.8 174.0 74.7 177.2 71.7 177.1 70.0 174.4 70.4 171.6 71.7 169.4 74.1 169.0ZM69.9 178.5 68.6 180.5 65.2 180.5 62.7 179.6 62.0 177.9 63.3 176.3 66.2 175.7 68.6 176.8ZM45 7 43 11 37 11 33 8 32 4 35 0 41 1 46 3ZM64.4 5.4 62.7 8.7 59.3 8.3 56.7 5.5 58.9 2.2 62.7 2.1ZM44.2 22.0 43.4 20.9 43.8 19.4 45.3 19.3 45.9 20.5 45.5 21.6ZM80.7 16.2 79.8 13.8 81.0 11.5 83.6 9.6 85.9 11.9 87.9 14.3 86.0 16.8 83.0 18.2ZM128 4 128 1 131 -2 137 -2 140 2 138 5 135 8 131 6ZM146.5 4.0 147.0 0.6 150.0 -2.2 153.9 -0.4 156.2 2.1 156.2 5.6 152.6 7.3 148.0 7.8ZM101.6 30.5 101.1 26.9 103.8 24.4 107.7 24.2 109.6 27.4 111.5 31.6 107.5 33.9 103.2 34.4ZM125.9 33.7 126.8 30.3 129.5 27.0 133.5 29.0 136.4 31.3 135.4 34.7 132.4 36.7 128.9 35.9ZM166.0 38.3 165.7 41.7 162.1 42.8 159.1 40.3 160.6 36.9 163.8 35.9ZM148.4 40.1 150.3 43.4 150.3 47.0 147.8 50.6 143.8 49.0 140.8 46.4 140.8 42.1 144.2 39.2ZM177.4 48.4 181.1 46.3 184.5 48.6 185.7 51.9 184.6 55.2 181.4 57.3 178.4 55.1 175.7 52.2ZM209.1 52.4 204.9 51.7 204.5 47.6 205.6 43.6 209.9 43.6 213.2 45.0 214.8 48.5 213.3 52.4ZM215 48 217 41 223 41 228 41 232 49 229 55 225 58 220 55ZM14.3 50.1 13.6 53.2 11.2 56.0 8.3 53.8 5.9 51.0 7.6 47.5 10.2 44.7 13.1 47.1ZM64.9 63.6 62.8 59.8 64.0 55.5 67.6 54.4 71.1 54.8 73.3 58.3 72.3 62.5 68.9 65.2ZM58.9 61.2 62.4 63.0 63.5 66.8 61.9 70.5 58.0 70.9 54.5 69.6 53.6 65.8 55.9 63.3ZM51.2 79.3 50.7 76.0 53.4 73.9 57.1 72.0 59.5 75.2 60.4 78.6 57.5 80.9 53.9 81.8ZM85 65 89 67 90 72 89 78 84 79 81 76 80 72 80 66ZM40 84 43 81 47 81 48 85 48 90 46 93 42 92 40 89ZM137.6 80.2 137.0 75.4 138.2 71.5 140.2 69.7 141.9 72.4 142.2 76.5 141.3 79.9 139.7 81.1ZM169 81 173 77 181 71 186 73 187 75 184 79 175 83 167 85ZM179.7 94.4 178.1 97.2 174.1 97.3 173.4 93.4 175.4 90.4 179.4 90.5ZM189.5 105.2 191.6 106.5 191.9 108.5 190.0 109.7 187.6 109.0 186.8 106.4ZM49.4 111.3 45.9 110.2 45.5 106.7 47.8 103.9 50.8 105.7 52.6 108.9ZM27.2 113.8 25.2 115.2 22.9 115.3 21.7 113.0 21.2 109.9 23.4 108.1 26.2 107.2 27.6 110.6ZM217.3 118.3 213.4 118.7 209.9 118.8 208.5 115.6 209.5 112.4 212.2 110.2 215.2 111.8 217.6 114.3ZM214.3 127.1 217.0 124.6 219.8 126.5 221.4 129.6 218.3 131.5 215.2 130.5ZM59.0 127.2 57.0 129.5 53.9 130.6 51.5 128.0 50.8 124.3 53.7 122.4 56.5 122.3 58.9 124.0ZM145.5 129.0 144.0 131.2 140.7 132.3 138.1 129.9 138.9 126.9 140.9 125.3 143.5 124.9 145.3 126.6ZM90.6 142.5 90.0 145.9 86.7 148.2 83.8 145.2 84.2 141.3 87.8 140.8ZM212.7 150.2 210.7 152.9 207.3 153.5 204.2 151.4 203.9 147.6 206.5 145.1 209.7 145.4 212.2 147.1ZM114.0 157.2 113.9 160.7 110.5 161.6 107.2 161.0 106.5 157.9 106.4 154.4 109.7 153.4 113.2 153.7ZM163.9 155.1 166.4 157.7 165.6 161.5 161.6 162.4 158.7 160.9 156.3 158.6 157.8 155.6 160.8 154.3ZM89.7 160.5 88.9 163.5 86.4 165.2 83.8 163.6 82.9 160.6 83.7 157.5 86.3 155.8 89.5 156.9ZM95.2 165.0 93.7 168.5 91.3 172.3 86.8 170.9 83.6 167.4 84.8 162.6 89.1 161.8 93.2 161.2ZM6.4 169.8 6.2 166.6 7.3 164.1 9.6 162.3 12.4 163.7 14.3 166.8 12.0 169.5 9.4 171.2ZM173.2 164.1 175.1 161.5 178.5 161.3 180.7 163.7 180.6 166.7 178.4 168.5 175.9 168.5 173.2 167.2ZM155 175 155 169 159 166 164 167 168 171 168 177 163 180 158 178ZM180.4 170.9 183.8 170.9 186.0 173.2 186.6 176.6 184.3 178.9 181.1 179.5 179.7 176.7 178.7 173.8ZM196.6 179.6 193.8 178.6 192.4 175.9 194.0 173.5 196.3 171.9 198.8 173.3 200.7 175.6 199.0 178.2ZM91.4 179.4 87.5 180.3 84.4 179.3 82.6 177.4 82.5 174.5 86.3 173.2 90.2 174.0 91.0 176.6Z"/></g></g><use href="#rbc4" filter="url(#bl)"/></g>
<g id="gc4" clip-path="url(#pc)"><g filter="url(#bl)"><rect width="239.7" height="181.0" fill="#000" filter="url(#tgc4)"/><path fill="#021f02" fill-opacity="0.8" d="M145 173 141 178 137 181 133 179 131 174 131 167 137 166 140 168ZM3 122 1 116 6 111 13 111 17 116 17 121 15 127 8 126ZM18 87 14 92 9 92 2 89 2 79 8 72 14 74 20 78Z"/><path fill="#074004" fill-opacity="0.8" d="M162 15 170 14 171 21 170 26 164 30 158 29 155 26 154 19ZM106 55 102 55 97 55 98 47 99 39 103 39 108 40 107 47Z"/><path fill="#032e03" fill-opacity="0.8" d="M181 53 181 59 174 64 167 65 159 62 160 54 169 50 175 50Z"/></g><g filter="url(#halo)" opacity="0.5"><g id="gbc4"><path fill="#011a02" d="M32.1 4.2 28.9 5.5 25.0 5.2 22.8 3.1 22.5 0.1 26.9 -1.2 31.7 -1.0 33.6 1.8ZM84 17 78 17 72 16 72 9 73 3 81 3 88 4 87 11ZM104.9 17.8 101.8 17.6 100.9 13.8 103.4 11.2 106.4 12.3 106.7 15.6ZM235 54 232 55 231 49 231 44 235 43 237 44 239 48 237 52ZM231 56 227 58 223 57 219 55 219 49 223 46 227 47 230 50ZM7 51 10 49 15 49 17 53 16 57 12 60 7 58 4 54ZM78 89 71 92 65 87 68 76 73 67 80 63 84 70 82 80ZM49.7 96.7 49.9 93.7 53.0 92.5 54.6 95.1 54.3 97.7 51.5 99.3ZM181 79 184 83 186 88 181 92 175 92 171 88 170 83 175 80ZM137 89 136 92 133 94 129 92 129 86 131 81 135 80 139 83ZM158 109 153 107 153 102 155 97 160 96 164 99 165 104 163 108ZM209.8 118.2 206.9 120.5 203.6 120.9 199.9 120.0 200.7 116.8 201.3 113.6 205.2 113.5 207.6 115.5ZM221 138 222 128 225 121 231 119 238 122 238 131 237 141 229 141ZM61.6 130.0 61.6 132.0 59.4 133.0 56.9 132.9 55.0 131.6 54.6 129.4 57.1 127.9 60.4 127.8ZM64.1 134.8 61.9 133.9 62.1 131.0 63.7 129.6 65.3 130.6 66.1 133.3ZM80.5 125.3 83.4 124.8 84.9 126.9 84.2 129.2 81.4 130.2 79.9 127.8ZM80.2 132.7 83.1 130.1 86.2 128.5 89.8 129.8 91.0 133.6 89.3 137.4 85.3 138.8 82.0 136.4ZM216 161 210 157 211 152 214 149 219 150 226 153 224 158 221 161ZM95 162 100 160 106 161 108 165 106 169 102 170 96 170 94 166ZM53 164 51 171 49 175 45 174 42 169 43 162 46 159 50 160ZM187.3 173.9 183.8 172.1 182.5 167.6 185.6 164.9 188.6 162.9 192.5 164.5 192.4 169.2 190.4 172.1ZM225.2 169.5 228.6 170.3 230.2 172.5 229.3 175.3 226.1 175.6 224.7 173.0Z"/><path fill="#074204" d="M164 45 160 49 157 50 153 49 152 45 154 41 157 40 161 41ZM223.8 40.3 221.4 37.9 221.3 35.0 223.8 33.8 226.8 34.8 226.4 38.0ZM58.5 69.9 60.1 67.6 62.8 66.6 64.8 68.7 66.7 71.5 64.4 74.0 61.3 74.4 58.6 72.9ZM93 78 92 83 88 86 84 86 79 83 80 77 84 74 90 73ZM198 96 191 94 183 88 184 84 190 85 196 87 202 92 201 94ZM167 106 166 100 166 95 170 92 174 92 175 97 175 103 171 106ZM128.7 103.0 126.7 104.7 123.7 106.2 120.5 104.7 119.6 102.6 120.5 100.2 124.5 99.4 127.0 101.2Z"/><path fill="#177808" d="M51.6 3.3 51.4 0.3 54.7 -0.6 58.1 0.3 57.8 3.2 54.8 4.4ZM85.0 9.7 86.3 6.8 88.1 5.1 90.9 4.3 92.5 6.6 93.8 9.5 91.4 12.0 88.0 11.2ZM157.5 6.9 155.5 3.2 158.3 -0.1 162.6 0.0 163.5 4.0 161.5 7.1ZM186.5 -0.4 189.9 0.5 191.1 3.4 189.5 6.7 185.7 6.0 184.5 2.6ZM211.6 11.8 209.3 10.0 208.0 7.3 209.3 4.5 211.7 3.1 214.7 3.8 215.8 7.3 215.0 11.2ZM179.2 43.0 182.0 40.9 186.0 41.8 185.2 45.6 182.8 47.6 179.5 46.6ZM63.2 60.4 60.4 60.6 57.4 60.0 56.1 57.3 58.5 55.2 61.4 54.0 63.4 56.2 64.2 58.1ZM32.5 92.1 29.4 91.9 27.3 89.8 28.3 86.6 31.6 86.6 33.3 89.0ZM31.9 91.3 33.9 89.6 36.3 90.4 36.4 92.7 35.1 95.0 32.4 93.9ZM40.3 92.2 40.3 93.8 39.3 95.0 37.7 94.6 37.6 93.0 38.5 91.6ZM118.9 82.7 120.0 79.8 123.2 80.2 124.8 82.3 123.7 84.8 120.9 84.5ZM184.8 108.2 180.1 108.0 179.1 103.9 180.7 100.1 185.1 99.0 188.5 101.0 190.0 104.1 189.4 108.2ZM220 108 228 108 237 110 237 114 236 119 227 119 219 116 214 111ZM145.6 146.2 147.0 143.6 150.1 143.1 152.1 145.7 150.5 148.7 147.5 148.3ZM154.7 150.4 157.0 152.2 155.5 154.7 152.9 155.2 150.8 153.1 152.3 150.7ZM128.5 151.1 132.8 151.6 134.6 154.1 134.5 156.9 130.7 158.4 126.6 157.6 124.1 155.4 125.7 153.0ZM79.1 169.1 82.0 167.6 85.5 167.4 88.3 170.4 86.6 174.1 83.5 175.5 79.9 175.7 78.7 172.3ZM153.7 170.4 157.5 170.5 160.4 172.2 161.5 175.9 160.0 179.8 156.2 181.0 152.4 179.1 152.0 174.4ZM75.7 171.2 75.8 174.0 74.7 177.2 71.7 177.1 70.0 174.4 70.4 171.6 71.7 169.4 74.1 169.0ZM69.9 178.5 68.6 180.5 65.2 180.5 62.7 179.6 62.0 177.9 63.3 176.3 66.2 175.7 68.6 176.8Z"/><path fill="#33b20b" d="M142 143 137 143 132 142 130 139 133 136 138 135 143 136 144 140Z"/><path fill="#69ff10" d="M48.2 17.1 45.0 19.8 41.6 17.1 42.0 13.5 45.0 10.6 48.0 13.5ZM55.3 66.3 51.9 67.1 47.1 66.9 46.5 62.1 47.9 57.3 52.9 56.9 55.9 59.7 57.7 63.2ZM192.8 80.3 191.1 77.9 190.6 74.6 194.1 72.3 198.7 72.9 199.7 76.5 199.7 79.8 196.1 81.1ZM179.4 116.5 180.0 120.8 179.7 124.1 177.2 127.5 172.5 126.9 170.2 122.8 172.5 119.3 175.0 116.3ZM4.8 130.7 7.5 132.0 8.8 134.6 6.3 136.3 3.7 137.7 0.4 136.7 0.1 133.7 1.9 131.6ZM45 7 43 11 37 11 33 8 32 4 35 0 41 1 46 3ZM64.4 5.4 62.7 8.7 59.3 8.3 56.7 5.5 58.9 2.2 62.7 2.1ZM44.2 22.0 43.4 20.9 43.8 19.4 45.3 19.3 45.9 20.5 45.5 21.6ZM80.7 16.2 79.8 13.8 81.0 11.5 83.6 9.6 85.9 11.9 87.9 14.3 86.0 16.8 83.0 18.2ZM128 4 128 1 131 -2 137 -2 140 2 138 5 135 8 131 6ZM146.5 4.0 147.0 0.6 150.0 -2.2 153.9 -0.4 156.2 2.1 156.2 5.6 152.6 7.3 148.0 7.8ZM101.6 30.5 101.1 26.9 103.8 24.4 107.7 24.2 109.6 27.4 111.5 31.6 107.5 33.9 103.2 34.4ZM125.9 33.7 126.8 30.3 129.5 27.0 133.5 29.0 136.4 31.3 135.4 34.7 132.4 36.7 128.9 35.9ZM166.0 38.3 165.7 41.7 162.1 42.8 159.1 40.3 160.6 36.9 163.8 35.9ZM148.4 40.1 150.3 43.4 150.3 47.0 147.8 50.6 143.8 49.0 140.8 46.4 140.8 42.1 144.2 39.2ZM177.4 48.4 181.1 46.3 184.5 48.6 185.7 51.9 184.6 55.2 181.4 57.3 178.4 55.1 175.7 52.2ZM209.1 52.4 204.9 51.7 204.5 47.6 205.6 43.6 209.9 43.6 213.2 45.0 214.8 48.5 213.3 52.4ZM215 48 217 41 223 41 228 41 232 49 229 55 225 58 220 55ZM14.3 50.1 13.6 53.2 11.2 56.0 8.3 53.8 5.9 51.0 7.6 47.5 10.2 44.7 13.1 47.1ZM64.9 63.6 62.8 59.8 64.0 55.5 67.6 54.4 71.1 54.8 73.3 58.3 72.3 62.5 68.9 65.2ZM58.9 61.2 62.4 63.0 63.5 66.8 61.9 70.5 58.0 70.9 54.5 69.6 53.6 65.8 55.9 63.3ZM51.2 79.3 50.7 76.0 53.4 73.9 57.1 72.0 59.5 75.2 60.4 78.6 57.5 80.9 53.9 81.8ZM85 65 89 67 90 72 89 78 84 79 81 76 80 72 80 66ZM40 84 43 81 47 81 48 85 48 90 46 93 42 92 40 89ZM137.6 80.2 137.0 75.4 138.2 71.5 140.2 69.7 141.9 72.4 142.2 76.5 141.3 79.9 139.7 81.1ZM169 81 173 77 181 71 186 73 187 75 184 79 175 83 167 85ZM179.7 94.4 178.1 97.2 174.1 97.3 173.4 93.4 175.4 90.4 179.4 90.5ZM189.5 105.2 191.6 106.5 191.9 108.5 190.0 109.7 187.6 109.0 186.8 106.4ZM49.4 111.3 45.9 110.2 45.5 106.7 47.8 103.9 50.8 105.7 52.6 108.9ZM27.2 113.8 25.2 115.2 22.9 115.3 21.7 113.0 21.2 109.9 23.4 108.1 26.2 107.2 27.6 110.6ZM217.3 118.3 213.4 118.7 209.9 118.8 208.5 115.6 209.5 112.4 212.2 110.2 215.2 111.8 217.6 114.3ZM214.3 127.1 217.0 124.6 219.8 126.5 221.4 129.6 218.3 131.5 215.2 130.5ZM59.0 127.2 57.0 129.5 53.9 130.6 51.5 128.0 50.8 124.3 53.7 122.4 56.5 122.3 58.9 124.0ZM145.5 129.0 144.0 131.2 140.7 132.3 138.1 129.9 138.9 126.9 140.9 125.3 143.5 124.9 145.3 126.6ZM90.6 142.5 90.0 145.9 86.7 148.2 83.8 145.2 84.2 141.3 87.8 140.8ZM212.7 150.2 210.7 152.9 207.3 153.5 204.2 151.4 203.9 147.6 206.5 145.1 209.7 145.4 212.2 147.1ZM114.0 157.2 113.9 160.7 110.5 161.6 107.2 161.0 106.5 157.9 106.4 154.4 109.7 153.4 113.2 153.7ZM163.9 155.1 166.4 157.7 165.6 161.5 161.6 162.4 158.7 160.9 156.3 158.6 157.8 155.6 160.8 154.3ZM89.7 160.5 88.9 163.5 86.4 165.2 83.8 163.6 82.9 160.6 83.7 157.5 86.3 155.8 89.5 156.9ZM95.2 165.0 93.7 168.5 91.3 172.3 86.8 170.9 83.6 167.4 84.8 162.6 89.1 161.8 93.2 161.2ZM6.4 169.8 6.2 166.6 7.3 164.1 9.6 162.3 12.4 163.7 14.3 166.8 12.0 169.5 9.4 171.2ZM173.2 164.1 175.1 161.5 178.5 161.3 180.7 163.7 180.6 166.7 178.4 168.5 175.9 168.5 173.2 167.2ZM155 175 155 169 159 166 164 167 168 171 168 177 163 180 158 178ZM180.4 170.9 183.8 170.9 186.0 173.2 186.6 176.6 184.3 178.9 181.1 179.5 179.7 176.7 178.7 173.8ZM196.6 179.6 193.8 178.6 192.4 175.9 194.0 173.5 196.3 171.9 198.8 173.3 200.7 175.6 199.0 178.2ZM91.4 179.4 87.5 180.3 84.4 179.3 82.6 177.4 82.5 174.5 86.3 173.2 90.2 174.0 91.0 176.6Z"/></g></g><use href="#gbc4" filter="url(#bl)"/></g>
<filter id="trc5" x="0" y="0" width="100%" height="100%" color-interpolation-filters="sRGB"><feTurbulence type="fractalNoise" baseFrequency="0.045" numOctaves="3" seed="8"/><feColorMatrix type="matrix" values="0.648 0 0 0 -0.144 0.097 0 0 0 -0.022 0.000 0 0 0 -0.000 0 0 0 0 1"/></filter>
<filter id="tgc5" x="0" y="0" width="100%" height="100%" color-interpolation-filters="sRGB"><feTurbulence type="fractalNoise" baseFrequency="0.03" numOctaves="3" seed="58"/><feColorMatrix type="matrix" values="0.014 0 0 0 0.007 0.085 0 0 0 0.043 0.009 0 0 0 0.004 0 0 0 0 1"/></filter>
<g id="rc5" clip-path="url(#pc)"><g filter="url(#bl)"><rect width="239.7" height="181.0" fill="#000" filter="url(#trc5)"/><path fill="#590600" fill-opacity="0.8" d="M49 10 53 7 62 8 69 12 76 16 68 18 59 18 50 14ZM26 113 25 118 22 121 16 118 13 114 10 109 15 108 21 107ZM154 23 147 28 140 30 141 24 144 17 153 10 160 10 162 15ZM130 54 133 48 138 48 144 50 146 58 141 64 136 62 130 61ZM241 143 246 149 246 155 240 157 233 153 227 148 230 143 234 141ZM154 73 155 78 151 84 144 84 139 81 139 75 144 70 151 69ZM227 92 221 95 216 92 215 85 216 78 223 77 227 80 231 86ZM218 163 211 163 210 157 215 151 222 146 229 147 228 152 226 158ZM174 159 180 166 185 176 183 183 178 187 172 178 169 170 169 163ZM194 75 189 70 191 64 194 58 201 57 205 63 205 69 201 74Z"/><path fill="#6c0900" fill-opacity="0.8" d="M140 -1 145 -1 151 4 150 9 148 12 142 13 137 8 138 3ZM53 17 47 22 41 18 37 14 38 6 44 2 50 2 54 9ZM65 110 73 117 78 126 77 135 72 137 64 136 60 126 60 117ZM55 125 51 119 51 111 58 105 66 105 72 111 67 118 63 123ZM199 11 206 11 211 14 213 21 207 26 201 29 197 25 193 19ZM104 65 96 64 91 58 93 52 101 50 108 52 111 57 111 63ZM82 9 91 11 89 20 86 29 75 29 69 22 67 14 74 9ZM32 101 29 95 32 92 36 92 41 97 43 102 42 105 38 105ZM96 0 105 6 102 14 96 19 86 16 80 11 76 2 86 -2Z"/><path fill="#140300" fill-opacity="0.8" d="M47 172 43 178 36 179 31 174 33 167 37 163 43 162 48 166ZM165 121 170 124 176 131 179 139 179 146 172 140 165 133 160 122ZM88 46 94 43 98 46 100 50 96 55 90 59 85 57 86 51ZM33 59 30 52 34 48 39 49 43 55 43 62 41 65 37 64ZM37 174 43 173 50 174 58 177 55 181 49 183 41 181 37 177ZM156 118 146 119 134 118 131 114 131 111 139 109 149 109 157 113ZM141 87 139 93 135 97 128 95 125 90 128 85 132 81 137 83ZM211 23 216 26 220 30 217 36 213 39 207 40 203 34 206 28ZM118 6 122 -5 129 -8 138 -9 137 3 135 13 128 18 121 14ZM131 76 121 84 113 87 105 85 103 79 105 71 115 66 124 70ZM237 60 235 67 230 71 222 73 218 67 219 60 225 54 232 56ZM61 162 65 173 67 182 65 190 59 190 55 179 52 169 56 163ZM220 65 218 59 219 52 225 49 231 53 233 59 231 65 226 66ZM220 154 219 165 209 167 201 167 197 158 198 148 206 145 215 144ZM120 30 115 29 111 22 117 14 122 10 127 10 129 18 126 26ZM49 51 49 43 56 38 64 35 68 43 70 51 63 59 54 58ZM1 104 -3 93 1 89 7 93 12 99 14 109 11 115 5 114ZM75 105 70 103 74 98 79 92 89 90 95 92 94 97 85 103ZM100 26 99 30 94 30 89 27 88 22 88 16 94 17 98 20ZM24 36 23 30 24 25 31 24 37 27 37 33 35 38 29 40ZM208 126 213 123 217 122 223 124 224 132 220 137 214 139 208 134ZM164 141 169 144 168 148 166 153 158 153 154 149 153 145 158 142ZM119 93 119 99 112 102 104 101 103 96 104 91 110 87 116 89ZM13 106 9 114 2 121 -3 116 -4 107 0 99 7 93 14 96ZM142 -8 151 -6 156 1 159 8 155 12 147 8 142 4 138 -3ZM226 98 226 109 222 117 216 111 212 103 212 91 216 84 223 86ZM171 164 170 156 174 146 183 142 190 144 191 153 185 163 177 165ZM17 174 14 172 10 168 11 161 15 159 18 159 22 163 20 170Z"/><path fill="#330200" fill-opacity="0.8" d="M1 159 -6 154 -1 147 5 142 14 140 22 145 17 153 11 159ZM121 34 117 39 109 40 105 33 101 26 106 21 114 23 121 27ZM161 60 155 58 156 54 159 49 165 49 170 52 170 56 167 60ZM82 169 86 175 85 181 82 187 76 185 72 180 72 174 76 171ZM126 141 131 135 140 129 146 129 147 135 137 142 129 148 122 149ZM112 83 110 75 116 70 123 69 130 72 131 79 128 86 120 90ZM217 128 221 127 224 132 224 143 219 148 215 150 212 144 214 134ZM17 110 14 116 8 113 6 108 6 104 10 100 15 102 19 106ZM86 142 81 138 77 133 78 126 83 123 88 125 91 132 92 140ZM42 40 39 36 37 31 42 28 46 28 50 31 52 37 47 40Z"/><path fill="#800c00" fill-opacity="0.8" d="M57 75 47 75 38 75 33 66 33 56 41 51 52 55 58 64ZM-6 140 -0 136 6 135 12 139 14 147 7 150 0 151 -8 148ZM49 70 45 74 35 75 26 74 25 69 31 65 41 65 48 66ZM226 124 227 116 232 112 241 116 247 126 249 135 243 137 234 133ZM200 20 194 30 185 33 177 32 175 23 182 14 190 9 198 10ZM201 100 200 94 207 86 216 87 222 91 221 99 212 103 203 107ZM208 3 215 -3 223 -2 225 6 223 13 218 18 211 16 204 11ZM185 78 180 84 175 77 172 70 175 62 182 59 187 64 188 72ZM114 112 110 116 98 116 90 112 90 107 98 105 107 105 115 108ZM-5 112 6 114 13 122 14 131 12 138 3 141 -6 132 -10 121ZM200 132 201 140 198 147 189 149 180 143 176 135 180 128 190 125ZM212 58 207 59 200 54 193 48 195 45 200 44 208 47 211 53ZM221 92 228 89 236 90 237 95 235 99 229 103 223 102 219 98ZM150 51 140 54 140 48 141 42 149 37 158 34 163 37 158 44Z"/><path fill="#460400" fill-opacity="0.8" d="M92 62 94 70 89 76 80 76 73 70 70 63 76 58 83 58ZM229 107 237 104 243 105 247 108 245 112 239 116 232 116 229 112ZM220 79 216 73 216 66 220 60 228 58 231 64 232 71 228 78ZM108 131 112 126 119 130 126 134 125 140 122 144 114 144 107 138ZM75 172 69 175 62 171 57 166 59 160 65 157 72 162 79 167ZM116 22 112 17 112 12 115 7 122 10 129 15 128 22 122 23ZM170 93 176 93 182 96 183 101 183 108 178 109 173 106 169 100ZM68 53 73 52 79 60 77 71 75 78 71 77 67 71 64 60ZM62 145 70 143 73 149 73 157 67 166 60 168 58 161 58 154Z"/></g><g filter="url(#halo)" opacity="0.5"><g id="rbc5"><path fill="#2a0700" d="M78 113 85 119 81 127 67 128 54 127 52 119 57 113 67 110ZM110 100 122 101 125 110 119 116 109 120 98 117 93 109 96 100ZM236 95 241 110 232 122 220 127 211 115 212 98 219 87 230 80ZM87 10 81 14 73 19 62 16 57 10 61 3 73 -0 84 3Z"/><path fill="#4c0400" d="M12 30 19 31 23 37 21 44 18 50 13 52 8 46 9 37ZM54 44 50 52 40 56 31 54 29 48 34 42 42 38 49 40ZM38 106 44 103 48 107 50 113 47 117 42 119 35 118 33 111ZM8 88 11 96 7 103 2 104 -3 100 -3 89 1 83 6 79ZM21 147 21 142 24 138 27 140 31 142 30 147 27 151 24 150Z"/><path fill="#730a00" d="M3 10 2 5 5 1 10 -4 15 0 17 7 14 13 8 13ZM219 -2 225 -1 227 6 225 12 219 13 213 13 211 6 213 0ZM9 127 3 127 1 125 0 121 7 117 14 116 18 119 14 123ZM145.9 165.6 148.4 168.0 148.7 171.2 146.2 173.8 142.5 173.5 139.2 171.6 138.9 168.0 141.4 164.4Z"/><path fill="#b21800" d="M121.1 92.5 120.7 89.5 123.0 87.3 125.9 88.6 126.7 91.9 123.9 93.6ZM143 112 152 105 161 107 166 118 162 128 157 136 149 133 145 125ZM18 148 11 153 1 151 -3 140 1 128 11 126 18 132 22 140ZM48.5 139.1 44.6 140.9 40.5 141.7 37.7 139.1 37.3 136.0 40.0 133.2 44.6 133.4 46.6 136.1ZM147 40 153 37 158 41 159 45 158 51 152 52 147 49 143 45ZM113 88 112 94 110 101 101 100 95 96 95 91 97 84 106 85ZM140 98 134 103 126 101 125 92 127 83 134 81 141 82 143 91Z"/><path fill="#bf1c00" d="M173 125 176 115 183 115 187 127 187 138 185 148 178 145 174 135ZM122 156 128 158 132 164 128 170 122 173 115 169 113 164 115 158Z"/><path fill="#cc2000" d="M28 26 33 23 40 23 48 25 47 31 41 35 33 33 27 30ZM26 37 29 40 30 47 30 53 27 59 24 56 22 48 24 42ZM129 4 139 1 151 2 156 6 151 10 144 14 131 13 129 8ZM134 27 138 22 145 21 150 24 151 29 149 35 142 34 137 32ZM25.2 96.0 21.8 98.0 17.4 97.3 14.2 94.6 16.6 91.6 19.8 90.2 23.5 90.5 25.6 92.9ZM163 84 165 89 162 96 157 95 152 92 152 86 155 81 160 80ZM224 32 226 35 227 40 223 44 219 42 216 38 217 33 220 31Z"/><path fill="#ff3200" d="M39.7 6.1 39.3 2.5 41.3 0.2 43.8 -0.4 45.1 2.7 46.4 6.3 43.7 7.7 41.4 8.7ZM85.6 44.2 82.2 42.6 85.1 40.7 88.8 40.2 92.4 40.8 93.5 42.6 92.7 44.6 88.8 45.9ZM140 26 140 32 134 36 126 36 123 29 125 24 130 20 137 19ZM173 25 170 28 163 27 158 25 154 22 162 20 169 19 176 21ZM197 27 199 17 204 11 212 11 217 19 216 30 209 35 201 37ZM110 59 111 52 117 46 125 48 131 54 130 62 122 65 114 66ZM156.6 59.3 154.0 60.9 151.1 60.2 149.8 57.8 149.5 54.7 152.6 53.7 155.5 54.2 156.6 56.6ZM152.2 67.0 152.4 70.1 150.8 72.3 148.1 71.6 147.3 69.1 148.8 66.3ZM155.8 65.9 157.6 65.4 158.7 66.7 158.7 68.4 157.0 68.5 155.7 67.7ZM81.1 63.7 82.3 61.6 84.9 61.6 85.6 64.1 84.3 65.9 81.7 66.2ZM28.4 99.1 27.5 103.4 23.7 103.3 22.2 100.2 23.1 97.2 26.1 96.3ZM31.9 103.5 33.4 106.8 31.7 109.8 28.9 111.3 26.1 109.8 25.6 106.8 26.1 103.9 28.8 103.1ZM60.2 115.0 61.4 117.3 60.4 119.3 58.1 119.7 56.9 117.9 57.6 115.9ZM101.0 84.5 99.8 87.2 97.1 88.5 95.7 86.0 95.5 83.1 98.6 82.7ZM171.4 86.8 174.8 85.8 178.8 85.8 180.9 89.6 179.7 93.9 175.7 96.1 171.0 94.9 170.9 90.4ZM115.4 135.6 118.4 134.2 120.5 136.9 119.8 139.8 118.4 142.2 115.2 143.1 112.4 140.7 112.2 137.0ZM149.5 143.1 151.2 139.3 154.6 138.4 158.0 139.8 157.9 143.9 156.7 147.0 153.9 149.0 150.5 147.2ZM193.2 136.5 193.0 139.5 190.0 139.2 188.4 137.2 189.2 134.5 192.2 133.8ZM147.1 166.8 143.6 167.3 141.4 163.9 142.5 160.2 145.0 158.3 148.2 157.7 149.4 161.2 149.3 164.6ZM156.3 177.8 155.0 179.8 152.3 179.6 150.8 177.4 152.7 175.3 155.2 175.8ZM205.4 54.1 202.4 55.5 199.3 54.0 198.8 49.9 202.7 49.1 205.9 50.5ZM201.7 63.2 202.3 59.5 205.8 57.3 209.5 59.7 209.3 63.6 205.3 65.2ZM201.8 64.8 199.3 66.8 197.4 64.2 198.0 61.7 200.4 60.2 202.8 62.2ZM76 97 67 101 58 101 56 96 61 91 70 86 77 87 83 91ZM205 77 205 82 198 85 192 82 187 79 190 74 196 71 203 73ZM162 93 166 86 173 88 181 92 178 99 174 105 166 106 162 100ZM115 144 122 145 121 150 118 154 112 153 106 151 105 147 108 143ZM52 10 50 13 45 15 41 13 39 11 39 7 45 6 50 6ZM38.2 24.1 37.8 21.4 39.8 19.5 42.7 18.4 44.6 20.8 45.4 23.8 43.2 26.1 40.1 26.6ZM98 39 92 41 86 41 80 36 82 29 88 26 94 27 98 32ZM172.1 9.9 176.2 10.5 177.8 13.3 177.1 16.8 173.3 16.9 171.0 14.0ZM129 51 129 47 133 43 137 46 139 51 137 56 133 57 130 55ZM134 59 136 56 141 55 143 59 145 63 141 66 136 67 133 63ZM-0.8 63.6 -2.8 60.3 -0.8 57.1 1.4 55.6 3.8 56.7 6.0 60.1 4.7 64.7 1.5 66.0ZM7 62 11 60 16 62 16 67 14 71 10 73 7 71 5 67ZM54 67 47 66 48 62 53 59 60 57 64 59 68 62 60 65ZM66 59 76 60 84 67 93 74 88 78 80 79 71 72 65 65ZM22.3 87.0 23.8 91.3 19.9 93.7 15.8 93.3 13.6 90.1 13.1 86.2 16.5 84.3 19.9 84.5ZM78 109 76 113 71 113 66 111 67 106 70 103 75 102 79 105ZM198 88 194 90 188 92 185 86 186 80 191 77 196 77 200 82ZM191 95 194 87 202 91 207 98 210 107 206 112 200 112 194 103ZM223.1 126.2 226.4 127.3 227.0 131.2 226.1 135.5 222.0 135.8 219.2 133.3 218.4 129.9 220.0 126.8ZM108 130 114 127 122 130 123 134 120 137 114 138 108 138 106 134ZM122.1 143.8 119.9 139.5 123.4 136.5 127.2 133.6 131.3 136.6 132.7 141.4 129.5 145.0 125.5 146.1ZM73.8 132.3 76.3 129.0 79.7 129.5 81.6 132.2 80.6 136.2 76.8 134.8ZM163.8 134.9 166.9 133.9 169.6 134.7 171.1 137.6 169.7 140.3 167.7 142.3 164.5 142.1 163.6 138.5ZM26.7 160.3 22.2 159.4 20.0 155.3 20.6 150.7 24.2 148.9 28.1 148.8 30.9 152.4 28.9 156.3ZM30.4 169.9 29.4 166.6 30.1 162.8 33.3 162.5 35.8 163.6 37.6 166.7 36.1 170.2 33.1 171.9ZM23.3 175.9 20.0 176.4 18.4 173.6 19.3 171.0 20.8 168.1 24.4 168.8 26.5 171.3 26.2 174.5ZM60 167 63 170 65 174 64 178 62 182 58 179 56 176 56 170ZM221 180 217 178 215 175 216 172 220 170 223 172 227 175 225 178ZM225.5 177.0 228.6 176.1 232.4 175.8 235.7 177.3 234.5 179.4 231.4 180.6 227.3 180.7 225.7 178.9Z"/></g></g><use href="#rbc5" filter="url(#bl)"/></g>
<g id="gc5" clip-path="url(#pc)"><g filter="url(#bl)"><rect width="239.7" height="181.0" fill="#000" filter="url(#tgc5)"/><path fill="#021f02" fill-opacity="0.8" d="M5 114 5 110 10 108 17 111 24 116 22 120 17 121 10 120ZM28 104 34 107 37 113 37 119 33 123 27 119 22 113 24 108ZM72 13 78 12 83 17 87 24 83 28 77 32 70 26 69 18Z"/><path fill="#032e03" fill-opacity="0.8" d="M53 18 50 22 45 25 40 22 37 16 41 10 46 9 52 11ZM75 141 77 137 84 136 89 139 89 143 86 147 80 148 77 145Z"/><path fill="#074004" fill-opacity="0.8" d="M105 85 103 91 98 93 91 89 92 82 92 76 98 74 103 79ZM121 174 116 176 113 171 110 168 113 164 118 161 121 165 123 169ZM204 169 196 169 186 166 183 160 188 156 197 156 203 160 208 165Z"/></g><g filter="url(#halo)" opacity="0.5"><g id="gbc5"><path fill="#041303" d="M78 113 85 119 81 127 67 128 54 127 52 119 57 113 67 110ZM110 100 122 101 125 110 119 116 109 120 98 117 93 109 96 100ZM236 95 241 110 232 122 220 127 211 115 212 98 219 87 230 80ZM87 10 81 14 73 19 62 16 57 10 61 3 73 -0 84 3Z"/><path fill="#011a02" d="M39.7 6.1 39.3 2.5 41.3 0.2 43.8 -0.4 45.1 2.7 46.4 6.3 43.7 7.7 41.4 8.7ZM85.6 44.2 82.2 42.6 85.1 40.7 88.8 40.2 92.4 40.8 93.5 42.6 92.7 44.6 88.8 45.9ZM140 26 140 32 134 36 126 36 123 29 125 24 130 20 137 19ZM173 25 170 28 163 27 158 25 154 22 162 20 169 19 176 21ZM197 27 199 17 204 11 212 11 217 19 216 30 209 35 201 37ZM110 59 111 52 117 46 125 48 131 54 130 62 122 65 114 66ZM156.6 59.3 154.0 60.9 151.1 60.2 149.8 57.8 149.5 54.7 152.6 53.7 155.5 54.2 156.6 56.6ZM152.2 67.0 152.4 70.1 150.8 72.3 148.1 71.6 147.3 69.1 148.8 66.3ZM155.8 65.9 157.6 65.4 158.7 66.7 158.7 68.4 157.0 68.5 155.7 67.7ZM81.1 63.7 82.3 61.6 84.9 61.6 85.6 64.1 84.3 65.9 81.7 66.2ZM28.4 99.1 27.5 103.4 23.7 103.3 22.2 100.2 23.1 97.2 26.1 96.3ZM31.9 103.5 33.4 106.8 31.7 109.8 28.9 111.3 26.1 109.8 25.6 106.8 26.1 103.9 28.8 103.1ZM60.2 115.0 61.4 117.3 60.4 119.3 58.1 119.7 56.9 117.9 57.6 115.9ZM101.0 84.5 99.8 87.2 97.1 88.5 95.7 86.0 95.5 83.1 98.6 82.7ZM171.4 86.8 174.8 85.8 178.8 85.8 180.9 89.6 179.7 93.9 175.7 96.1 171.0 94.9 170.9 90.4ZM115.4 135.6 118.4 134.2 120.5 136.9 119.8 139.8 118.4 142.2 115.2 143.1 112.4 140.7 112.2 137.0ZM149.5 143.1 151.2 139.3 154.6 138.4 158.0 139.8 157.9 143.9 156.7 147.0 153.9 149.0 150.5 147.2ZM193.2 136.5 193.0 139.5 190.0 139.2 188.4 137.2 189.2 134.5 192.2 133.8ZM147.1 166.8 143.6 167.3 141.4 163.9 142.5 160.2 145.0 158.3 148.2 157.7 149.4 161.2 149.3 164.6ZM156.3 177.8 155.0 179.8 152.3 179.6 150.8 177.4 152.7 175.3 155.2 175.8Z"/><path fill="#074204" d="M28 26 33 23 40 23 48 25 47 31 41 35 33 33 27 30ZM26 37 29 40 30 47 30 53 27 59 24 56 22 48 24 42ZM129 4 139 1 151 2 156 6 151 10 144 14 131 13 129 8ZM134 27 138 22 145 21 150 24 151 29 149 35 142 34 137 32ZM25.2 96.0 21.8 98.0 17.4 97.3 14.2 94.6 16.6 91.6 19.8 90.2 23.5 90.5 25.6 92.9ZM163 84 165 89 162 96 157 95 152 92 152 86 155 81 160 80ZM224 32 226 35 227 40 223 44 219 42 216 38 217 33 220 31Z"/><path fill="#177808" d="M12 30 19 31 23 37 21 44 18 50 13 52 8 46 9 37ZM54 44 50 52 40 56 31 54 29 48 34 42 42 38 49 40ZM38 106 44 103 48 107 50 113 47 117 42 119 35 118 33 111ZM8 88 11 96 7 103 2 104 -3 100 -3 89 1 83 6 79ZM21 147 21 142 24 138 27 140 31 142 30 147 27 151 24 150ZM205.4 54.1 202.4 55.5 199.3 54.0 198.8 49.9 202.7 49.1 205.9 50.5ZM201.7 63.2 202.3 59.5 205.8 57.3 209.5 59.7 209.3 63.6 205.3 65.2ZM201.8 64.8 199.3 66.8 197.4 64.2 198.0 61.7 200.4 60.2 202.8 62.2ZM76 97 67 101 58 101 56 96 61 91 70 86 77 87 83 91ZM205 77 205 82 198 85 192 82 187 79 190 74 196 71 203 73ZM162 93 166 86 173 88 181 92 178 99 174 105 166 106 162 100ZM115 144 122 145 121 150 118 154 112 153 106 151 105 147 108 143Z"/><path fill="#33b20b" d="M173 125 176 115 183 115 187 127 187 138 185 148 178 145 174 135ZM122 156 128 158 132 164 128 170 122 173 115 169 113 164 115 158Z"/><path fill="#69ff10" d="M3 10 2 5 5 1 10 -4 15 0 17 7 14 13 8 13ZM219 -2 225 -1 227 6 225 12 219 13 213 13 211 6 213 0ZM9 127 3 127 1 125 0 121 7 117 14 116 18 119 14 123ZM145.9 165.6 148.4 168.0 148.7 171.2 146.2 173.8 142.5 173.5 139.2 171.6 138.9 168.0 141.4 164.4ZM52 10 50 13 45 15 41 13 39 11 39 7 45 6 50 6ZM38.2 24.1 37.8 21.4 39.8 19.5 42.7 18.4 44.6 20.8 45.4 23.8 43.2 26.1 40.1 26.6ZM98 39 92 41 86 41 80 36 82 29 88 26 94 27 98 32ZM172.1 9.9 176.2 10.5 177.8 13.3 177.1 16.8 173.3 16.9 171.0 14.0ZM129 51 129 47 133 43 137 46 139 51 137 56 133 57 130 55ZM134 59 136 56 141 55 143 59 145 63 141 66 136 67 133 63ZM-0.8 63.6 -2.8 60.3 -0.8 57.1 1.4 55.6 3.8 56.7 6.0 60.1 4.7 64.7 1.5 66.0ZM7 62 11 60 16 62 16 67 14 71 10 73 7 71 5 67ZM54 67 47 66 48 62 53 59 60 57 64 59 68 62 60 65ZM66 59 76 60 84 67 93 74 88 78 80 79 71 72 65 65ZM22.3 87.0 23.8 91.3 19.9 93.7 15.8 93.3 13.6 90.1 13.1 86.2 16.5 84.3 19.9 84.5ZM78 109 76 113 71 113 66 111 67 106 70 103 75 102 79 105ZM198 88 194 90 188 92 185 86 186 80 191 77 196 77 200 82ZM191 95 194 87 202 91 207 98 210 107 206 112 200 112 194 103ZM223.1 126.2 226.4 127.3 227.0 131.2 226.1 135.5 222.0 135.8 219.2 133.3 218.4 129.9 220.0 126.8ZM108 130 114 127 122 130 123 134 120 137 114 138 108 138 106 134ZM122.1 143.8 119.9 139.5 123.4 136.5 127.2 133.6 131.3 136.6 132.7 141.4 129.5 145.0 125.5 146.1ZM73.8 132.3 76.3 129.0 79.7 129.5 81.6 132.2 80.6 136.2 76.8 134.8ZM163.8 134.9 166.9 133.9 169.6 134.7 171.1 137.6 169.7 140.3 167.7 142.3 164.5 142.1 163.6 138.5ZM26.7 160.3 22.2 159.4 20.0 155.3 20.6 150.7 24.2 148.9 28.1 148.8 30.9 152.4 28.9 156.3ZM30.4 169.9 29.4 166.6 30.1 162.8 33.3 162.5 35.8 163.6 37.6 166.7 36.1 170.2 33.1 171.9ZM23.3 175.9 20.0 176.4 18.4 173.6 19.3 171.0 20.8 168.1 24.4 168.8 26.5 171.3 26.2 174.5ZM60 167 63 170 65 174 64 178 62 182 58 179 56 176 56 170ZM221 180 217 178 215 175 216 172 220 170 223 172 227 175 225 178ZM225.5 177.0 228.6 176.1 232.4 175.8 235.7 177.3 234.5 179.4 231.4 180.6 227.3 180.7 225.7 178.9Z"/></g></g><use href="#gbc5" filter="url(#bl)"/></g>
<filter id="tre0" x="0" y="0" width="100%" height="100%" color-interpolation-filters="sRGB"><feTurbulence type="fractalNoise" baseFrequency="0.045" numOctaves="3" seed="9"/><feColorMatrix type="matrix" values="0.612 0 0 0 -0.136 0.092 0 0 0 -0.020 0.000 0 0 0 -0.000 0 0 0 0 1"/></filter>
<filter id="tge0" x="0" y="0" width="100%" height="100%" color-interpolation-filters="sRGB"><feTurbulence type="fractalNoise" baseFrequency="0.03" numOctaves="3" seed="59"/><feColorMatrix type="matrix" values="0.012 0 0 0 0.006 0.070 0 0 0 0.035 0.007 0 0 0 0.004 0 0 0 0 1"/></filter>
<g id="re0" clip-path="url(#pc)"><g filter="url(#bl)"><rect width="239.7" height="181.0" fill="#000" filter="url(#tre0)"/><path fill="#3a0300" fill-opacity="0.8" d="M170 41 177 40 180 43 174 53 166 61 158 64 159 57 162 50ZM193 -2 192 7 190 15 186 19 181 20 179 13 183 4 188 -3ZM135 74 142 76 141 83 131 89 123 92 118 90 119 85 124 78ZM120 48 126 49 128 55 127 65 119 70 112 73 108 68 114 58ZM124 32 118 35 113 31 111 25 115 20 121 19 127 21 128 27ZM43 11 45 19 42 24 34 20 28 15 26 7 31 4 37 6ZM215 165 224 169 227 175 226 181 219 185 211 179 206 174 207 167ZM224 42 219 36 219 28 227 25 235 26 240 33 240 42 231 46ZM131 103 136 99 139 103 139 110 136 119 131 124 127 120 126 112ZM123 22 131 27 137 31 133 35 121 33 109 29 106 23 112 21Z"/><path fill="#570600" fill-opacity="0.8" d="M145 86 150 84 154 93 154 102 151 110 146 105 141 100 142 91ZM87 109 91 114 91 120 86 122 79 120 78 114 77 109 82 108ZM147 191 140 188 139 180 144 174 150 170 158 174 160 183 154 189ZM87 26 94 21 97 28 99 36 95 46 89 50 83 47 83 36ZM52 123 47 121 42 118 47 107 55 103 62 103 65 109 60 118ZM143 67 143 75 137 84 128 84 125 78 123 70 131 64 138 63ZM76 73 84 75 82 83 79 88 72 93 67 86 64 78 70 74ZM223 97 217 104 209 106 205 101 206 93 209 85 217 83 223 88ZM114 60 113 56 119 53 126 49 129 53 128 57 125 62 118 63ZM131 86 125 83 121 79 123 74 130 74 137 74 138 79 138 84ZM217 140 210 139 211 133 214 128 220 126 226 130 228 135 225 141ZM106 14 102 6 103 -6 108 -10 114 -12 116 -2 114 8 110 13ZM133 40 142 42 147 46 143 53 136 60 126 59 120 54 123 47ZM150 24 155 21 163 24 168 27 166 31 160 34 151 31 148 28ZM0 155 9 152 15 158 15 167 9 171 1 175 -6 169 -6 160ZM105 98 98 92 103 88 112 86 124 90 127 95 127 101 116 100ZM111 119 119 115 125 117 124 122 120 126 114 128 106 130 108 124Z"/><path fill="#490400" fill-opacity="0.8" d="M48 119 43 129 35 127 29 125 30 114 32 103 40 103 47 106ZM178 156 183 163 187 171 185 176 180 173 176 169 173 162 173 154ZM203 9 198 13 188 12 182 8 185 3 191 1 199 1 203 5ZM206 38 197 45 190 42 191 34 193 25 202 22 211 20 212 29ZM168 109 162 107 158 99 161 95 165 90 172 96 177 103 176 111ZM233 38 230 33 232 29 238 26 245 28 247 33 246 38 240 40ZM60 61 51 55 43 49 43 38 48 30 56 36 64 42 67 54ZM238 13 233 14 229 11 229 5 231 -1 237 -1 241 3 242 9ZM34 8 32 4 37 2 46 2 55 7 53 11 47 12 40 12ZM36 187 30 183 28 175 30 167 38 167 44 171 46 178 42 184ZM221 123 215 119 208 114 207 106 211 102 218 106 225 112 225 119ZM124 75 116 69 113 61 112 53 120 54 127 57 130 65 130 72ZM64 173 60 168 59 163 61 159 66 159 69 164 71 168 69 173ZM88 32 91 26 98 26 101 34 102 41 99 47 93 45 90 39Z"/><path fill="#140300" fill-opacity="0.8" d="M5 0 3 -6 8 -6 15 -5 20 3 21 9 18 12 10 8ZM209 89 204 91 198 89 196 82 199 76 207 74 213 78 213 85ZM222 171 223 165 227 160 233 161 238 164 237 170 235 175 227 176ZM193 36 201 33 209 36 211 41 206 45 198 49 191 45 189 41ZM37 48 40 40 46 35 53 39 58 45 54 53 48 56 41 55ZM192 61 196 69 198 77 192 84 182 84 175 78 177 70 183 64ZM11 126 13 130 13 134 7 137 1 138 -3 135 -1 130 5 127ZM154 57 158 51 167 49 171 54 174 59 170 64 163 68 155 64ZM169 49 166 42 165 34 173 31 180 30 182 37 182 43 177 47ZM178 62 184 63 186 69 184 75 178 82 173 79 168 75 171 67ZM170 64 164 58 163 51 165 42 174 42 181 44 186 52 179 60ZM232 116 234 123 230 133 220 136 212 134 211 127 216 118 225 113ZM199 153 203 157 205 162 203 167 197 167 193 162 190 155 194 151ZM194 104 202 106 207 111 211 119 203 122 195 123 190 117 189 109ZM-0 47 10 44 20 49 29 55 24 60 13 61 2 58 -0 52ZM149 69 147 64 154 64 162 67 169 72 171 77 164 77 155 74ZM64 166 57 169 49 168 46 159 47 151 53 147 60 148 63 157ZM28 131 25 123 31 117 38 111 44 116 47 122 43 130 36 133ZM214 167 212 157 219 155 225 156 230 165 230 174 225 178 219 173ZM66 159 73 156 77 158 80 164 75 172 70 180 66 176 64 169ZM129 16 135 10 140 13 141 24 136 32 131 40 128 34 126 27ZM117 95 108 92 105 85 105 79 111 76 119 78 124 86 123 93ZM130 27 139 28 144 34 143 40 135 42 125 38 120 32 121 26Z"/><path fill="#660800" fill-opacity="0.8" d="M124 81 119 82 112 79 108 72 111 68 114 64 122 69 126 76ZM210 52 203 54 199 52 199 46 205 41 212 37 217 40 218 47ZM159 50 152 51 150 43 150 34 156 34 161 35 164 41 165 50ZM108 124 103 131 96 129 93 123 93 116 99 110 107 112 111 117ZM88 60 90 54 94 51 104 53 112 61 108 66 102 69 92 67ZM100 182 92 182 89 173 86 163 92 160 98 158 102 165 104 174ZM68 59 70 66 65 70 58 72 52 66 51 58 57 55 63 53ZM205 49 197 57 190 52 182 48 186 37 196 34 204 34 210 40ZM93 22 81 18 73 11 74 3 83 -2 93 2 104 9 100 17ZM85 107 85 101 90 96 98 94 100 100 100 105 95 112 88 110ZM91 110 96 111 99 116 101 121 97 125 92 122 87 118 88 114ZM44 92 53 93 61 94 64 103 59 110 51 110 43 108 38 100Z"/><path fill="#2b0100" fill-opacity="0.8" d="M139 113 141 106 148 106 154 110 156 116 153 122 146 122 140 120ZM83 8 84 1 88 -1 95 4 99 12 99 17 97 21 90 16ZM67 172 69 162 75 157 82 159 86 165 87 173 80 178 73 178ZM19 81 18 75 23 68 32 66 36 71 40 77 30 83 23 85ZM212 86 215 81 220 78 227 77 228 83 226 88 222 93 216 91ZM67 31 74 24 79 29 81 37 75 44 70 50 66 45 62 39ZM163 20 159 22 153 17 150 12 149 7 155 8 159 11 163 16ZM202 19 206 25 206 34 199 35 194 34 191 28 190 19 197 16ZM236 47 241 52 243 59 241 67 232 69 224 65 224 56 229 50ZM4 89 2 81 1 74 6 72 12 72 16 79 15 86 11 92ZM138 139 138 146 133 153 126 149 122 145 121 137 128 132 136 131ZM15 1 19 -3 28 2 33 8 33 14 28 16 20 12 14 6ZM29 144 24 145 20 140 20 128 26 119 33 119 36 128 35 139ZM11 103 8 106 3 106 -2 104 -4 98 1 96 5 95 10 98Z"/></g><g filter="url(#halo)" opacity="0.5"><g id="rbe0"><path fill="#2a0700" d="M112 11 120 15 128 18 126 25 118 27 109 29 104 23 107 17ZM66 74 65 78 60 81 53 80 49 77 52 73 57 70 62 72ZM83 58 78 54 75 50 78 45 87 45 94 47 94 52 92 57ZM161 12 157 16 151 14 147 10 149 4 154 2 160 3 163 8ZM151 166 138 168 125 164 116 157 129 151 142 149 154 152 157 159ZM81 122 88 130 87 140 77 144 67 143 61 137 60 128 70 125Z"/><path fill="#660800" d="M67 68 69 63 74 61 79 65 79 70 77 76 72 78 67 74ZM59 68 56 71 51 72 47 68 47 63 51 60 57 59 59 64ZM45 75 48 81 47 86 43 90 35 91 30 85 33 79 37 74ZM97 112 92 104 93 97 97 91 105 90 111 95 111 104 105 108ZM32 121 24 120 23 110 28 104 34 103 41 105 40 113 38 119ZM182.5 33.5 186.3 32.7 189.7 35.0 189.1 38.9 187.5 42.3 183.5 42.9 180.2 40.4 180.2 36.4ZM207.1 29.6 209.5 30.6 211.0 33.2 209.5 36.0 206.4 37.1 203.8 35.4 203.5 32.6 204.4 30.0ZM166.0 106.3 162.0 105.4 158.4 103.6 159.3 100.3 162.6 98.5 166.8 98.4 170.3 100.7 168.7 103.9ZM173.0 125.7 169.7 127.4 165.9 128.6 163.6 125.8 163.6 122.7 165.6 119.8 169.3 120.9 172.9 122.1ZM46 138 37 134 35 126 42 120 51 116 59 122 60 129 55 135ZM52 153 45 156 37 156 30 151 33 144 40 142 48 141 51 147ZM186 125 188 117 196 115 203 123 207 132 205 139 198 141 191 135ZM116 135 109 133 106 127 107 120 113 119 119 119 123 124 122 131ZM230 165 226 169 221 167 217 165 215 159 220 156 225 156 229 159ZM29 4 36 4 43 5 45 10 45 15 37 18 28 16 28 10ZM75 39 67 38 61 35 61 28 67 25 73 24 80 27 79 33ZM124 99 125 93 129 88 136 86 141 90 144 95 140 100 132 100ZM235 16 223 21 211 19 203 12 202 3 215 -1 226 2 235 7ZM193 53 197 46 204 41 210 46 216 52 214 61 205 64 196 62ZM8.9 34.5 8.0 38.5 5.5 41.3 2.7 39.1 1.2 36.0 1.5 31.8 4.4 31.0 7.9 30.0ZM9 96 9 105 6 111 2 112 -0 105 -1 97 2 91 5 90ZM102.5 148.7 105.9 149.6 107.5 151.9 106.6 155.1 102.8 155.7 101.1 152.2ZM225.9 134.1 227.8 132.5 229.8 132.9 231.1 134.7 229.7 136.8 227.5 136.1ZM161 126 165 125 168 131 167 136 165 140 161 140 158 137 158 130ZM174.5 152.9 172.4 149.7 170.4 146.4 173.0 143.8 175.8 141.6 178.0 144.6 179.3 147.8 177.4 150.6ZM84.0 159.5 88.4 159.9 90.3 162.3 89.0 164.6 86.2 166.1 81.7 166.3 79.8 163.7 81.2 161.4ZM212 173 208 176 202 175 198 172 201 168 204 165 209 166 211 169Z"/><path fill="#8f1000" d="M146 57 143 67 138 76 128 72 119 67 122 57 128 51 139 48ZM103 35 107 38 108 43 105 47 99 48 95 44 94 40 98 36ZM116 41 111 43 109 38 109 34 113 32 117 31 121 34 120 40ZM95 65 101 66 105 67 106 70 104 74 98 75 92 72 91 68ZM197.7 34.2 200.6 35.0 203.5 37.0 201.7 39.9 199.0 42.0 195.0 41.6 194.5 38.2 194.0 35.0ZM114.3 6.7 112.9 4.4 113.9 1.6 116.9 1.6 118.8 4.1 117.2 6.8ZM164.4 105.2 166.1 107.8 166.2 110.9 164.4 113.3 162.0 112.6 160.5 110.8 160.1 108.2 161.7 105.9ZM38 156 34 159 29 160 24 156 24 150 29 147 34 147 37 151Z"/><path fill="#cc2000" d="M22.7 16.3 21.2 17.4 19.2 17.5 19.0 15.4 20.1 14.1 22.2 14.1ZM239.5 149.0 237.1 148.4 235.4 146.4 236.4 143.3 238.7 143.2 240.1 145.6Z"/></g></g><use href="#rbe0" filter="url(#bl)"/></g>
<g id="ge0" clip-path="url(#pc)"><g filter="url(#bl)"><rect width="239.7" height="181.0" fill="#000" filter="url(#tge0)"/></g><g filter="url(#halo)" opacity="0.5"><g id="gbe0"><path fill="#041303" d="M112 11 120 15 128 18 126 25 118 27 109 29 104 23 107 17ZM66 74 65 78 60 81 53 80 49 77 52 73 57 70 62 72ZM83 58 78 54 75 50 78 45 87 45 94 47 94 52 92 57ZM161 12 157 16 151 14 147 10 149 4 154 2 160 3 163 8ZM151 166 138 168 125 164 116 157 129 151 142 149 154 152 157 159ZM81 122 88 130 87 140 77 144 67 143 61 137 60 128 70 125Z"/><path fill="#011a02" d="M22.7 16.3 21.2 17.4 19.2 17.5 19.0 15.4 20.1 14.1 22.2 14.1ZM239.5 149.0 237.1 148.4 235.4 146.4 236.4 143.3 238.7 143.2 240.1 145.6Z"/></g></g><use href="#gbe0" filter="url(#bl)"/></g>
<filter id="tre1" x="0" y="0" width="100%" height="100%" color-interpolation-filters="sRGB"><feTurbulence type="fractalNoise" baseFrequency="0.045" numOctaves="3" seed="10"/><feColorMatrix type="matrix" values="0.576 0 0 0 -0.128 0.086 0 0 0 -0.019 0.000 0 0 0 -0.000 0 0 0 0 1"/></filter>
<filter id="tge1" x="0" y="0" width="100%" height="100%" color-interpolation-filters="sRGB"><feTurbulence type="fractalNoise" baseFrequency="0.03" numOctaves="3" seed="60"/><feColorMatrix type="matrix" values="0.012 0 0 0 0.006 0.070 0 0 0 0.035 0.007 0 0 0 0.004 0 0 0 0 1"/></filter>
<g id="re1" clip-path="url(#pc)"><g filter="url(#bl)"><rect width="239.7" height="181.0" fill="#000" filter="url(#tre1)"/><path fill="#140300" fill-opacity="0.8" d="M78 16 84 20 87 25 84 31 79 32 71 32 71 25 73 20ZM223 129 224 135 222 141 216 146 210 144 209 139 211 133 217 129ZM36 169 28 172 21 170 20 166 20 162 28 161 35 161 38 165ZM209 44 205 37 205 26 208 17 213 20 215 29 217 40 214 48ZM101 54 96 47 101 38 108 32 118 32 119 40 120 48 112 55ZM75 51 83 53 80 60 73 68 64 70 58 68 54 63 64 55ZM216 69 208 75 200 75 192 74 196 68 203 62 212 61 219 63ZM194 156 203 156 208 162 207 170 202 175 195 175 190 170 189 163ZM74 130 78 130 84 134 84 140 81 142 77 143 73 138 70 131ZM207 63 207 56 213 50 221 55 227 60 223 67 218 70 209 72ZM198 111 200 106 205 103 213 105 215 112 213 117 207 119 201 116ZM204 94 197 85 193 79 195 76 203 78 211 85 214 92 214 97ZM111 35 116 41 114 46 110 50 102 48 99 40 100 34 105 32ZM182 31 174 31 173 21 173 12 181 9 188 11 192 20 190 30ZM201 91 203 96 201 103 194 108 187 107 185 102 188 95 194 90ZM102 166 103 158 106 151 114 151 118 156 122 163 117 169 109 170ZM168 116 176 113 185 122 186 132 182 138 174 134 165 129 164 120ZM174 127 167 126 162 122 162 115 168 111 176 110 179 116 180 123ZM25 23 33 26 30 30 25 34 16 35 7 32 7 27 15 24ZM76 101 68 95 61 85 63 80 68 79 75 85 81 94 81 101ZM74 160 66 161 60 156 55 148 61 141 69 138 75 145 78 152ZM190 9 188 0 193 -8 202 -10 210 -5 210 4 207 12 198 13ZM41 126 37 130 29 135 23 131 17 126 25 121 34 117 42 121ZM48 9 41 13 35 16 28 11 27 2 34 -3 42 -4 48 1ZM188 134 183 128 183 122 187 120 193 120 198 124 198 130 194 134ZM86 166 82 171 76 171 71 168 67 160 68 152 75 152 81 157ZM119 24 120 28 116 32 110 35 105 32 102 27 108 22 115 20Z"/><path fill="#590600" fill-opacity="0.8" d="M227 158 232 166 233 178 227 183 220 184 215 173 218 162 221 156ZM155 177 152 183 147 186 142 185 139 181 141 175 146 171 151 174ZM51 141 56 138 61 142 63 150 59 157 54 161 51 155 48 148ZM172 74 168 71 167 66 169 59 176 57 180 61 180 66 178 73ZM145 74 151 74 156 79 160 84 159 89 154 89 148 87 144 80ZM70 62 62 59 65 50 71 43 80 41 85 44 87 50 80 57ZM15 39 23 39 28 42 30 48 23 54 15 55 12 51 11 46ZM186 10 190 9 191 15 188 23 184 32 179 30 178 24 182 14ZM56 100 58 107 56 113 52 120 45 120 42 115 44 108 49 101ZM18 31 8 25 6 17 7 12 16 14 25 17 28 25 25 29Z"/><path fill="#460400" fill-opacity="0.8" d="M147 65 143 61 142 54 147 47 154 47 159 52 158 60 153 67ZM203 167 208 161 216 163 218 171 215 179 208 185 202 180 200 173ZM120 118 123 125 119 130 114 129 108 127 106 118 110 111 116 112ZM213 77 220 74 227 79 227 88 222 96 215 98 210 91 209 84ZM79 5 85 11 81 16 72 17 62 13 57 7 60 1 69 -0ZM45 129 39 131 35 126 32 120 38 117 44 115 49 119 48 125ZM74 39 73 45 67 48 60 46 56 39 60 32 67 31 72 34ZM209 53 209 59 208 64 202 66 197 64 193 60 197 55 202 51ZM7 183 0 185 -6 186 -9 182 -6 176 0 173 7 172 9 177ZM149 138 155 139 158 148 158 156 154 161 149 162 144 154 146 144ZM94 107 92 101 98 96 105 96 110 99 109 105 104 109 98 109ZM202 151 205 157 202 164 194 165 187 164 183 158 186 151 194 149ZM59 40 65 43 69 49 65 56 59 58 53 55 51 49 54 45ZM170 144 180 145 189 150 189 156 185 160 177 162 171 156 167 149ZM195 127 198 129 201 135 201 142 198 148 193 146 191 137 192 129ZM90 94 88 88 89 78 96 72 101 75 106 80 103 91 96 95ZM41 95 46 98 51 103 51 113 47 120 41 114 36 110 38 101ZM224 177 216 169 217 164 221 164 228 168 235 174 235 179 233 183ZM197 7 194 -2 196 -7 204 -2 212 7 216 18 210 17 205 17Z"/><path fill="#6c0900" fill-opacity="0.8" d="M53 79 60 78 62 82 58 87 49 90 40 93 40 88 43 82ZM150 23 144 21 138 18 136 10 138 5 144 4 149 10 151 17ZM120 4 125 -2 129 -7 133 -5 137 -1 134 7 128 8 124 8ZM161 1 164 -7 171 -9 177 -5 177 4 174 13 168 13 164 8ZM129 -1 131 4 128 8 123 10 119 5 118 1 119 -5 125 -6ZM41 167 41 159 47 153 54 150 59 154 57 161 53 168 47 168ZM17 33 10 30 1 23 2 17 7 16 14 19 23 25 20 30ZM146 121 138 121 133 119 134 114 143 110 153 105 156 110 154 115ZM161 174 165 172 171 174 171 181 169 188 164 186 159 184 158 178ZM46 80 54 77 61 80 64 84 62 90 55 95 48 91 42 87ZM117 151 109 151 104 143 103 134 109 126 118 126 121 136 120 143ZM231 124 226 118 223 111 227 107 232 106 236 112 241 118 238 124ZM180 15 185 19 189 26 189 35 187 45 181 39 176 32 176 20ZM88 99 86 89 91 81 97 82 100 88 101 96 97 101 92 104ZM241 69 244 72 245 76 242 80 236 80 232 78 230 72 235 68ZM136 76 138 83 140 91 130 91 122 88 118 82 118 75 127 75ZM189 174 184 175 180 173 176 168 178 163 182 163 188 164 189 169ZM166 115 172 114 178 119 175 126 173 134 166 133 161 128 160 120Z"/><path fill="#800c00" fill-opacity="0.8" d="M23 68 30 70 37 74 37 83 29 87 21 87 18 80 17 73ZM20 120 11 119 12 110 15 103 23 100 30 104 31 112 27 119ZM92 50 83 47 79 40 79 31 87 28 96 27 101 35 100 44ZM114 125 107 121 107 114 108 105 116 103 121 110 125 117 121 124ZM181 94 182 100 180 105 175 104 171 102 169 96 172 91 177 92ZM202 128 197 132 191 135 184 130 183 126 182 120 191 119 199 122Z"/><path fill="#330200" fill-opacity="0.8" d="M199 36 205 36 208 40 210 45 205 49 201 49 197 46 197 41ZM84 46 81 55 73 58 69 50 69 40 73 30 80 32 86 36ZM80 104 75 110 66 111 66 101 67 94 74 88 80 91 86 97ZM4 117 12 115 18 120 17 128 11 135 3 136 -2 129 -0 123ZM140 78 147 84 148 93 147 101 140 102 133 94 130 84 135 80ZM60 38 67 39 72 44 74 51 67 54 58 52 53 47 54 41ZM77 78 86 72 94 77 99 88 94 97 87 105 79 100 76 90ZM42 161 44 166 43 171 33 170 21 166 18 161 21 158 30 157ZM186 161 185 173 182 181 176 190 170 183 166 174 171 163 179 160ZM83 116 94 113 105 111 107 119 109 127 98 131 86 132 83 124Z"/></g><g filter="url(#halo)" opacity="0.5"><g id="rbe1"><path fill="#120300" d="M33 58 15 56 10 47 18 39 32 37 44 40 57 47 49 55ZM94 37 83 35 78 29 85 24 94 22 102 25 108 29 105 35ZM116 10 125 12 128 25 126 38 118 47 109 40 105 29 107 15ZM127 77 130 64 135 53 148 53 157 61 158 72 152 84 138 86ZM185 13 207 17 213 28 207 37 192 43 171 40 158 31 163 19ZM40 66 46 71 46 78 42 84 34 83 27 80 26 73 32 68ZM3 94 -1 90 0 85 6 82 12 83 16 87 15 93 9 97Z"/><path fill="#4c0400" d="M141 33 138 38 132 38 127 34 128 27 133 24 138 22 142 28ZM158 37 163 41 161 48 158 53 153 53 150 49 149 41 153 35ZM176 48 172 52 167 55 163 51 161 44 165 38 171 38 174 42ZM153 108 159 110 162 115 164 123 156 126 150 123 146 118 148 112ZM206 104 203 107 199 107 196 104 196 99 198 95 203 94 205 99ZM40 160 40 154 45 149 51 149 55 152 55 157 52 162 47 162Z"/><path fill="#730a00" d="M58 73 58 68 60 65 64 64 67 68 67 74 64 77 60 76ZM26 82 27 86 22 87 15 86 9 83 7 79 14 77 22 79ZM218 161 222 159 226 162 228 166 226 171 222 171 218 170 216 166Z"/><path fill="#b21800" d="M138 102 139 111 134 118 128 115 124 108 126 99 130 93 137 92ZM186 155 198 154 208 158 209 166 201 171 189 172 179 168 181 161ZM90.4 168.8 88.9 165.7 91.3 162.5 96.1 162.3 99.3 164.5 99.2 167.3 97.4 169.5 94.0 169.9ZM122.0 178.1 119.1 178.8 117.3 176.6 118.0 173.7 121.6 174.3 123.2 176.1ZM78 17 79 23 76 27 71 28 67 26 66 21 68 17 73 14ZM103 3 104 12 103 20 94 21 85 21 84 13 84 5 93 3ZM198 96 195 100 191 104 185 102 184 98 183 93 189 91 193 93ZM33 126 38 126 44 128 43 133 41 138 34 139 30 134 29 130Z"/><path fill="#bf1c00" d="M125 7 121 10 114 8 112 5 113 1 118 -1 123 1 128 3ZM168 9 169 11 169 14 163 15 158 14 155 12 158 9 163 9ZM173 10 172 5 176 4 181 6 183 10 182 13 179 16 174 14ZM132 39 134 42 133 46 127 48 123 45 120 42 122 37 128 37ZM107.4 57.0 109.0 60.6 107.4 64.9 103.8 65.6 100.6 63.4 100.4 58.6 102.3 55.2 105.4 53.7ZM187 73 183 71 185 68 189 66 194 67 197 69 197 73 192 74ZM33 167 37 170 34 173 30 174 25 174 24 171 25 168 28 167ZM111 162 115 161 117 167 116 171 113 173 109 173 108 169 107 164Z"/><path fill="#cc2000" d="M186.9 82.4 186.0 86.4 181.0 87.1 178.8 83.5 177.5 80.5 180.0 78.2 183.6 77.2 187.3 78.8ZM42 96 37 94 35 91 37 88 41 86 46 87 47 90 46 94ZM62 86 69 85 70 89 69 94 62 98 54 98 52 94 56 89ZM19 115 26 116 32 118 30 121 25 123 19 124 12 122 16 118ZM143 137 137 136 136 132 138 130 144 128 149 130 150 133 149 135ZM229 137 234 138 236 143 237 148 231 152 225 150 224 144 223 139ZM202 110 204 115 201 119 198 121 194 119 194 114 194 109 199 107ZM237.9 103.7 236.2 107.7 231.5 108.0 229.1 104.3 227.5 100.1 231.0 97.0 235.0 98.1 239.0 99.6ZM6 176 2 178 -0 173 -2 168 1 165 6 164 8 168 9 173ZM30 37 24 36 21 31 24 27 28 23 33 26 38 29 36 34Z"/><path fill="#ff3200" d="M33.9 6.6 36.6 7.0 38.9 9.2 36.9 12.0 33.4 12.2 32.1 9.1ZM13.6 35.1 13.1 32.3 15.8 30.7 18.4 32.3 17.9 35.0 15.8 36.3ZM12.5 71.0 12.0 69.0 13.6 67.4 15.6 68.3 16.0 70.4 14.5 72.2ZM139.2 50.9 142.3 50.9 142.5 53.9 141.0 55.8 138.5 55.5 136.8 53.0ZM118.8 76.6 116.1 75.1 115.1 72.2 117.7 70.4 120.2 71.7 121.6 74.6ZM179.6 47.2 178.0 49.3 175.5 49.4 174.5 47.2 175.3 44.8 177.9 45.2ZM81.4 85.6 83.0 84.0 84.9 85.1 85.1 87.1 83.7 88.8 82.0 87.4ZM86.2 90.6 84.8 91.5 82.8 91.5 82.7 89.4 84.1 87.9 85.7 89.0ZM41.3 81.9 42.4 80.2 43.9 79.2 45.6 80.6 45.0 82.8 43.0 82.8ZM42.9 85.9 43.7 83.7 45.8 83.2 46.5 85.6 45.7 87.5 43.7 88.4ZM32.6 98.9 34.9 97.2 37.5 98.2 37.4 100.8 35.6 102.2 33.5 101.4ZM164.6 37.2 164.3 34.4 167.1 34.2 169.6 35.5 168.8 38.5 166.2 38.8ZM137.0 5.0 134.7 3.5 135.7 1.0 137.8 0.3 139.4 1.7 139.6 4.2ZM113 111 106 118 98 112 98 100 100 88 108 88 115 91 116 102ZM73 110 77 106 83 106 86 111 85 116 81 118 75 119 71 115ZM187.7 136.9 189.5 138.5 189.3 140.9 186.9 141.9 185.2 140.1 185.6 137.9ZM227.6 33.8 229.1 36.1 228.7 39.0 225.6 40.6 222.4 39.4 219.7 37.0 221.8 34.3 224.5 32.5ZM239 26 237 29 233 32 226 30 226 26 227 24 232 22 238 23ZM132.2 154.6 129.4 154.6 127.3 152.8 128.2 150.0 130.9 150.0 132.3 151.9ZM118.7 46.4 121.3 49.5 120.0 54.2 115.3 54.4 112.0 52.5 110.3 49.0 111.1 44.4 115.8 45.0ZM159 59 158 63 157 65 155 64 154 59 155 53 157 52 159 53ZM142 141 138 143 134 142 131 139 131 134 135 132 139 131 142 136ZM181.9 143.7 180.7 141.5 181.9 139.0 184.6 139.3 185.6 141.9 184.3 144.4ZM213 19 217 17 222 18 224 21 223 25 218 26 214 25 212 22ZM223 29 223 35 221 39 216 40 212 38 209 33 212 28 217 27ZM233.9 33.0 233.3 28.9 236.7 26.6 240.1 28.2 240.2 31.6 237.7 33.9ZM171.5 167.9 173.4 165.5 176.0 167.0 176.4 170.2 174.4 172.5 171.8 171.2ZM27.5 139.7 27.3 141.1 26.0 142.1 24.7 140.9 24.6 139.1 26.3 138.7ZM161 2 165 0 169 2 172 6 167 8 164 10 158 9 158 5ZM92 52 83 50 76 48 71 43 77 40 88 42 97 44 99 50ZM91 67 89 61 93 57 98 59 101 64 103 69 99 72 94 72ZM119 107 118 101 120 97 122 95 124 97 125 102 124 109 121 108ZM127.7 114.0 125.6 116.2 122.4 117.8 120.8 114.3 120.0 110.8 122.7 109.1 125.7 107.4 127.5 110.6ZM42.6 97.4 45.2 94.6 48.1 95.7 51.0 97.5 50.5 101.8 48.3 104.4 45.1 105.4 42.9 101.9ZM105 130 104 124 107 119 111 119 115 120 115 126 113 131 109 134ZM117 148 115 161 110 163 106 159 104 146 106 134 111 134 115 136ZM210 30 209 25 211 21 213 17 216 20 217 26 215 31 212 34ZM203.9 18.6 202.4 17.6 202.9 15.6 204.9 14.9 206.2 16.5 205.6 18.3ZM217.8 181.3 216.1 178.6 214.4 175.7 216.9 173.4 219.9 173.6 222.4 175.0 223.3 178.2 220.9 180.4ZM238.3 167.3 239.8 166.4 241.0 168.8 239.9 171.3 238.2 171.9 237.3 169.3Z"/></g></g><use href="#rbe1" filter="url(#bl)"/></g>
<g id="ge1" clip-path="url(#pc)"><g filter="url(#bl)"><rect width="239.7" height="181.0" fill="#000" filter="url(#tge1)"/><path fill="#032e03" fill-opacity="0.8" d="M202 142 207 144 211 146 212 151 208 155 204 154 200 151 201 147ZM86 131 88 126 93 129 98 133 98 140 95 144 88 142 84 136ZM47 54 40 58 33 56 30 52 32 47 38 42 45 44 48 49Z"/><path fill="#074004" fill-opacity="0.8" d="M179 61 185 60 190 64 189 69 186 73 180 72 175 69 175 65ZM-5 162 -6 154 -3 148 5 145 13 149 14 157 11 163 4 163ZM229 60 223 57 224 51 232 47 241 46 243 52 240 57 235 61Z"/><path fill="#021f02" fill-opacity="0.8" d="M198 57 195 60 188 64 183 62 179 59 181 54 189 52 197 52ZM134 67 138 75 137 84 136 92 131 90 126 84 127 74 129 67Z"/></g><g filter="url(#halo)" opacity="0.5"><g id="gbe1"><path fill="#041303" d="M33 58 15 56 10 47 18 39 32 37 44 40 57 47 49 55ZM94 37 83 35 78 29 85 24 94 22 102 25 108 29 105 35ZM116 10 125 12 128 25 126 38 118 47 109 40 105 29 107 15ZM127 77 130 64 135 53 148 53 157 61 158 72 152 84 138 86ZM185 13 207 17 213 28 207 37 192 43 171 40 158 31 163 19ZM40 66 46 71 46 78 42 84 34 83 27 80 26 73 32 68ZM3 94 -1 90 0 85 6 82 12 83 16 87 15 93 9 97Z"/><path fill="#011a02" d="M33.9 6.6 36.6 7.0 38.9 9.2 36.9 12.0 33.4 12.2 32.1 9.1ZM13.6 35.1 13.1 32.3 15.8 30.7 18.4 32.3 17.9 35.0 15.8 36.3ZM12.5 71.0 12.0 69.0 13.6 67.4 15.6 68.3 16.0 70.4 14.5 72.2ZM139.2 50.9 142.3 50.9 142.5 53.9 141.0 55.8 138.5 55.5 136.8 53.0ZM118.8 76.6 116.1 75.1 115.1 72.2 117.7 70.4 120.2 71.7 121.6 74.6ZM179.6 47.2 178.0 49.3 175.5 49.4 174.5 47.2 175.3 44.8 177.9 45.2ZM81.4 85.6 83.0 84.0 84.9 85.1 85.1 87.1 83.7 88.8 82.0 87.4ZM86.2 90.6 84.8 91.5 82.8 91.5 82.7 89.4 84.1 87.9 85.7 89.0ZM41.3 81.9 42.4 80.2 43.9 79.2 45.6 80.6 45.0 82.8 43.0 82.8ZM42.9 85.9 43.7 83.7 45.8 83.2 46.5 85.6 45.7 87.5 43.7 88.4ZM32.6 98.9 34.9 97.2 37.5 98.2 37.4 100.8 35.6 102.2 33.5 101.4ZM164.6 37.2 164.3 34.4 167.1 34.2 169.6 35.5 168.8 38.5 166.2 38.8ZM137.0 5.0 134.7 3.5 135.7 1.0 137.8 0.3 139.4 1.7 139.6 4.2ZM113 111 106 118 98 112 98 100 100 88 108 88 115 91 116 102ZM73 110 77 106 83 106 86 111 85 116 81 118 75 119 71 115ZM187.7 136.9 189.5 138.5 189.3 140.9 186.9 141.9 185.2 140.1 185.6 137.9ZM227.6 33.8 229.1 36.1 228.7 39.0 225.6 40.6 222.4 39.4 219.7 37.0 221.8 34.3 224.5 32.5ZM239 26 237 29 233 32 226 30 226 26 227 24 232 22 238 23ZM132.2 154.6 129.4 154.6 127.3 152.8 128.2 150.0 130.9 150.0 132.3 151.9Z"/><path fill="#074204" d="M186.9 82.4 186.0 86.4 181.0 87.1 178.8 83.5 177.5 80.5 180.0 78.2 183.6 77.2 187.3 78.8ZM42 96 37 94 35 91 37 88 41 86 46 87 47 90 46 94ZM62 86 69 85 70 89 69 94 62 98 54 98 52 94 56 89ZM19 115 26 116 32 118 30 121 25 123 19 124 12 122 16 118ZM143 137 137 136 136 132 138 130 144 128 149 130 150 133 149 135ZM229 137 234 138 236 143 237 148 231 152 225 150 224 144 223 139ZM202 110 204 115 201 119 198 121 194 119 194 114 194 109 199 107ZM237.9 103.7 236.2 107.7 231.5 108.0 229.1 104.3 227.5 100.1 231.0 97.0 235.0 98.1 239.0 99.6ZM6 176 2 178 -0 173 -2 168 1 165 6 164 8 168 9 173ZM30 37 24 36 21 31 24 27 28 23 33 26 38 29 36 34Z"/><path fill="#177808" d="M141 33 138 38 132 38 127 34 128 27 133 24 138 22 142 28ZM158 37 163 41 161 48 158 53 153 53 150 49 149 41 153 35ZM176 48 172 52 167 55 163 51 161 44 165 38 171 38 174 42ZM153 108 159 110 162 115 164 123 156 126 150 123 146 118 148 112ZM206 104 203 107 199 107 196 104 196 99 198 95 203 94 205 99ZM40 160 40 154 45 149 51 149 55 152 55 157 52 162 47 162ZM118.7 46.4 121.3 49.5 120.0 54.2 115.3 54.4 112.0 52.5 110.3 49.0 111.1 44.4 115.8 45.0ZM159 59 158 63 157 65 155 64 154 59 155 53 157 52 159 53ZM142 141 138 143 134 142 131 139 131 134 135 132 139 131 142 136ZM181.9 143.7 180.7 141.5 181.9 139.0 184.6 139.3 185.6 141.9 184.3 144.4ZM213 19 217 17 222 18 224 21 223 25 218 26 214 25 212 22ZM223 29 223 35 221 39 216 40 212 38 209 33 212 28 217 27ZM233.9 33.0 233.3 28.9 236.7 26.6 240.1 28.2 240.2 31.6 237.7 33.9ZM171.5 167.9 173.4 165.5 176.0 167.0 176.4 170.2 174.4 172.5 171.8 171.2ZM27.5 139.7 27.3 141.1 26.0 142.1 24.7 140.9 24.6 139.1 26.3 138.7Z"/><path fill="#33b20b" d="M125 7 121 10 114 8 112 5 113 1 118 -1 123 1 128 3ZM168 9 169 11 169 14 163 15 158 14 155 12 158 9 163 9ZM173 10 172 5 176 4 181 6 183 10 182 13 179 16 174 14ZM132 39 134 42 133 46 127 48 123 45 120 42 122 37 128 37ZM107.4 57.0 109.0 60.6 107.4 64.9 103.8 65.6 100.6 63.4 100.4 58.6 102.3 55.2 105.4 53.7ZM187 73 183 71 185 68 189 66 194 67 197 69 197 73 192 74ZM33 167 37 170 34 173 30 174 25 174 24 171 25 168 28 167ZM111 162 115 161 117 167 116 171 113 173 109 173 108 169 107 164Z"/><path fill="#69ff10" d="M58 73 58 68 60 65 64 64 67 68 67 74 64 77 60 76ZM26 82 27 86 22 87 15 86 9 83 7 79 14 77 22 79ZM218 161 222 159 226 162 228 166 226 171 222 171 218 170 216 166ZM161 2 165 0 169 2 172 6 167 8 164 10 158 9 158 5ZM92 52 83 50 76 48 71 43 77 40 88 42 97 44 99 50ZM91 67 89 61 93 57 98 59 101 64 103 69 99 72 94 72ZM119 107 118 101 120 97 122 95 124 97 125 102 124 109 121 108ZM127.7 114.0 125.6 116.2 122.4 117.8 120.8 114.3 120.0 110.8 122.7 109.1 125.7 107.4 127.5 110.6ZM42.6 97.4 45.2 94.6 48.1 95.7 51.0 97.5 50.5 101.8 48.3 104.4 45.1 105.4 42.9 101.9ZM105 130 104 124 107 119 111 119 115 120 115 126 113 131 109 134ZM117 148 115 161 110 163 106 159 104 146 106 134 111 134 115 136ZM210 30 209 25 211 21 213 17 216 20 217 26 215 31 212 34ZM203.9 18.6 202.4 17.6 202.9 15.6 204.9 14.9 206.2 16.5 205.6 18.3ZM217.8 181.3 216.1 178.6 214.4 175.7 216.9 173.4 219.9 173.6 222.4 175.0 223.3 178.2 220.9 180.4ZM238.3 167.3 239.8 166.4 241.0 168.8 239.9 171.3 238.2 171.9 237.3 169.3Z"/></g></g><use href="#gbe1" filter="url(#bl)"/></g>
<filter id="tre2" x="0" y="0" width="100%" height="100%" color-interpolation-filters="sRGB"><feTurbulence type="fractalNoise" baseFrequency="0.045" numOctaves="3" seed="11"/><feColorMatrix type="matrix" values="0.360 0 0 0 -0.080 0.054 0 0 0 -0.012 0.000 0 0 0 -0.000 0 0 0 0 1"/></filter>
<filter id="tge2" x="0" y="0" width="100%" height="100%" color-interpolation-filters="sRGB"><feTurbulence type="fractalNoise" baseFrequency="0.03" numOctaves="3" seed="61"/><feColorMatrix type="matrix" values="0.013 0 0 0 0.006 0.075 0 0 0 0.037 0.007 0 0 0 0.004 0 0 0 0 1"/></filter>
<g id="re2" clip-path="url(#pc)"><g filter="url(#bl)"><rect width="239.7" height="181.0" fill="#000" filter="url(#tre2)"/><path fill="#6b0900" fill-opacity="0.8" d="M107 32 103 39 96 41 90 39 86 34 86 27 94 26 102 26ZM54 30 61 30 62 33 58 39 50 45 41 48 41 43 45 36ZM218 56 209 55 200 46 199 37 199 29 207 27 215 37 218 46ZM138 60 131 59 126 52 131 46 137 41 145 43 148 51 143 57ZM153 138 153 146 146 149 140 151 133 149 136 142 139 136 146 136ZM83 18 88 13 92 17 95 23 93 32 86 33 82 31 79 25ZM198 -6 202 0 204 6 201 11 193 11 189 5 186 -1 191 -5ZM194 81 191 87 184 85 179 79 181 73 185 69 191 73 195 77ZM204 97 200 100 194 98 189 91 189 84 193 80 200 82 204 91ZM163 -2 166 -8 173 -8 179 -2 180 5 175 10 169 9 165 4ZM-2 177 -3 170 1 164 9 162 17 167 19 175 12 179 5 182ZM214 78 218 76 225 79 229 87 228 91 224 91 218 89 213 82ZM99 166 100 171 97 177 90 181 83 182 82 176 85 170 92 165ZM96 31 103 30 109 31 112 37 108 44 102 48 95 44 94 38ZM39 20 43 14 48 11 52 16 54 24 49 33 44 33 40 29Z"/><path fill="#140300" fill-opacity="0.8" d="M205 75 213 75 221 79 221 85 216 89 208 88 202 84 199 79ZM108 33 106 40 100 42 94 37 93 28 97 22 103 21 108 25ZM181 43 183 53 179 65 174 68 171 67 169 58 172 48 176 44ZM168 41 168 32 173 25 180 26 187 31 183 41 178 46 172 47ZM184 103 186 97 190 92 196 93 200 98 200 106 195 110 188 110ZM91 156 94 146 103 150 110 157 111 168 103 171 95 175 89 165ZM97 106 104 109 107 116 103 123 96 125 90 121 88 115 90 108ZM125 98 125 104 123 110 112 109 104 107 97 100 105 96 115 94ZM97 93 92 100 84 98 80 91 81 84 87 80 94 81 100 86ZM166 156 170 161 166 171 155 172 147 172 143 165 149 155 161 150ZM67 80 73 80 78 84 74 91 68 97 61 95 58 91 60 84ZM6 97 2 93 2 87 6 83 13 82 18 88 18 95 12 98ZM181 22 187 31 185 38 181 42 174 36 168 29 166 20 173 19ZM175 23 182 23 186 27 189 33 185 38 179 40 175 35 172 29ZM210 19 209 28 207 35 201 36 194 35 196 27 196 18 203 19ZM139 105 146 106 149 111 146 119 139 123 132 123 130 118 133 112ZM157 -2 162 1 165 9 164 15 161 19 155 13 151 5 151 -2Z"/><path fill="#490400" fill-opacity="0.8" d="M228 85 226 96 216 99 210 96 207 88 212 80 218 76 226 76ZM5 21 1 20 -2 16 0 11 6 9 10 12 15 16 11 21ZM116 104 111 97 114 86 122 83 130 79 133 88 129 97 124 103ZM197 1 194 4 189 7 186 4 184 -0 185 -5 190 -6 195 -4ZM158 98 167 98 169 108 169 117 160 120 153 116 148 110 150 102ZM181 15 187 7 195 5 193 14 189 22 182 30 178 27 176 22ZM114 3 123 1 128 4 128 11 118 18 109 21 102 19 105 10Z"/><path fill="#5a0600" fill-opacity="0.8" d="M33 164 33 154 37 150 44 155 49 164 49 173 45 175 38 174ZM94 27 95 35 92 42 83 42 78 35 76 28 80 22 89 19ZM115 21 110 23 105 24 103 21 105 16 109 14 114 14 117 16ZM180 27 177 18 182 12 189 8 194 17 200 26 193 31 187 31ZM235 40 238 43 238 48 230 50 224 49 221 46 224 41 230 37ZM70 125 72 119 80 118 85 124 87 130 86 137 78 135 70 132ZM126 87 133 87 134 94 132 101 125 104 118 101 116 94 120 88Z"/><path fill="#260100" fill-opacity="0.8" d="M32 23 25 27 19 20 14 11 18 3 25 0 31 8 34 15ZM192 142 195 135 204 133 213 135 216 142 209 148 202 149 194 148ZM129 96 136 95 144 96 145 104 139 108 133 110 127 108 126 102ZM161 88 163 94 161 100 156 102 151 101 146 96 147 89 154 86ZM190 168 186 160 186 151 193 144 201 147 204 154 206 162 199 167ZM90 123 94 120 99 124 103 129 106 135 101 136 97 136 93 130ZM-1 47 2 41 6 41 9 49 11 59 7 63 3 62 -1 56ZM146 53 138 50 138 42 141 37 147 35 151 41 156 47 152 52Z"/><path fill="#370200" fill-opacity="0.8" d="M129 44 134 48 138 56 141 65 138 68 133 66 128 58 127 50ZM93 109 92 102 95 95 102 92 108 96 111 103 107 110 100 114ZM87 111 94 113 98 119 95 125 87 126 81 123 77 117 82 113ZM194 79 192 74 195 69 201 67 204 71 206 76 202 81 197 83ZM228 168 224 172 217 176 214 170 214 162 219 157 225 154 230 159ZM2 133 9 136 12 141 11 148 5 151 -2 149 -6 143 -3 136Z"/></g><g filter="url(#halo)" opacity="0.5"><g id="rbe2"><path fill="#120300" d="M136 44 108 49 86 41 79 30 89 20 110 17 131 21 139 31ZM225 45 232 52 233 62 217 68 204 62 195 55 194 45 211 42ZM148 144 158 140 166 146 173 152 169 161 158 163 149 159 143 152ZM88 84 83 91 78 97 73 93 68 86 70 77 77 74 84 75Z"/><path fill="#260100" d="M163 7 165 12 164 19 157 21 152 16 149 11 151 4 158 3Z"/><path fill="#4c0400" d="M226.1 112.0 223.0 109.6 222.9 105.8 225.2 103.0 228.9 101.6 233.2 103.8 232.9 108.5 230.1 111.6ZM210 102 205 105 201 106 196 104 194 100 199 97 203 97 207 98ZM70 161 68 168 65 173 61 170 60 162 61 156 64 152 69 152ZM186 166 187 161 191 158 195 158 200 160 199 165 197 170 191 169ZM18 87 15 96 9 100 3 94 3 84 5 74 11 71 15 78Z"/><path fill="#730a00" d="M179.1 12.4 182.4 13.6 183.4 17.6 179.9 19.9 177.0 17.6 176.4 14.5ZM16 68 10 65 6 61 7 54 11 50 17 51 20 56 20 62ZM77 82 71 83 68 78 67 74 70 70 75 69 79 72 79 77ZM106 103 102 102 100 99 99 94 100 89 105 90 108 92 108 98ZM89 101 93 103 97 107 94 112 90 115 86 112 81 108 84 103ZM67.7 128.8 68.5 126.4 70.6 124.8 73.5 124.9 75.3 126.8 75.7 129.4 73.3 131.6 69.8 131.0ZM81.3 136.5 79.1 139.6 75.8 140.6 73.0 139.0 71.9 136.1 72.2 132.0 76.2 131.5 80.0 132.6ZM220 140 217 147 213 150 209 145 207 137 210 132 214 128 219 132ZM21 152 18 149 17 143 21 140 24 142 26 145 27 149 24 152ZM115 156 117 158 118 164 117 169 115 172 113 170 111 164 112 158ZM194 168 204 169 214 171 217 176 215 180 204 180 196 176 191 172Z"/><path fill="#b21800" d="M93.6 9.5 95.2 12.4 94.4 16.4 90.4 16.4 87.2 15.2 85.6 11.9 87.7 8.8 90.9 6.8ZM128.3 50.1 125.0 50.1 123.6 47.6 122.2 44.6 124.6 42.0 128.2 41.8 129.7 44.8 130.4 47.7ZM35.1 150.8 30.7 151.6 26.4 149.7 27.1 145.2 28.8 142.0 32.3 141.6 36.9 142.2 37.3 146.9ZM107.0 170.2 103.4 170.4 101.4 168.3 102.2 165.5 105.9 165.1 108.0 167.4Z"/><path fill="#bf1c00" d="M155 50 151 48 152 43 154 38 159 39 164 42 164 48 159 51ZM66 122 69 127 65 134 57 136 49 138 48 132 49 126 58 121Z"/><path fill="#cc2000" d="M145 84 145 90 144 95 141 98 138 96 136 90 138 85 141 81ZM14 101 17 97 23 97 29 99 27 104 24 106 18 108 12 105ZM133 138 140 133 146 134 153 138 152 148 148 157 140 156 137 147ZM177 146 175 140 174 135 178 131 183 129 188 134 187 141 183 146Z"/><path fill="#ff3200" d="M74.1 16.3 69.7 15.7 68.5 11.3 71.7 9.0 75.0 9.5 77.2 13.0ZM100.8 14.9 103.9 15.6 104.6 18.4 103.3 21.6 99.7 20.8 99.1 17.5ZM6.7 30.4 3.8 31.0 2.8 28.7 3.2 26.7 5.4 25.5 7.0 27.7ZM170.1 0.2 170.8 2.1 169.7 4.1 167.7 3.3 166.4 1.5 168.0 -0.3ZM215 47 206 49 201 45 197 41 200 37 207 36 214 37 218 42ZM186.5 23.1 187.0 27.5 186.2 31.6 183.6 33.7 181.4 30.8 179.9 27.2 181.4 23.5 183.8 20.9ZM89.5 42.4 88.6 40.1 90.2 38.5 92.5 38.4 93.7 40.7 92.0 42.8ZM127.7 52.4 126.6 55.5 125.0 57.9 121.9 57.8 120.5 55.3 119.0 52.2 121.8 50.1 124.9 50.7ZM99.8 68.8 103.1 67.0 106.7 68.4 107.7 72.3 106.3 75.8 103.2 77.3 100.5 75.4 99.7 72.4ZM187.7 72.4 190.1 73.5 191.8 74.9 190.6 76.5 188.2 77.1 185.0 77.1 184.0 75.2 185.1 73.6ZM125.3 87.6 127.8 89.1 128.3 91.5 125.8 92.6 123.3 91.6 123.1 89.4ZM14.5 124.4 12.5 122.3 12.4 118.7 16.5 118.4 18.8 120.9 18.1 124.1ZM122.5 113.4 123.0 116.2 120.2 116.8 118.5 115.3 117.7 112.5 120.6 111.9ZM158.6 115.3 158.4 117.8 155.8 119.6 153.5 117.5 152.9 114.5 156.3 113.5ZM68.2 131.9 67.8 134.6 65.1 135.0 63.2 133.3 63.7 130.7 66.3 130.2ZM131.6 128.7 133.8 127.1 135.8 128.7 136.0 131.2 133.8 132.4 131.5 131.3ZM94.6 149.4 92.6 152.1 89.5 152.5 87.6 149.8 89.1 146.7 92.4 146.8ZM42.4 163.9 38.6 163.4 37.3 160.2 39.0 157.5 42.8 156.8 43.9 160.5ZM233.3 163.1 231.3 161.1 231.7 158.3 234.5 157.8 236.4 159.6 236.3 162.5ZM177.0 166.3 174.1 168.1 171.8 166.0 171.2 163.5 173.8 161.7 176.2 163.6ZM84.3 160.9 83.5 162.9 81.6 163.4 80.0 162.1 80.5 160.0 82.8 159.0ZM152.9 170.9 155.4 169.3 157.7 170.6 157.7 173.0 156.1 175.3 153.7 173.6ZM56.8 3.9 57.4 1.2 59.6 -0.4 61.8 1.3 62.6 4.1 59.6 4.7ZM43 19 43 13 48 10 53 14 57 17 58 23 53 26 46 25ZM199 33 201 39 195 43 188 44 182 40 181 34 187 30 194 30ZM7.6 61.5 3.8 59.9 4.6 56.4 6.5 53.6 10.3 54.9 10.6 58.8ZM45.3 56.4 44.6 60.2 41.3 60.7 38.0 59.6 39.4 56.4 42.0 54.5ZM125.2 72.8 122.6 75.1 119.4 76.4 116.5 74.3 116.9 71.0 118.0 67.9 121.5 67.0 124.2 69.4ZM111 79 113 75 117 74 121 77 121 81 118 83 114 85 111 82ZM205.4 82.2 202.8 79.8 205.3 77.2 208.3 76.9 210.7 79.6 208.8 82.9ZM207 67 211 65 217 67 217 70 217 74 212 76 207 74 204 71ZM127.5 95.0 132.0 94.2 134.8 97.7 133.1 101.5 129.3 102.1 126.3 99.4ZM133.5 104.6 136.9 104.6 140.2 105.2 139.8 108.0 139.3 110.6 136.1 110.6 133.2 109.8 132.0 107.2ZM214 106 209 105 208 97 210 91 214 89 219 90 221 98 220 107ZM27 112 26 105 29 101 33 98 38 101 38 106 38 113 33 114ZM43 128 38 125 36 121 40 117 43 114 47 116 49 121 47 126ZM197.1 120.6 196.4 117.0 197.5 114.2 201.1 113.5 202.7 117.0 200.8 119.9ZM45 167 48 165 51 162 56 164 58 166 58 169 53 170 47 171ZM200.8 153.7 204.4 153.8 208.2 154.9 209.1 158.3 205.3 159.9 201.5 161.0 197.6 159.2 198.6 155.9ZM212 164 216 162 221 160 223 165 225 172 220 175 215 174 211 171ZM27.6 3.0 30.1 1.1 32.9 0.4 34.9 2.1 36.3 4.2 34.9 6.8 31.6 7.0 28.8 5.7ZM23.1 7.6 22.9 10.3 20.8 12.1 18.3 10.6 18.6 8.0 20.6 5.8ZM19.5 14.8 19.0 18.1 15.6 19.3 13.3 16.9 11.8 14.4 13.5 12.0 16.0 9.9 19.4 11.3ZM17.7 21.7 17.8 18.9 18.9 16.7 20.6 16.3 21.0 19.7 21.6 23.0 20.2 25.4 18.4 24.5ZM193 10 187 15 180 12 173 9 174 2 181 -0 189 -2 195 3ZM187.7 17.6 184.9 18.1 183.2 15.3 182.5 11.7 184.4 8.8 187.2 9.0 190.0 10.8 190.5 15.4ZM139 42 136 38 134 33 139 29 144 31 148 33 148 38 145 42ZM45.9 64.2 49.4 65.2 48.8 68.3 45.5 69.6 42.3 68.0 42.4 64.9ZM64 51 72 55 75 65 76 73 73 82 66 77 62 67 60 57ZM240.4 51.7 240.2 56.2 239.7 60.7 237.4 60.5 235.7 58.3 235.1 54.5 236.2 51.0 238.2 50.3ZM122 77 126 71 132 67 142 68 146 74 144 81 135 82 128 81ZM91 89 93 84 98 81 105 80 112 84 112 90 105 94 97 93ZM91.6 95.8 93.0 92.9 95.8 93.8 97.0 96.4 95.2 98.3 93.0 98.0ZM192.2 75.7 193.9 73.3 196.3 73.1 197.7 76.3 195.9 79.1 193.7 78.4ZM231 72 235 72 237 78 234 83 230 84 226 82 225 77 227 72ZM152 89 152 84 156 80 162 80 166 84 164 88 161 92 156 92ZM47.8 108.0 45.4 109.9 42.4 109.7 41.6 106.0 44.1 104.0 47.3 104.3ZM59 99 63 97 67 100 68 106 66 112 62 113 59 110 58 104ZM109 117 103 117 97 114 97 109 101 104 107 105 110 108 111 112ZM62.8 114.9 64.8 112.0 67.8 109.6 70.8 112.3 71.5 116.2 70.4 120.4 66.6 120.1 63.3 119.0ZM166.5 127.5 163.7 125.2 163.4 120.7 165.5 117.3 168.7 117.3 170.8 119.8 172.4 123.9 169.4 126.4ZM104 129 98 133 90 133 87 129 91 125 96 121 102 122 107 124ZM60.1 139.6 62.3 137.9 65.0 139.0 65.4 142.0 62.9 143.0 60.5 142.3ZM131.0 138.3 129.1 141.6 125.7 140.5 124.4 137.1 126.3 133.4 130.0 134.6ZM157.9 137.4 162.0 137.1 162.9 140.8 161.4 143.9 157.3 144.7 156.4 140.6ZM70.7 169.9 68.3 167.3 68.6 163.5 71.6 160.6 75.7 161.5 76.9 165.0 76.9 168.3 74.4 171.3ZM142 158 146 159 149 161 150 165 149 170 145 171 141 168 139 163ZM192.7 174.5 192.7 177.3 191.8 179.7 188.7 181.1 186.2 179.1 185.8 176.7 186.9 174.8 189.6 173.0ZM68.3 175.2 68.9 178.3 67.7 181.1 64.3 180.5 62.6 178.1 64.7 175.9Z"/></g></g><use href="#rbe2" filter="url(#bl)"/></g>
<g id="ge2" clip-path="url(#pc)"><g filter="url(#bl)"><rect width="239.7" height="181.0" fill="#000" filter="url(#tge2)"/><path fill="#032e03" fill-opacity="0.8" d="M93 37 84 35 84 29 83 23 91 21 98 26 102 31 99 35ZM230 8 230 4 231 -0 235 -2 239 1 240 5 238 9 234 12ZM47 139 41 142 35 142 31 137 34 131 39 127 45 129 49 133ZM161 108 165 112 165 117 160 121 155 121 150 119 150 114 156 111Z"/><path fill="#021f02" fill-opacity="0.8" d="M13 150 24 150 23 157 22 162 14 165 7 163 3 159 3 152ZM156 91 152 89 148 87 150 83 154 79 160 79 163 83 161 88Z"/><path fill="#074004" fill-opacity="0.8" d="M22 112 27 113 28 120 23 126 18 129 12 130 12 124 15 117ZM51 123 55 125 56 129 56 135 51 135 47 133 44 129 45 123Z"/></g><g filter="url(#halo)" opacity="0.5"><g id="gbe2"><path fill="#041303" d="M136 44 108 49 86 41 79 30 89 20 110 17 131 21 139 31ZM225 45 232 52 233 62 217 68 204 62 195 55 194 45 211 42ZM148 144 158 140 166 146 173 152 169 161 158 163 149 159 143 152ZM88 84 83 91 78 97 73 93 68 86 70 77 77 74 84 75Z"/><path fill="#011a02" d="M74.1 16.3 69.7 15.7 68.5 11.3 71.7 9.0 75.0 9.5 77.2 13.0ZM100.8 14.9 103.9 15.6 104.6 18.4 103.3 21.6 99.7 20.8 99.1 17.5ZM6.7 30.4 3.8 31.0 2.8 28.7 3.2 26.7 5.4 25.5 7.0 27.7ZM170.1 0.2 170.8 2.1 169.7 4.1 167.7 3.3 166.4 1.5 168.0 -0.3ZM215 47 206 49 201 45 197 41 200 37 207 36 214 37 218 42ZM186.5 23.1 187.0 27.5 186.2 31.6 183.6 33.7 181.4 30.8 179.9 27.2 181.4 23.5 183.8 20.9ZM89.5 42.4 88.6 40.1 90.2 38.5 92.5 38.4 93.7 40.7 92.0 42.8ZM127.7 52.4 126.6 55.5 125.0 57.9 121.9 57.8 120.5 55.3 119.0 52.2 121.8 50.1 124.9 50.7ZM99.8 68.8 103.1 67.0 106.7 68.4 107.7 72.3 106.3 75.8 103.2 77.3 100.5 75.4 99.7 72.4ZM187.7 72.4 190.1 73.5 191.8 74.9 190.6 76.5 188.2 77.1 185.0 77.1 184.0 75.2 185.1 73.6ZM125.3 87.6 127.8 89.1 128.3 91.5 125.8 92.6 123.3 91.6 123.1 89.4ZM14.5 124.4 12.5 122.3 12.4 118.7 16.5 118.4 18.8 120.9 18.1 124.1ZM122.5 113.4 123.0 116.2 120.2 116.8 118.5 115.3 117.7 112.5 120.6 111.9ZM158.6 115.3 158.4 117.8 155.8 119.6 153.5 117.5 152.9 114.5 156.3 113.5ZM68.2 131.9 67.8 134.6 65.1 135.0 63.2 133.3 63.7 130.7 66.3 130.2ZM131.6 128.7 133.8 127.1 135.8 128.7 136.0 131.2 133.8 132.4 131.5 131.3ZM94.6 149.4 92.6 152.1 89.5 152.5 87.6 149.8 89.1 146.7 92.4 146.8ZM42.4 163.9 38.6 163.4 37.3 160.2 39.0 157.5 42.8 156.8 43.9 160.5ZM233.3 163.1 231.3 161.1 231.7 158.3 234.5 157.8 236.4 159.6 236.3 162.5ZM177.0 166.3 174.1 168.1 171.8 166.0 171.2 163.5 173.8 161.7 176.2 163.6ZM84.3 160.9 83.5 162.9 81.6 163.4 80.0 162.1 80.5 160.0 82.8 159.0ZM152.9 170.9 155.4 169.3 157.7 170.6 157.7 173.0 156.1 175.3 153.7 173.6Z"/><path fill="#074204" d="M145 84 145 90 144 95 141 98 138 96 136 90 138 85 141 81ZM14 101 17 97 23 97 29 99 27 104 24 106 18 108 12 105ZM133 138 140 133 146 134 153 138 152 148 148 157 140 156 137 147ZM177 146 175 140 174 135 178 131 183 129 188 134 187 141 183 146Z"/><path fill="#177808" d="M226.1 112.0 223.0 109.6 222.9 105.8 225.2 103.0 228.9 101.6 233.2 103.8 232.9 108.5 230.1 111.6ZM210 102 205 105 201 106 196 104 194 100 199 97 203 97 207 98ZM70 161 68 168 65 173 61 170 60 162 61 156 64 152 69 152ZM186 166 187 161 191 158 195 158 200 160 199 165 197 170 191 169ZM18 87 15 96 9 100 3 94 3 84 5 74 11 71 15 78ZM56.8 3.9 57.4 1.2 59.6 -0.4 61.8 1.3 62.6 4.1 59.6 4.7ZM43 19 43 13 48 10 53 14 57 17 58 23 53 26 46 25ZM199 33 201 39 195 43 188 44 182 40 181 34 187 30 194 30ZM7.6 61.5 3.8 59.9 4.6 56.4 6.5 53.6 10.3 54.9 10.6 58.8ZM45.3 56.4 44.6 60.2 41.3 60.7 38.0 59.6 39.4 56.4 42.0 54.5ZM125.2 72.8 122.6 75.1 119.4 76.4 116.5 74.3 116.9 71.0 118.0 67.9 121.5 67.0 124.2 69.4ZM111 79 113 75 117 74 121 77 121 81 118 83 114 85 111 82ZM205.4 82.2 202.8 79.8 205.3 77.2 208.3 76.9 210.7 79.6 208.8 82.9ZM207 67 211 65 217 67 217 70 217 74 212 76 207 74 204 71ZM127.5 95.0 132.0 94.2 134.8 97.7 133.1 101.5 129.3 102.1 126.3 99.4ZM133.5 104.6 136.9 104.6 140.2 105.2 139.8 108.0 139.3 110.6 136.1 110.6 133.2 109.8 132.0 107.2ZM214 106 209 105 208 97 210 91 214 89 219 90 221 98 220 107ZM27 112 26 105 29 101 33 98 38 101 38 106 38 113 33 114ZM43 128 38 125 36 121 40 117 43 114 47 116 49 121 47 126ZM197.1 120.6 196.4 117.0 197.5 114.2 201.1 113.5 202.7 117.0 200.8 119.9ZM45 167 48 165 51 162 56 164 58 166 58 169 53 170 47 171ZM200.8 153.7 204.4 153.8 208.2 154.9 209.1 158.3 205.3 159.9 201.5 161.0 197.6 159.2 198.6 155.9ZM212 164 216 162 221 160 223 165 225 172 220 175 215 174 211 171Z"/><path fill="#33b20b" d="M155 50 151 48 152 43 154 38 159 39 164 42 164 48 159 51ZM66 122 69 127 65 134 57 136 49 138 48 132 49 126 58 121Z"/><path fill="#69ff10" d="M163 7 165 12 164 19 157 21 152 16 149 11 151 4 158 3ZM179.1 12.4 182.4 13.6 183.4 17.6 179.9 19.9 177.0 17.6 176.4 14.5ZM16 68 10 65 6 61 7 54 11 50 17 51 20 56 20 62ZM77 82 71 83 68 78 67 74 70 70 75 69 79 72 79 77ZM106 103 102 102 100 99 99 94 100 89 105 90 108 92 108 98ZM89 101 93 103 97 107 94 112 90 115 86 112 81 108 84 103ZM67.7 128.8 68.5 126.4 70.6 124.8 73.5 124.9 75.3 126.8 75.7 129.4 73.3 131.6 69.8 131.0ZM81.3 136.5 79.1 139.6 75.8 140.6 73.0 139.0 71.9 136.1 72.2 132.0 76.2 131.5 80.0 132.6ZM220 140 217 147 213 150 209 145 207 137 210 132 214 128 219 132ZM21 152 18 149 17 143 21 140 24 142 26 145 27 149 24 152ZM115 156 117 158 118 164 117 169 115 172 113 170 111 164 112 158ZM194 168 204 169 214 171 217 176 215 180 204 180 196 176 191 172ZM27.6 3.0 30.1 1.1 32.9 0.4 34.9 2.1 36.3 4.2 34.9 6.8 31.6 7.0 28.8 5.7ZM23.1 7.6 22.9 10.3 20.8 12.1 18.3 10.6 18.6 8.0 20.6 5.8ZM19.5 14.8 19.0 18.1 15.6 19.3 13.3 16.9 11.8 14.4 13.5 12.0 16.0 9.9 19.4 11.3ZM17.7 21.7 17.8 18.9 18.9 16.7 20.6 16.3 21.0 19.7 21.6 23.0 20.2 25.4 18.4 24.5ZM193 10 187 15 180 12 173 9 174 2 181 -0 189 -2 195 3ZM187.7 17.6 184.9 18.1 183.2 15.3 182.5 11.7 184.4 8.8 187.2 9.0 190.0 10.8 190.5 15.4ZM139 42 136 38 134 33 139 29 144 31 148 33 148 38 145 42ZM45.9 64.2 49.4 65.2 48.8 68.3 45.5 69.6 42.3 68.0 42.4 64.9ZM64 51 72 55 75 65 76 73 73 82 66 77 62 67 60 57ZM240.4 51.7 240.2 56.2 239.7 60.7 237.4 60.5 235.7 58.3 235.1 54.5 236.2 51.0 238.2 50.3ZM122 77 126 71 132 67 142 68 146 74 144 81 135 82 128 81ZM91 89 93 84 98 81 105 80 112 84 112 90 105 94 97 93ZM91.6 95.8 93.0 92.9 95.8 93.8 97.0 96.4 95.2 98.3 93.0 98.0ZM192.2 75.7 193.9 73.3 196.3 73.1 197.7 76.3 195.9 79.1 193.7 78.4ZM231 72 235 72 237 78 234 83 230 84 226 82 225 77 227 72ZM152 89 152 84 156 80 162 80 166 84 164 88 161 92 156 92ZM47.8 108.0 45.4 109.9 42.4 109.7 41.6 106.0 44.1 104.0 47.3 104.3ZM59 99 63 97 67 100 68 106 66 112 62 113 59 110 58 104ZM109 117 103 117 97 114 97 109 101 104 107 105 110 108 111 112ZM62.8 114.9 64.8 112.0 67.8 109.6 70.8 112.3 71.5 116.2 70.4 120.4 66.6 120.1 63.3 119.0ZM166.5 127.5 163.7 125.2 163.4 120.7 165.5 117.3 168.7 117.3 170.8 119.8 172.4 123.9 169.4 126.4ZM104 129 98 133 90 133 87 129 91 125 96 121 102 122 107 124ZM60.1 139.6 62.3 137.9 65.0 139.0 65.4 142.0 62.9 143.0 60.5 142.3ZM131.0 138.3 129.1 141.6 125.7 140.5 124.4 137.1 126.3 133.4 130.0 134.6ZM157.9 137.4 162.0 137.1 162.9 140.8 161.4 143.9 157.3 144.7 156.4 140.6ZM70.7 169.9 68.3 167.3 68.6 163.5 71.6 160.6 75.7 161.5 76.9 165.0 76.9 168.3 74.4 171.3ZM142 158 146 159 149 161 150 165 149 170 145 171 141 168 139 163ZM192.7 174.5 192.7 177.3 191.8 179.7 188.7 181.1 186.2 179.1 185.8 176.7 186.9 174.8 189.6 173.0ZM68.3 175.2 68.9 178.3 67.7 181.1 64.3 180.5 62.6 178.1 64.7 175.9Z"/></g></g><use href="#gbe2" filter="url(#bl)"/></g>
<filter id="tre3" x="0" y="0" width="100%" height="100%" color-interpolation-filters="sRGB"><feTurbulence type="fractalNoise" baseFrequency="0.045" numOctaves="3" seed="12"/><feColorMatrix type="matrix" values="0.792 0 0 0 -0.176 0.119 0 0 0 -0.026 0.000 0 0 0 -0.000 0 0 0 0 1"/></filter>
<filter id="tge3" x="0" y="0" width="100%" height="100%" color-interpolation-filters="sRGB"><feTurbulence type="fractalNoise" baseFrequency="0.03" numOctaves="3" seed="62"/><feColorMatrix type="matrix" values="0.010 0 0 0 0.005 0.060 0 0 0 0.030 0.006 0 0 0 0.003 0 0 0 0 1"/></filter>
<g id="re3" clip-path="url(#pc)"><g filter="url(#bl)"><rect width="239.7" height="181.0" fill="#000" filter="url(#tre3)"/><path fill="#790b00" fill-opacity="0.8" d="M234 115 241 113 249 116 252 122 246 128 238 130 231 125 231 120ZM218 -7 226 -7 229 1 230 10 223 15 215 13 210 5 211 -4ZM35 133 29 135 24 132 23 127 25 122 31 122 37 122 40 128ZM84 71 76 74 74 69 73 62 80 55 90 50 94 55 93 63ZM155 124 158 116 165 113 171 115 173 122 169 131 163 132 156 133ZM21 99 21 104 15 109 8 110 4 107 5 102 11 97 19 95ZM127 -0 124 -5 127 -9 135 -6 140 1 141 5 138 8 131 6ZM30 39 25 36 24 30 27 25 33 24 37 27 38 32 34 36ZM7 5 9 -2 20 -6 29 -4 34 2 27 7 19 11 10 10ZM35 186 31 186 26 183 28 178 32 175 38 174 39 178 39 183ZM45 132 49 127 53 130 56 132 54 138 49 141 44 141 42 137ZM187 112 182 112 178 106 180 101 182 97 187 96 189 102 191 108ZM65 38 57 41 52 38 57 32 63 26 71 23 72 28 73 33ZM90 180 86 184 77 185 67 181 65 176 68 171 78 173 88 175ZM62 167 64 161 69 157 77 158 81 164 79 170 75 176 67 172ZM73 107 70 98 74 87 81 81 89 78 92 86 92 97 83 103ZM12 33 17 29 25 28 30 33 29 40 23 45 15 43 12 38ZM9 35 2 34 -4 28 0 22 8 18 15 23 21 28 15 33Z"/><path fill="#140300" fill-opacity="0.8" d="M87 119 91 124 90 128 86 130 79 128 73 125 74 120 80 119ZM133 -1 139 -6 145 0 149 6 148 12 143 16 136 14 133 6ZM177 127 182 122 192 127 203 131 204 140 194 142 185 140 178 134ZM226 143 221 148 215 150 208 149 204 144 207 139 213 138 220 139ZM34 20 35 14 41 8 50 11 51 18 51 24 45 26 37 27ZM204 57 211 59 210 65 208 69 202 71 198 67 197 63 198 57ZM187 146 194 144 200 148 198 156 192 165 184 162 176 161 180 151ZM177 40 186 36 189 41 187 48 181 54 171 59 166 54 167 45ZM158 63 167 61 176 61 177 70 175 79 166 84 158 79 157 72ZM216 -8 221 -4 215 7 207 13 202 11 200 6 204 -4 212 -10ZM36 153 45 156 54 164 50 170 43 172 34 170 29 162 29 155ZM122 41 126 34 134 30 145 29 149 35 148 42 138 47 128 46ZM111 -6 118 -9 125 -4 127 4 121 10 114 11 106 9 105 0ZM126 149 121 156 112 154 110 145 111 138 117 134 125 134 127 142ZM191 43 188 50 181 56 174 59 171 56 175 49 181 44 187 42ZM224 29 229 25 234 25 235 31 231 38 226 42 221 41 220 35ZM157 88 164 85 171 85 174 89 169 93 164 96 159 96 157 93ZM213 35 207 39 200 35 198 29 200 22 206 20 213 22 218 29ZM217 35 229 36 232 45 229 55 217 59 207 56 205 48 207 39ZM33 54 34 59 32 66 24 65 18 60 18 54 21 50 28 49ZM50 78 56 78 58 81 59 86 54 91 49 91 46 87 47 83ZM182 178 176 168 175 157 182 153 191 153 194 164 197 174 191 178ZM206 66 214 69 216 77 210 84 201 85 195 79 190 72 197 66Z"/><path fill="#530500" fill-opacity="0.8" d="M22 17 13 14 4 6 5 -3 13 -7 22 -3 29 5 29 13ZM179 102 176 110 168 113 161 112 161 104 164 96 173 93 180 93ZM42 90 40 81 47 77 55 75 60 82 57 90 54 97 47 94ZM222 86 230 80 234 85 233 94 230 102 224 105 217 105 217 95ZM244 144 242 149 239 155 234 153 232 149 231 143 235 139 240 140ZM202 177 193 175 191 168 197 161 210 161 218 165 219 171 213 177ZM148 146 150 143 159 142 167 145 171 152 164 154 156 155 148 151ZM86 68 90 73 89 80 83 85 73 85 69 78 69 71 78 67ZM160 42 159 35 163 33 168 37 170 44 170 50 166 52 161 49ZM93 16 100 25 103 36 99 42 92 44 85 35 82 25 85 18ZM131 111 130 100 130 88 136 84 141 86 143 95 142 106 137 114ZM56 67 53 60 57 54 63 48 69 53 73 58 70 65 64 70ZM29 149 36 150 36 156 34 161 27 163 19 160 18 154 21 149ZM146 77 145 72 145 66 158 66 167 70 173 76 167 80 156 80ZM78 16 83 12 91 16 97 28 95 38 89 40 83 36 77 26Z"/><path fill="#400300" fill-opacity="0.8" d="M13 42 22 43 31 52 33 61 26 65 17 60 7 54 6 45ZM231 19 230 14 236 11 242 8 247 11 246 16 242 20 236 22ZM32 123 25 120 18 114 19 104 28 103 37 103 41 112 38 120ZM2 131 3 126 7 124 13 124 18 128 17 134 11 136 5 136ZM41 149 35 145 33 140 40 137 47 137 56 139 53 145 49 148ZM24 148 33 147 39 152 44 159 39 167 30 171 22 166 21 157ZM201 42 196 39 193 34 193 28 200 30 205 32 207 37 205 41ZM174 148 181 153 188 160 180 162 171 162 162 158 160 152 164 148ZM55 141 56 149 54 159 44 163 34 166 35 158 36 149 45 144ZM207 23 201 17 203 12 207 9 214 11 219 16 218 21 214 24ZM171 107 167 103 165 98 166 91 174 90 178 93 180 98 177 103ZM172 112 169 118 164 124 152 122 144 115 147 108 155 104 165 105ZM36 131 41 132 45 138 43 146 37 147 31 145 29 139 31 132Z"/><path fill="#660800" fill-opacity="0.8" d="M169 81 163 75 164 67 167 60 175 59 183 63 183 72 176 76ZM-4 124 2 122 8 124 15 132 15 141 13 148 6 142 -1 135ZM-6 53 -1 49 4 51 8 54 7 61 4 65 -1 63 -4 59ZM74 60 79 65 77 74 73 83 66 82 59 81 62 72 65 63ZM218 83 218 92 216 100 209 108 203 107 200 102 206 92 212 86ZM113 65 112 61 120 54 131 49 138 51 134 56 129 62 120 65ZM104 -3 105 4 97 10 87 14 77 11 75 2 84 -5 95 -6ZM102 51 102 45 105 39 115 38 124 42 125 48 121 54 111 55ZM176 38 182 40 186 44 185 48 180 50 173 48 170 44 172 39ZM73 -7 85 -9 92 -2 86 6 79 11 70 12 63 7 65 -1ZM30 115 33 122 34 129 30 134 25 131 21 124 19 115 23 110ZM149 35 157 36 154 45 147 54 138 58 132 56 132 48 139 39ZM129 16 132 7 140 2 149 -1 151 5 153 13 143 18 135 21Z"/><path fill="#8c0f00" fill-opacity="0.8" d="M56 35 62 38 61 41 56 44 46 44 34 43 36 38 43 35ZM52 18 50 24 44 26 40 23 38 18 41 11 48 11 54 11ZM54 140 48 144 41 142 34 138 35 132 40 129 47 129 54 133ZM84 175 78 173 74 168 77 161 83 158 87 161 91 165 89 171ZM62 42 60 48 55 51 49 51 47 44 48 38 53 33 58 37ZM70 110 75 105 84 105 85 114 85 121 78 124 71 123 65 117ZM214 26 209 20 212 12 219 6 228 6 231 14 230 23 222 28ZM18 13 11 7 9 0 13 -5 21 -4 28 -1 29 6 26 12Z"/></g><g filter="url(#halo)" opacity="0.5"><g id="rbe3"><path fill="#2a0700" d="M61 127 52 123 52 115 56 108 66 104 75 110 77 119 72 127ZM204 50 202 42 210 40 219 38 225 44 223 52 216 57 209 54ZM157 77 139 78 127 70 130 60 136 50 153 47 167 56 167 68ZM58 71 60 65 69 62 81 59 88 65 87 71 78 76 65 77Z"/><path fill="#450400" d="M223 86 223 95 218 95 214 93 212 83 215 75 220 73 222 80ZM167 128 167 138 159 149 152 147 147 144 149 135 156 127 164 120ZM89.5 145.7 92.9 145.3 95.1 148.3 94.2 151.6 92.9 154.7 89.6 155.0 87.2 152.3 86.9 148.3ZM113.2 138.1 109.8 135.8 109.8 131.4 111.3 127.0 115.3 127.7 118.4 129.7 118.8 133.8 117.3 138.0Z"/><path fill="#a11400" d="M183 101 184 108 180 113 175 114 170 111 169 104 174 100 178 98ZM131 174 135 172 141 172 144 175 143 178 139 181 134 180 131 177ZM54 92 52 84 57 76 68 73 76 79 80 87 73 93 64 97ZM7 1 16 3 20 9 21 16 14 21 5 23 -1 16 -2 7ZM38 6 38 14 36 23 31 22 26 17 27 7 30 1 36 -3ZM86 11 90 13 93 18 91 23 87 23 83 22 82 18 82 14ZM78 44 84 38 92 36 104 36 107 44 101 49 93 52 82 51ZM224 -0 232 2 227 6 221 9 213 9 207 5 208 0 217 -1ZM231 52 226 49 221 42 226 36 231 32 239 34 242 43 238 51ZM67.2 25.0 71.3 26.0 73.8 28.7 75.3 33.0 71.1 34.9 66.8 36.3 65.3 32.0 64.8 28.4ZM137 81 142 79 146 82 147 87 143 90 138 91 135 87 134 84ZM115 89 110 85 107 78 108 69 114 63 120 68 123 77 121 88ZM-0 108 5 102 11 103 14 111 13 117 10 125 3 123 -2 117ZM217 137 213 145 204 142 195 140 197 131 202 124 210 123 217 129ZM25 155 23 149 24 143 27 140 31 137 33 143 33 149 30 154ZM44 151 45 145 51 144 54 148 57 153 55 159 49 161 44 158Z"/><path fill="#b81a00" d="M205 51 208 57 206 63 201 67 195 64 193 59 193 54 198 49ZM109.7 115.5 107.0 117.0 104.5 116.7 101.7 115.3 101.8 111.9 104.6 110.3 107.6 109.9 109.8 112.3Z"/><path fill="#e62800" d="M1 74 3 69 8 67 13 69 17 72 15 77 9 79 5 77ZM179 36 175 36 171 33 171 28 174 25 178 25 181 27 181 32ZM188.5 -0.4 191.3 -1.8 194.0 0.3 193.5 3.8 192.2 6.3 189.5 7.6 186.7 5.8 185.8 1.9ZM153.8 32.9 149.3 32.0 145.0 31.0 146.3 28.3 148.2 25.9 152.8 25.4 155.1 27.9 155.7 30.2ZM175 43 176 51 169 55 163 60 157 53 157 47 160 39 168 40ZM172.6 52.6 174.3 56.6 174.8 60.1 172.7 63.7 168.7 62.6 166.0 60.3 164.9 56.3 167.8 52.6ZM40 108 35 111 32 105 32 98 35 92 40 90 44 96 44 104ZM22.7 101.7 23.2 99.4 25.2 98.6 26.6 100.0 26.8 102.1 24.7 102.4ZM78.6 56.2 78.6 53.6 80.9 52.5 83.2 53.7 83.8 56.7 80.9 57.4ZM49.8 62.7 49.7 60.5 50.7 58.9 52.1 60.0 52.6 62.8 51.0 64.0ZM181.6 86.7 181.3 90.5 178.8 92.4 175.7 91.3 175.4 87.3 178.3 84.9ZM161 121 157 120 155 113 156 107 160 104 164 105 167 110 165 117ZM224.3 124.6 223.8 121.5 225.0 119.2 227.6 119.5 229.0 121.8 227.9 124.8ZM222.3 144.3 221.4 142.6 222.1 140.9 224.0 141.1 225.2 142.5 224.5 144.6ZM80 134 80 137 78 140 74 141 71 138 69 135 73 133 77 132ZM79 126 76 122 76 116 81 112 87 114 91 119 88 124 84 129ZM157 137 166 133 176 133 183 140 178 148 173 155 162 155 156 146ZM127.2 138.8 127.4 135.9 131.3 134.2 135.2 133.3 135.3 136.2 135.2 139.0 131.5 141.2 127.4 141.8ZM34.0 164.0 32.4 161.2 32.5 157.7 35.8 156.1 39.9 155.9 40.6 159.9 40.5 163.5 37.2 165.2ZM100.2 173.9 96.6 176.2 93.5 173.4 92.7 169.8 93.8 165.9 97.9 165.1 101.0 167.3 103.4 171.0ZM90.1 165.3 87.7 162.7 88.9 159.4 91.7 158.1 94.4 158.9 96.3 161.0 96.2 164.3 93.1 165.1ZM37 59 33 66 25 68 18 64 15 60 15 53 24 53 31 55ZM25 78 32 79 35 85 33 91 28 96 21 94 20 88 19 81ZM152.6 22.8 149.1 21.6 147.2 17.6 149.6 14.0 152.7 12.2 155.5 14.5 156.9 17.7 156.4 22.0ZM180 112 181 105 188 104 192 107 194 112 194 119 187 119 181 118ZM94 144 89 143 86 139 84 133 87 128 91 125 96 129 97 137ZM131 153 135 158 129 162 124 167 118 162 117 156 120 151 126 150ZM54.7 174.3 52.3 177.5 49.1 176.1 47.6 172.8 46.9 168.2 50.2 167.1 52.9 167.4 55.3 170.0ZM153.0 178.6 150.2 180.3 146.9 178.7 146.5 175.1 148.1 172.1 151.4 172.2 154.0 173.4 154.3 176.3ZM28 65 33 70 34 76 34 83 28 84 23 78 21 72 23 67ZM170.3 32.4 167.0 34.3 165.0 30.8 164.4 27.3 166.0 23.5 169.9 22.8 172.8 25.8 173.4 30.2Z"/></g></g><use href="#rbe3" filter="url(#bl)"/></g>
<g id="ge3" clip-path="url(#pc)"><g filter="url(#bl)"><rect width="239.7" height="181.0" fill="#000" filter="url(#tge3)"/><path fill="#074004" fill-opacity="0.8" d="M91 19 85 19 82 14 81 7 86 4 92 4 96 9 97 15Z"/><path fill="#032e03" fill-opacity="0.8" d="M171 18 170 14 175 13 181 15 183 20 183 24 179 26 173 23ZM63 105 57 107 59 99 61 91 68 84 74 85 74 92 70 102Z"/></g><g filter="url(#halo)" opacity="0.5"><g id="gbe3"><path fill="#041303" d="M61 127 52 123 52 115 56 108 66 104 75 110 77 119 72 127ZM204 50 202 42 210 40 219 38 225 44 223 52 216 57 209 54ZM157 77 139 78 127 70 130 60 136 50 153 47 167 56 167 68ZM58 71 60 65 69 62 81 59 88 65 87 71 78 76 65 77Z"/><path fill="#011a02" d="M1 74 3 69 8 67 13 69 17 72 15 77 9 79 5 77ZM179 36 175 36 171 33 171 28 174 25 178 25 181 27 181 32ZM188.5 -0.4 191.3 -1.8 194.0 0.3 193.5 3.8 192.2 6.3 189.5 7.6 186.7 5.8 185.8 1.9ZM153.8 32.9 149.3 32.0 145.0 31.0 146.3 28.3 148.2 25.9 152.8 25.4 155.1 27.9 155.7 30.2ZM175 43 176 51 169 55 163 60 157 53 157 47 160 39 168 40ZM172.6 52.6 174.3 56.6 174.8 60.1 172.7 63.7 168.7 62.6 166.0 60.3 164.9 56.3 167.8 52.6ZM40 108 35 111 32 105 32 98 35 92 40 90 44 96 44 104ZM22.7 101.7 23.2 99.4 25.2 98.6 26.6 100.0 26.8 102.1 24.7 102.4ZM78.6 56.2 78.6 53.6 80.9 52.5 83.2 53.7 83.8 56.7 80.9 57.4ZM49.8 62.7 49.7 60.5 50.7 58.9 52.1 60.0 52.6 62.8 51.0 64.0ZM181.6 86.7 181.3 90.5 178.8 92.4 175.7 91.3 175.4 87.3 178.3 84.9ZM161 121 157 120 155 113 156 107 160 104 164 105 167 110 165 117ZM224.3 124.6 223.8 121.5 225.0 119.2 227.6 119.5 229.0 121.8 227.9 124.8ZM222.3 144.3 221.4 142.6 222.1 140.9 224.0 141.1 225.2 142.5 224.5 144.6ZM80 134 80 137 78 140 74 141 71 138 69 135 73 133 77 132ZM79 126 76 122 76 116 81 112 87 114 91 119 88 124 84 129ZM157 137 166 133 176 133 183 140 178 148 173 155 162 155 156 146ZM127.2 138.8 127.4 135.9 131.3 134.2 135.2 133.3 135.3 136.2 135.2 139.0 131.5 141.2 127.4 141.8ZM34.0 164.0 32.4 161.2 32.5 157.7 35.8 156.1 39.9 155.9 40.6 159.9 40.5 163.5 37.2 165.2ZM100.2 173.9 96.6 176.2 93.5 173.4 92.7 169.8 93.8 165.9 97.9 165.1 101.0 167.3 103.4 171.0ZM90.1 165.3 87.7 162.7 88.9 159.4 91.7 158.1 94.4 158.9 96.3 161.0 96.2 164.3 93.1 165.1Z"/><path fill="#074204" d="M205 51 208 57 206 63 201 67 195 64 193 59 193 54 198 49ZM109.7 115.5 107.0 117.0 104.5 116.7 101.7 115.3 101.8 111.9 104.6 110.3 107.6 109.9 109.8 112.3Z"/><path fill="#177808" d="M223 86 223 95 218 95 214 93 212 83 215 75 220 73 222 80ZM167 128 167 138 159 149 152 147 147 144 149 135 156 127 164 120ZM89.5 145.7 92.9 145.3 95.1 148.3 94.2 151.6 92.9 154.7 89.6 155.0 87.2 152.3 86.9 148.3ZM113.2 138.1 109.8 135.8 109.8 131.4 111.3 127.0 115.3 127.7 118.4 129.7 118.8 133.8 117.3 138.0ZM37 59 33 66 25 68 18 64 15 60 15 53 24 53 31 55ZM25 78 32 79 35 85 33 91 28 96 21 94 20 88 19 81ZM152.6 22.8 149.1 21.6 147.2 17.6 149.6 14.0 152.7 12.2 155.5 14.5 156.9 17.7 156.4 22.0ZM180 112 181 105 188 104 192 107 194 112 194 119 187 119 181 118ZM94 144 89 143 86 139 84 133 87 128 91 125 96 129 97 137ZM131 153 135 158 129 162 124 167 118 162 117 156 120 151 126 150ZM54.7 174.3 52.3 177.5 49.1 176.1 47.6 172.8 46.9 168.2 50.2 167.1 52.9 167.4 55.3 170.0ZM153.0 178.6 150.2 180.3 146.9 178.7 146.5 175.1 148.1 172.1 151.4 172.2 154.0 173.4 154.3 176.3Z"/><path fill="#69ff10" d="M28 65 33 70 34 76 34 83 28 84 23 78 21 72 23 67ZM170.3 32.4 167.0 34.3 165.0 30.8 164.4 27.3 166.0 23.5 169.9 22.8 172.8 25.8 173.4 30.2Z"/></g></g><use href="#gbe3" filter="url(#bl)"/></g>
<filter id="tre4" x="0" y="0" width="100%" height="100%" color-interpolation-filters="sRGB"><feTurbulence type="fractalNoise" baseFrequency="0.045" numOctaves="3" seed="13"/><feColorMatrix type="matrix" values="0.432 0 0 0 -0.096 0.065 0 0 0 -0.014 0.000 0 0 0 -0.000 0 0 0 0 1"/></filter>
<filter id="tge4" x="0" y="0" width="100%" height="100%" color-interpolation-filters="sRGB"><feTurbulence type="fractalNoise" baseFrequency="0.03" numOctaves="3" seed="63"/><feColorMatrix type="matrix" values="0.014 0 0 0 0.007 0.080 0 0 0 0.040 0.008 0 0 0 0.004 0 0 0 0 1"/></filter>
<g id="re4" clip-path="url(#pc)"><g filter="url(#bl)"><rect width="239.7" height="181.0" fill="#000" filter="url(#tre4)"/><path fill="#330200" fill-opacity="0.8" d="M237 19 239 24 237 31 234 38 229 39 229 31 228 23 233 18ZM132 63 128 65 122 63 118 59 122 56 126 54 131 56 136 60ZM14 58 17 52 22 54 26 58 24 65 20 68 16 68 14 63ZM60 97 66 93 69 100 66 109 62 120 55 121 54 112 53 101ZM243 61 242 72 237 73 232 69 231 59 230 49 234 48 238 52ZM40 109 42 120 38 126 33 129 28 120 28 110 31 105 35 102ZM86 190 77 185 68 179 65 168 71 162 80 166 88 173 90 183ZM16 144 11 149 5 152 1 150 2 144 6 138 11 137 16 138Z"/><path fill="#460400" fill-opacity="0.8" d="M132 53 132 48 137 43 144 43 150 46 153 52 145 58 137 56ZM121 56 128 50 135 55 140 63 135 70 127 71 121 69 116 62ZM101 9 101 1 106 -5 115 -6 121 -0 124 7 118 12 110 11ZM80 133 74 127 76 118 82 112 91 113 95 120 95 129 87 131ZM54 122 56 116 63 117 69 124 75 133 70 137 64 138 57 131ZM203 134 202 126 203 118 209 116 215 117 217 124 214 131 209 137Z"/><path fill="#140300" fill-opacity="0.8" d="M83 9 86 12 83 16 79 19 74 20 72 16 72 11 77 10ZM63 67 65 71 63 76 55 80 47 80 41 78 45 72 52 68ZM87 41 89 49 89 54 86 60 79 57 73 53 75 46 80 42ZM99 121 106 124 108 131 106 138 98 140 91 138 88 130 90 122ZM210 133 210 139 209 147 202 148 196 144 196 136 199 131 204 128ZM179 19 173 22 167 18 162 13 165 6 173 4 179 8 183 13ZM85 38 78 33 71 28 75 20 81 15 88 19 93 25 91 33ZM213 31 222 35 220 46 216 53 209 58 202 50 203 38 207 31ZM31 72 28 79 21 77 14 69 14 61 16 55 22 53 27 62ZM84 14 88 21 84 27 77 27 70 23 71 16 74 10 79 9ZM156 34 160 25 165 18 170 15 173 18 171 26 165 32 161 34ZM173 148 169 141 173 138 178 139 184 143 188 150 186 156 179 152ZM125 155 122 149 124 143 130 139 138 141 139 148 137 154 131 158ZM116 117 110 121 106 115 104 106 109 97 115 93 121 95 121 107ZM162 24 156 20 150 14 151 6 157 6 162 9 168 14 165 20ZM203 133 208 138 209 150 204 155 198 159 194 150 195 140 198 133ZM3 123 -1 117 -2 111 3 107 9 107 14 112 14 119 8 122Z"/><path fill="#590600" fill-opacity="0.8" d="M184 27 178 35 171 34 166 32 165 25 169 18 176 16 183 19ZM63 74 73 74 77 82 80 90 72 98 63 96 54 92 59 83ZM149 81 142 76 136 70 142 68 150 71 159 77 165 84 160 86ZM193 154 194 149 205 148 214 150 219 153 216 157 208 159 197 157ZM4 153 10 157 13 163 11 168 6 170 -2 169 -2 163 -3 156ZM26 173 24 178 18 181 9 179 7 173 9 169 13 166 21 168ZM89 60 84 65 76 65 71 59 74 51 79 47 86 48 93 53Z"/><path fill="#6c0900" fill-opacity="0.8" d="M199 132 204 135 207 141 206 148 201 151 196 148 194 141 194 134ZM151 157 148 150 150 142 158 137 166 142 170 150 166 157 158 159ZM107 26 105 20 107 14 114 13 120 17 123 23 118 27 113 29ZM225 56 232 57 232 64 232 70 225 71 220 70 219 64 218 57ZM101 123 110 116 119 111 127 117 134 123 128 132 116 135 105 131ZM11 11 7 6 7 2 14 3 21 6 24 11 26 16 18 16ZM64 140 72 138 75 143 72 150 66 154 59 154 53 151 59 144ZM220 59 226 62 228 68 222 70 216 72 211 68 209 62 213 58ZM98 72 94 69 95 64 98 59 104 59 107 64 106 68 103 72ZM148 78 151 73 156 70 163 70 166 74 166 80 159 82 153 82ZM178 96 184 94 190 96 192 101 192 105 186 106 180 106 176 101ZM231 56 218 55 216 48 218 42 227 39 239 40 241 47 242 54ZM31 118 34 126 33 135 24 136 18 132 14 126 17 119 24 114Z"/><path fill="#800c00" fill-opacity="0.8" d="M218 67 208 68 198 66 194 61 193 56 201 54 212 56 215 61ZM128 125 128 134 119 138 112 129 109 121 110 113 118 111 127 115ZM15 29 23 32 29 39 25 47 19 54 10 51 5 43 7 34ZM73 163 69 158 69 152 70 146 75 147 79 150 80 156 77 160ZM194 53 204 57 210 65 208 70 202 72 192 68 186 61 188 56ZM184 54 182 48 186 44 191 42 196 47 196 54 193 58 187 60ZM65 127 58 121 53 114 54 108 61 108 69 111 73 119 71 124ZM99 113 107 118 111 124 113 130 108 132 98 126 94 120 91 113ZM93 77 86 68 86 59 90 53 98 55 107 59 108 71 102 76Z"/></g><g filter="url(#halo)" opacity="0.5"><g id="rbe4"><path fill="#120300" d="M78 44 85 61 61 69 36 71 21 60 16 45 37 37 61 34ZM117 116 99 111 99 95 117 89 134 86 146 97 145 110 133 121ZM112 23 119 22 126 26 130 36 124 45 114 46 108 39 104 30ZM144 145 139 149 133 152 126 150 121 147 121 142 130 140 137 141ZM230 143 222 147 212 141 211 130 220 126 228 123 234 129 237 137ZM81 140 73 140 67 134 68 127 75 122 82 125 90 128 87 136ZM60 137 62 143 63 151 52 153 43 149 35 144 39 136 51 136ZM25 76 24 84 16 90 3 93 -4 83 -3 73 7 65 19 68ZM215 37 211 41 203 42 199 37 199 33 203 30 210 30 215 33ZM29 173 17 177 0 175 -4 163 8 156 19 153 33 156 38 165Z"/><path fill="#4c0400" d="M83.3 115.9 79.9 114.4 80.7 111.6 83.6 110.0 87.3 110.0 88.8 112.2 88.7 114.3 86.4 115.7ZM171.3 124.2 170.9 120.8 171.2 118.2 174.4 115.7 178.1 117.6 180.6 119.9 180.2 123.4 175.9 124.9ZM187.3 115.2 186.7 112.1 187.8 109.1 190.2 106.8 192.5 109.4 193.1 113.0 192.3 116.9 189.4 117.0Z"/><path fill="#730a00" d="M174.6 91.4 170.7 90.9 168.9 87.8 169.0 84.7 171.2 82.3 174.9 81.7 176.5 84.9 178.0 88.7ZM213.5 7.8 217.2 6.6 221.3 5.3 225.0 7.4 224.3 10.4 221.5 12.7 217.0 12.3 214.6 10.3ZM213.3 6.6 211.8 7.7 210.1 7.0 209.6 3.8 210.3 1.2 211.5 -1.2 213.1 0.4 213.8 3.4Z"/><path fill="#800c00" d="M2 60 2 56 16 53 31 54 40 57 44 62 28 64 10 64Z"/><path fill="#b21800" d="M143 24 143 31 139 36 133 35 129 31 128 25 132 22 137 21ZM141 50 138 52 134 51 131 47 134 43 137 39 142 41 143 46ZM74 91 75 85 84 83 91 85 94 89 93 94 86 96 78 96ZM206 62 214 67 213 77 202 79 192 78 188 71 189 63 197 57ZM234 78 227 78 222 73 222 66 228 61 235 64 238 68 240 75ZM207 85 209 91 208 96 201 97 196 96 192 92 195 87 200 84ZM225 94 229 91 235 90 238 95 236 100 233 103 228 103 224 99ZM136 145 145 143 152 146 157 151 156 159 147 162 138 161 134 153ZM224 12 224 17 222 21 215 21 209 20 208 15 211 11 218 9ZM112 11 119 11 124 15 122 19 119 22 113 22 108 19 109 15ZM19 17 20 11 25 7 31 10 37 12 35 18 30 21 24 21Z"/><path fill="#cc2000" d="M107 52 102 49 96 46 101 42 105 39 110 41 113 44 113 50ZM151.6 81.0 148.2 81.7 146.3 78.8 144.2 75.6 147.1 73.5 149.8 71.3 153.0 73.4 152.9 77.5ZM102 139 99 135 101 131 106 130 110 132 111 135 109 138 106 140ZM196 156 197 150 204 148 212 148 212 155 212 162 205 164 197 162Z"/><path fill="#ff3200" d="M23.9 32.8 22.2 36.5 18.3 35.1 17.2 31.6 19.6 29.3 23.2 29.2ZM36.4 30.9 35.5 34.7 31.7 35.1 30.2 32.2 30.5 28.9 34.0 28.3ZM45.9 27.4 44.5 30.4 41.6 30.0 39.7 28.1 40.6 25.0 43.8 24.9ZM74.0 0.4 76.4 -1.5 80.1 -0.6 82.0 1.1 83.1 3.7 79.2 5.0 75.5 4.4 72.7 2.7ZM68.0 1.3 65.8 2.2 63.3 1.4 63.2 -0.2 65.6 -0.9 68.2 -0.2ZM78.7 41.9 78.7 39.4 80.9 38.4 83.2 39.5 83.0 42.0 80.8 43.3ZM104.4 31.4 106.1 32.7 106.5 35.4 106.3 38.6 104.1 38.9 101.9 38.5 102.0 35.1 102.8 32.9ZM89 59 94 63 93 68 89 72 84 71 80 67 82 63 84 57ZM74.8 61.2 75.2 63.5 74.0 65.2 71.7 65.1 71.2 63.0 72.1 60.5ZM161 27 161 33 159 38 156 40 154 34 154 28 156 23 159 24ZM150 48 145 45 146 40 149 37 154 37 159 39 159 44 155 47ZM176 44 179 46 180 50 179 54 176 55 172 55 172 50 172 45ZM183.8 53.7 183.9 51.6 185.3 50.5 187.3 50.9 187.4 53.1 185.8 54.4ZM96.4 88.3 94.2 84.5 95.4 79.7 98.7 77.6 101.8 79.7 103.1 83.4 102.8 88.0 99.6 90.1ZM108.9 79.5 108.9 78.1 109.7 76.8 111.3 77.4 111.4 78.9 110.5 80.4ZM35.2 100.6 37.7 100.6 38.9 103.7 38.4 106.8 36.4 107.7 34.2 108.4 33.0 105.5 33.3 102.4ZM-0.9 98.0 1.8 95.3 5.2 95.8 7.8 99.1 6.5 103.5 4.4 107.3 1.4 104.9 -1.5 102.7ZM99 95 101 93 103 94 105 98 104 103 102 104 99 105 98 100ZM47 106 51 104 55 104 56 108 58 113 54 117 50 115 48 111ZM70 112 75 111 80 113 83 117 81 121 76 122 71 121 68 117ZM19.2 122.1 22.3 120.9 24.3 123.0 24.5 126.0 21.6 126.2 19.3 125.2ZM167.4 117.6 166.9 119.2 163.9 118.2 162.0 116.4 160.6 114.5 161.5 113.1 164.5 114.1 166.5 115.9ZM145 134 140 132 140 128 142 124 147 123 151 125 154 129 151 133ZM171 133 167 136 162 136 158 134 158 130 162 128 166 127 171 129ZM183 135 178 134 173 132 174 127 177 123 182 122 187 126 186 131ZM216.0 136.8 214.1 140.9 210.1 140.1 208.0 137.0 207.4 133.3 209.9 130.7 213.3 130.0 216.7 132.3ZM227.8 85.1 226.5 87.5 223.9 87.2 222.2 85.2 223.7 82.9 226.2 83.0ZM159.1 99.4 161.1 99.1 163.0 100.4 162.5 103.0 159.9 103.1 157.9 101.6ZM90 161 85 159 82 153 85 148 90 146 96 147 98 153 95 158ZM92.5 142.2 91.4 145.7 88.7 147.9 85.9 145.7 86.0 142.4 88.9 140.0ZM62.2 160.1 59.6 160.2 58.2 157.9 59.0 154.8 62.0 155.7 63.9 157.8ZM63.9 157.8 67.3 157.2 69.3 159.6 68.7 162.9 65.3 163.4 63.1 161.1ZM42 155 43 159 43 162 40 162 36 157 33 152 35 150 38 150ZM106.4 172.4 104.7 169.5 105.9 166.9 108.5 166.8 110.4 168.6 109.7 171.6ZM97.6 180.4 94.3 178.5 94.1 174.2 94.7 170.9 97.1 168.7 99.8 170.3 101.8 173.6 99.7 176.8ZM79.6 180.1 75.1 181.1 71.3 178.6 70.5 174.3 72.3 170.1 77.0 168.9 80.9 171.6 82.0 176.1ZM203 137 207 140 209 145 207 149 203 150 199 147 197 142 200 139ZM221.3 147.5 218.8 149.5 216.6 147.2 216.6 144.5 219.1 143.3 221.3 144.8ZM231.2 147.2 232.7 145.5 235.1 145.6 236.0 147.9 234.4 149.7 232.4 149.1ZM234.6 159.8 235.3 161.7 234.5 163.3 232.7 163.4 231.1 161.9 232.6 160.3ZM192.6 13.5 192.2 10.7 193.1 8.4 194.8 7.0 196.7 8.3 197.7 11.3 196.3 13.9 194.4 14.7ZM188.3 4.1 190.0 2.6 191.7 3.8 192.6 5.7 190.7 6.6 188.8 6.2ZM112.7 25.4 109.1 25.5 107.9 23.1 110.9 21.8 114.3 22.2 115.2 24.2ZM128.9 83.5 126.2 81.0 127.9 78.1 131.2 77.5 132.9 79.8 132.0 82.1ZM61 100 56 97 59 91 68 85 77 88 84 90 81 97 70 100ZM85 114 89 115 93 119 91 123 85 124 80 122 79 119 80 114ZM42.9 120.8 45.7 119.0 48.4 121.0 49.8 124.2 48.9 128.1 45.5 127.9 43.3 126.7 40.7 123.9ZM67 129 69 134 66 138 59 138 52 137 50 133 55 130 60 127ZM195 114 197 109 202 107 206 110 208 114 207 119 202 121 197 119ZM210 120 208 116 209 110 210 107 212 105 214 109 214 116 212 118ZM93 159 98 157 102 160 103 164 100 168 95 167 92 165 89 162ZM149.6 174.7 153.0 174.0 156.9 174.0 157.9 176.7 157.0 179.3 153.6 180.0 150.7 179.1 148.1 177.3ZM79.7 33.5 81.3 35.3 80.1 37.6 76.5 38.5 73.9 36.8 73.3 34.8 73.6 32.3 77.4 31.6ZM79 42 81 46 80 52 77 55 74 52 71 47 74 43 76 41ZM179 58 181 62 179 67 177 69 175 66 174 62 174 57 177 57ZM108 80 107 84 105 88 101 87 99 83 100 79 102 76 106 77ZM32.7 103.9 28.0 104.5 25.6 101.1 23.5 97.5 27.7 95.7 31.6 94.0 34.3 97.0 34.6 100.4ZM29 118 23 118 19 114 20 109 23 104 28 103 31 107 31 113ZM158.3 113.2 159.5 117.6 157.9 121.7 153.7 122.8 149.8 121.2 147.6 117.2 149.6 112.8 154.0 112.9ZM203.3 162.8 205.2 165.8 204.2 169.1 199.8 170.3 195.5 169.4 194.7 166.3 195.7 163.5 199.2 162.1Z"/></g></g><use href="#rbe4" filter="url(#bl)"/></g>
<g id="ge4" clip-path="url(#pc)"><g filter="url(#bl)"><rect width="239.7" height="181.0" fill="#000" filter="url(#tge4)"/><path fill="#021f02" fill-opacity="0.8" d="M80 59 72 59 71 52 71 45 78 42 86 43 88 49 85 55ZM190 71 190 77 187 79 181 76 178 66 177 58 182 59 187 62Z"/><path fill="#074004" fill-opacity="0.8" d="M137 68 133 67 129 64 129 56 131 47 136 46 139 52 141 60ZM200 70 202 65 207 61 212 66 215 72 212 78 205 78 200 76Z"/><path fill="#032e03" fill-opacity="0.8" d="M98 151 97 156 92 159 88 156 87 152 90 149 93 146 98 146Z"/></g><g filter="url(#halo)" opacity="0.5"><g id="gbe4"><path fill="#041303" d="M78 44 85 61 61 69 36 71 21 60 16 45 37 37 61 34ZM117 116 99 111 99 95 117 89 134 86 146 97 145 110 133 121ZM112 23 119 22 126 26 130 36 124 45 114 46 108 39 104 30ZM144 145 139 149 133 152 126 150 121 147 121 142 130 140 137 141ZM230 143 222 147 212 141 211 130 220 126 228 123 234 129 237 137ZM81 140 73 140 67 134 68 127 75 122 82 125 90 128 87 136ZM60 137 62 143 63 151 52 153 43 149 35 144 39 136 51 136ZM25 76 24 84 16 90 3 93 -4 83 -3 73 7 65 19 68ZM215 37 211 41 203 42 199 37 199 33 203 30 210 30 215 33ZM29 173 17 177 0 175 -4 163 8 156 19 153 33 156 38 165Z"/><path fill="#011a02" d="M23.9 32.8 22.2 36.5 18.3 35.1 17.2 31.6 19.6 29.3 23.2 29.2ZM36.4 30.9 35.5 34.7 31.7 35.1 30.2 32.2 30.5 28.9 34.0 28.3ZM45.9 27.4 44.5 30.4 41.6 30.0 39.7 28.1 40.6 25.0 43.8 24.9ZM74.0 0.4 76.4 -1.5 80.1 -0.6 82.0 1.1 83.1 3.7 79.2 5.0 75.5 4.4 72.7 2.7ZM68.0 1.3 65.8 2.2 63.3 1.4 63.2 -0.2 65.6 -0.9 68.2 -0.2ZM78.7 41.9 78.7 39.4 80.9 38.4 83.2 39.5 83.0 42.0 80.8 43.3ZM104.4 31.4 106.1 32.7 106.5 35.4 106.3 38.6 104.1 38.9 101.9 38.5 102.0 35.1 102.8 32.9ZM89 59 94 63 93 68 89 72 84 71 80 67 82 63 84 57ZM74.8 61.2 75.2 63.5 74.0 65.2 71.7 65.1 71.2 63.0 72.1 60.5ZM161 27 161 33 159 38 156 40 154 34 154 28 156 23 159 24ZM150 48 145 45 146 40 149 37 154 37 159 39 159 44 155 47ZM176 44 179 46 180 50 179 54 176 55 172 55 172 50 172 45ZM183.8 53.7 183.9 51.6 185.3 50.5 187.3 50.9 187.4 53.1 185.8 54.4ZM96.4 88.3 94.2 84.5 95.4 79.7 98.7 77.6 101.8 79.7 103.1 83.4 102.8 88.0 99.6 90.1ZM108.9 79.5 108.9 78.1 109.7 76.8 111.3 77.4 111.4 78.9 110.5 80.4ZM35.2 100.6 37.7 100.6 38.9 103.7 38.4 106.8 36.4 107.7 34.2 108.4 33.0 105.5 33.3 102.4ZM-0.9 98.0 1.8 95.3 5.2 95.8 7.8 99.1 6.5 103.5 4.4 107.3 1.4 104.9 -1.5 102.7ZM99 95 101 93 103 94 105 98 104 103 102 104 99 105 98 100ZM47 106 51 104 55 104 56 108 58 113 54 117 50 115 48 111ZM70 112 75 111 80 113 83 117 81 121 76 122 71 121 68 117ZM19.2 122.1 22.3 120.9 24.3 123.0 24.5 126.0 21.6 126.2 19.3 125.2ZM167.4 117.6 166.9 119.2 163.9 118.2 162.0 116.4 160.6 114.5 161.5 113.1 164.5 114.1 166.5 115.9ZM145 134 140 132 140 128 142 124 147 123 151 125 154 129 151 133ZM171 133 167 136 162 136 158 134 158 130 162 128 166 127 171 129ZM183 135 178 134 173 132 174 127 177 123 182 122 187 126 186 131ZM216.0 136.8 214.1 140.9 210.1 140.1 208.0 137.0 207.4 133.3 209.9 130.7 213.3 130.0 216.7 132.3ZM227.8 85.1 226.5 87.5 223.9 87.2 222.2 85.2 223.7 82.9 226.2 83.0ZM159.1 99.4 161.1 99.1 163.0 100.4 162.5 103.0 159.9 103.1 157.9 101.6ZM90 161 85 159 82 153 85 148 90 146 96 147 98 153 95 158ZM92.5 142.2 91.4 145.7 88.7 147.9 85.9 145.7 86.0 142.4 88.9 140.0ZM62.2 160.1 59.6 160.2 58.2 157.9 59.0 154.8 62.0 155.7 63.9 157.8ZM63.9 157.8 67.3 157.2 69.3 159.6 68.7 162.9 65.3 163.4 63.1 161.1ZM42 155 43 159 43 162 40 162 36 157 33 152 35 150 38 150ZM106.4 172.4 104.7 169.5 105.9 166.9 108.5 166.8 110.4 168.6 109.7 171.6ZM97.6 180.4 94.3 178.5 94.1 174.2 94.7 170.9 97.1 168.7 99.8 170.3 101.8 173.6 99.7 176.8ZM79.6 180.1 75.1 181.1 71.3 178.6 70.5 174.3 72.3 170.1 77.0 168.9 80.9 171.6 82.0 176.1ZM203 137 207 140 209 145 207 149 203 150 199 147 197 142 200 139ZM221.3 147.5 218.8 149.5 216.6 147.2 216.6 144.5 219.1 143.3 221.3 144.8ZM231.2 147.2 232.7 145.5 235.1 145.6 236.0 147.9 234.4 149.7 232.4 149.1ZM234.6 159.8 235.3 161.7 234.5 163.3 232.7 163.4 231.1 161.9 232.6 160.3ZM192.6 13.5 192.2 10.7 193.1 8.4 194.8 7.0 196.7 8.3 197.7 11.3 196.3 13.9 194.4 14.7ZM188.3 4.1 190.0 2.6 191.7 3.8 192.6 5.7 190.7 6.6 188.8 6.2Z"/><path fill="#074204" d="M107 52 102 49 96 46 101 42 105 39 110 41 113 44 113 50ZM151.6 81.0 148.2 81.7 146.3 78.8 144.2 75.6 147.1 73.5 149.8 71.3 153.0 73.4 152.9 77.5ZM102 139 99 135 101 131 106 130 110 132 111 135 109 138 106 140ZM196 156 197 150 204 148 212 148 212 155 212 162 205 164 197 162Z"/><path fill="#177808" d="M83.3 115.9 79.9 114.4 80.7 111.6 83.6 110.0 87.3 110.0 88.8 112.2 88.7 114.3 86.4 115.7ZM171.3 124.2 170.9 120.8 171.2 118.2 174.4 115.7 178.1 117.6 180.6 119.9 180.2 123.4 175.9 124.9ZM187.3 115.2 186.7 112.1 187.8 109.1 190.2 106.8 192.5 109.4 193.1 113.0 192.3 116.9 189.4 117.0ZM112.7 25.4 109.1 25.5 107.9 23.1 110.9 21.8 114.3 22.2 115.2 24.2ZM128.9 83.5 126.2 81.0 127.9 78.1 131.2 77.5 132.9 79.8 132.0 82.1ZM61 100 56 97 59 91 68 85 77 88 84 90 81 97 70 100ZM85 114 89 115 93 119 91 123 85 124 80 122 79 119 80 114ZM42.9 120.8 45.7 119.0 48.4 121.0 49.8 124.2 48.9 128.1 45.5 127.9 43.3 126.7 40.7 123.9ZM67 129 69 134 66 138 59 138 52 137 50 133 55 130 60 127ZM195 114 197 109 202 107 206 110 208 114 207 119 202 121 197 119ZM210 120 208 116 209 110 210 107 212 105 214 109 214 116 212 118ZM93 159 98 157 102 160 103 164 100 168 95 167 92 165 89 162ZM149.6 174.7 153.0 174.0 156.9 174.0 157.9 176.7 157.0 179.3 153.6 180.0 150.7 179.1 148.1 177.3Z"/><path fill="#69ff10" d="M174.6 91.4 170.7 90.9 168.9 87.8 169.0 84.7 171.2 82.3 174.9 81.7 176.5 84.9 178.0 88.7ZM213.5 7.8 217.2 6.6 221.3 5.3 225.0 7.4 224.3 10.4 221.5 12.7 217.0 12.3 214.6 10.3ZM213.3 6.6 211.8 7.7 210.1 7.0 209.6 3.8 210.3 1.2 211.5 -1.2 213.1 0.4 213.8 3.4ZM79.7 33.5 81.3 35.3 80.1 37.6 76.5 38.5 73.9 36.8 73.3 34.8 73.6 32.3 77.4 31.6ZM79 42 81 46 80 52 77 55 74 52 71 47 74 43 76 41ZM179 58 181 62 179 67 177 69 175 66 174 62 174 57 177 57ZM108 80 107 84 105 88 101 87 99 83 100 79 102 76 106 77ZM32.7 103.9 28.0 104.5 25.6 101.1 23.5 97.5 27.7 95.7 31.6 94.0 34.3 97.0 34.6 100.4ZM29 118 23 118 19 114 20 109 23 104 28 103 31 107 31 113ZM158.3 113.2 159.5 117.6 157.9 121.7 153.7 122.8 149.8 121.2 147.6 117.2 149.6 112.8 154.0 112.9ZM203.3 162.8 205.2 165.8 204.2 169.1 199.8 170.3 195.5 169.4 194.7 166.3 195.7 163.5 199.2 162.1Z"/></g></g><use href="#gbe4" filter="url(#bl)"/></g>
<filter id="tre5" x="0" y="0" width="100%" height="100%" color-interpolation-filters="sRGB"><feTurbulence type="fractalNoise" baseFrequency="0.045" numOctaves="3" seed="14"/><feColorMatrix type="matrix" values="0.144 0 0 0 -0.032 0.022 0 0 0 -0.005 0.000 0 0 0 -0.000 0 0 0 0 1"/></filter>
<filter id="tge5" x="0" y="0" width="100%" height="100%" color-interpolation-filters="sRGB"><feTurbulence type="fractalNoise" baseFrequency="0.03" numOctaves="3" seed="64"/><feColorMatrix type="matrix" values="0.014 0 0 0 0.007 0.085 0 0 0 0.043 0.009 0 0 0 0.004 0 0 0 0 1"/></filter>
<g id="re5" clip-path="url(#pc)"><g filter="url(#bl)"><rect width="239.7" height="181.0" fill="#000" filter="url(#tre5)"/><path fill="#140300" fill-opacity="0.8" d="M17 13 24 18 19 26 12 34 2 35 -5 29 -1 20 8 14ZM96 80 89 84 78 82 71 72 71 63 77 58 88 60 93 70ZM110 125 114 124 117 127 118 132 114 139 109 139 104 137 105 130ZM208 152 213 158 218 164 213 171 206 172 198 173 196 165 200 156ZM188 82 182 82 176 79 181 74 191 71 197 73 201 76 197 81ZM51 59 41 57 37 53 42 50 49 46 56 49 62 52 57 55Z"/><path fill="#590600" fill-opacity="0.8" d="M90 146 100 147 110 149 108 155 99 158 89 157 82 154 83 150Z"/><path fill="#400300" fill-opacity="0.8" d="M24 118 32 119 38 122 40 127 35 130 25 128 17 124 17 119Z"/><path fill="#4c0400" fill-opacity="0.8" d="M235 122 239 127 239 133 234 138 226 134 220 129 222 124 228 120Z"/><path fill="#260100" fill-opacity="0.8" d="M244 78 247 82 242 86 237 90 233 86 231 83 234 77 240 76ZM3 114 11 120 10 129 9 135 2 136 -6 128 -9 118 -5 113ZM187 179 185 189 179 195 173 189 174 178 175 167 181 166 186 171Z"/><path fill="#330200" fill-opacity="0.8" d="M196 113 190 119 182 122 178 120 173 116 180 108 189 104 197 105ZM233 85 228 87 224 80 222 72 223 62 229 60 234 68 234 77ZM206 127 206 138 205 148 200 150 197 146 194 139 197 128 202 124Z"/></g><g filter="url(#halo)" opacity="0.5"><g id="rbe5"><path fill="#4c0400" d="M5.2 98.5 2.7 96.2 2.2 93.2 5.4 91.3 9.6 90.9 13.4 93.1 11.9 96.4 9.4 98.8Z"/><path fill="#730a00" d="M0.5 50.7 -0.5 47.6 0.9 45.1 2.9 43.7 5.0 44.9 6.4 47.3 6.0 50.7 3.2 51.7ZM159 59 162 55 168 53 172 58 172 64 167 66 162 66 159 63ZM26 134 23 130 22 121 24 111 28 110 31 115 31 124 30 135ZM18.7 135.6 19.4 132.9 22.6 131.6 25.2 133.5 26.7 135.7 25.5 138.2 22.4 138.7 20.0 137.6Z"/><path fill="#800c00" d="M65 18 70 21 72 30 71 36 67 37 62 31 60 24 61 18ZM94 153 88 147 85 136 87 124 92 118 98 118 102 131 98 144ZM15 155 17 157 17 163 15 167 12 167 9 164 9 158 12 155ZM112 110 105 113 98 111 91 106 93 96 102 95 108 96 115 102ZM170 117 168 127 158 133 145 131 137 125 135 116 148 113 160 111ZM198 100 209 99 212 108 214 117 204 121 193 118 187 112 187 102Z"/><path fill="#b21800" d="M98 20 87 16 92 10 109 10 125 10 129 15 126 21 111 23ZM212 14 214 19 206 24 197 23 187 23 188 18 197 14 206 12ZM155.4 92.7 153.5 91.1 153.5 88.1 156.2 86.1 158.0 89.0 158.2 92.2ZM110 81 113 87 111 95 106 98 101 94 98 88 101 81 106 79ZM47.2 142.6 44.3 143.2 41.1 141.6 42.9 138.5 45.9 136.7 48.7 139.4ZM53.3 170.1 54.0 167.9 57.3 166.6 59.2 169.2 58.5 172.0 55.0 171.8ZM164.2 162.5 162.4 164.3 160.0 163.4 159.0 160.9 161.1 159.0 163.8 159.9Z"/><path fill="#bf1c00" d="M93.7 115.0 91.6 116.7 89.9 114.2 90.0 111.0 90.8 107.6 93.1 108.3 95.1 109.6 95.1 113.0Z"/><path fill="#cc2000" d="M144 137 134 139 123 138 118 134 122 129 128 125 137 128 143 132ZM187.0 154.9 188.8 151.5 192.6 150.8 194.1 154.2 193.0 157.3 189.5 157.7Z"/><path fill="#ff3200" d="M67.2 2.9 64.3 2.3 64.4 0.5 66.6 -0.4 69.3 0.2 70.5 2.2ZM73.3 6.3 77.4 4.8 81.4 6.2 84.2 9.3 81.7 12.6 78.2 14.0 74.6 13.0 73.4 10.0ZM57.3 16.2 55.5 19.5 51.9 18.5 50.1 15.4 52.5 12.6 56.4 12.4ZM111 9 95 8 87 3 91 -3 108 -3 123 -3 127 2 128 8ZM21.9 25.9 19.3 24.0 19.0 20.8 21.9 19.1 24.9 20.7 24.9 24.2ZM73.0 42.2 72.5 38.0 75.4 35.6 78.1 37.8 78.8 41.8 75.9 44.2ZM187.6 27.2 188.1 24.3 191.0 22.6 192.8 25.2 193.1 28.4 190.0 28.6ZM225.8 29.1 222.6 27.1 223.2 23.7 226.0 22.2 229.0 23.6 229.1 27.3ZM138.7 46.3 137.8 43.6 138.6 40.5 142.0 39.3 144.9 41.1 145.3 44.0 144.3 46.5 141.5 47.5ZM28 60 33 58 38 60 40 64 39 70 33 70 28 68 27 64ZM73 59 72 65 65 69 59 68 56 64 56 59 62 57 67 57ZM142 56 146 54 152 55 153 60 150 63 146 65 140 64 140 59ZM155.9 49.4 159.5 49.2 160.6 52.6 160.2 55.5 157.9 57.6 154.2 58.0 152.8 54.5 152.4 50.8ZM157.5 80.9 155.3 77.9 156.6 74.3 159.7 74.5 161.1 76.8 160.6 79.8ZM165.7 88.1 162.6 86.8 162.9 82.6 166.5 80.8 169.7 83.3 168.9 87.5ZM159.4 91.3 161.4 89.4 163.9 89.2 164.6 91.6 163.7 94.1 161.0 93.6ZM106 87 102 94 95 96 89 93 87 88 89 83 95 79 101 82ZM172.0 103.8 169.9 107.1 166.8 105.9 165.5 103.0 166.9 99.3 170.7 100.1ZM206 87 210 90 213 96 209 101 202 102 199 97 196 92 199 86ZM11.7 105.1 13.1 101.7 15.4 99.5 18.1 100.9 19.1 104.2 19.6 108.8 16.2 109.5 13.6 108.1ZM16.9 115.1 18.4 112.3 20.9 113.7 22.5 115.7 22.2 118.6 20.2 119.9 17.6 120.8 16.0 117.9ZM30 133 34 133 39 133 40 138 40 143 35 145 31 142 28 139ZM71.4 127.6 70.6 124.7 73.1 122.3 76.3 123.8 76.7 127.2 74.0 128.7ZM111 118 118 119 122 122 125 125 122 128 116 127 111 124 109 121ZM173.9 108.8 177.4 106.9 180.7 108.5 183.0 110.3 183.1 113.4 180.3 116.0 176.3 115.1 173.5 112.5ZM179.8 124.5 177.4 124.3 176.6 122.0 177.6 119.5 180.5 119.9 181.8 122.5ZM160.3 123.7 162.6 124.9 163.9 127.1 162.0 129.2 159.6 128.3 158.8 126.0ZM225.2 118.4 225.7 119.6 225.2 121.2 223.3 121.0 222.9 119.3 223.8 118.1ZM148.8 129.6 150.4 131.6 149.4 133.8 146.8 134.4 145.2 132.3 146.3 130.3ZM172 146 170 150 165 152 162 149 160 146 161 142 165 142 170 142ZM182 155 175 158 167 157 165 153 166 150 170 147 178 147 181 151ZM192 157 190 159 183 159 181 157 179 154 183 152 188 153 191 155ZM199 149 204 146 205 148 206 150 200 153 195 155 192 155 194 152ZM118 149 124 149 131 151 129 156 125 160 118 161 112 158 114 153ZM117.8 162.0 115.6 160.4 117.1 158.1 119.6 157.5 121.1 159.6 120.0 161.7ZM236.1 152.4 235.9 155.1 234.6 158.1 231.5 157.1 229.1 155.5 228.9 152.4 231.0 150.2 234.5 149.1ZM212.1 166.0 212.9 170.2 211.6 174.1 208.6 176.1 206.2 173.0 205.4 169.2 206.3 165.1 209.3 164.5ZM47.3 4.4 43.8 5.1 40.4 4.5 41.0 0.9 43.7 -1.2 46.1 1.1ZM124.8 16.3 122.2 12.8 123.2 8.7 126.6 6.7 130.3 7.4 131.6 10.7 131.9 14.2 128.9 16.8ZM201.6 24.4 202.9 27.4 200.0 28.9 197.3 28.0 196.0 24.9 199.0 23.1ZM197.5 42.6 199.1 39.0 202.9 38.3 205.3 41.3 204.1 45.0 200.4 45.0ZM6.7 41.9 7.0 38.3 10.9 37.8 12.3 40.8 11.7 43.7 8.5 44.8ZM42.9 63.3 40.3 64.9 37.3 65.1 36.9 62.1 38.6 59.7 41.2 60.7ZM99.4 86.7 99.0 83.7 99.4 80.4 101.1 79.9 102.6 81.1 103.2 84.2 102.4 87.2 100.8 88.5ZM128 107 128 112 123 113 118 111 116 107 118 102 123 102 127 103ZM162.1 101.7 161.1 99.2 161.1 96.3 163.0 94.5 165.3 95.0 166.7 97.7 166.4 101.0 164.1 101.9ZM9 143 6 150 0 147 -3 141 -2 133 3 131 9 129 12 137ZM82 123 76 127 74 121 77 115 81 110 86 109 88 112 87 119ZM133.2 126.1 133.1 123.1 135.9 121.7 138.7 120.4 141.1 122.3 141.4 125.0 139.2 126.6 136.5 126.8ZM207.8 147.9 204.5 146.6 203.8 142.5 207.8 140.4 210.7 143.1 211.2 146.7ZM40.2 6.4 36.9 8.6 33.1 8.1 31.1 5.5 29.7 1.8 33.7 0.0 38.2 -0.8 41.0 2.6ZM108 12 101 10 98 7 99 4 104 4 111 6 112 9 112 12ZM98.0 5.0 95.0 6.2 92.6 4.4 90.2 2.5 91.3 -0.4 94.8 -0.6 97.4 0.2 98.1 2.4ZM26 37 22 33 21 28 21 22 25 24 30 26 32 33 30 36ZM206.1 24.9 209.4 27.4 208.8 31.5 206.5 34.7 202.4 35.3 199.1 32.4 199.6 27.9 201.9 24.1ZM7 63 3 56 3 48 9 43 16 44 21 51 18 58 14 64ZM67.6 69.0 64.8 70.2 61.7 70.4 58.0 70.2 58.3 68.6 58.9 67.1 62.6 66.3 66.5 67.1ZM149 75 145 72 143 69 146 64 153 65 157 67 160 72 154 74ZM137.5 73.2 137.1 68.6 137.7 65.0 140.5 62.3 143.6 64.6 146.4 67.5 145.3 72.0 141.6 72.9ZM235.8 72.9 232.9 70.0 232.5 65.0 235.4 62.5 238.2 62.5 240.8 64.3 240.8 68.4 239.3 72.1ZM238.4 44.1 240.0 44.8 240.8 47.2 239.5 48.8 238.1 48.9 237.1 46.4ZM-1 77 2 75 5 73 10 76 10 81 8 84 4 85 1 82ZM18.6 74.4 19.0 77.5 17.5 78.6 15.9 79.8 14.7 76.9 15.4 73.8 16.3 70.8 18.0 71.4ZM97.7 91.8 99.9 93.8 100.2 97.1 96.9 98.4 94.7 96.0 94.1 92.4ZM117 97 115 93 118 89 123 88 125 93 125 96 124 100 119 102ZM210 99 213 96 217 95 223 94 225 98 223 102 218 103 214 102ZM228 100 231 104 229 109 225 112 219 110 218 105 219 101 223 99ZM211.6 108.5 215.6 106.8 219.9 106.9 223.2 108.7 223.0 111.5 219.8 113.3 215.3 113.7 212.1 111.5ZM29.1 129.7 31.1 127.2 34.2 127.8 35.4 130.7 33.6 133.7 30.1 132.8ZM177.7 121.6 174.8 123.5 171.5 122.5 170.6 119.8 169.9 116.6 173.2 115.3 176.2 116.1 177.9 118.5ZM143 140 138 138 138 133 139 129 144 128 149 131 150 136 148 140ZM146 142 150 140 154 140 156 143 156 147 153 150 149 150 146 147ZM198.0 170.8 195.3 170.6 193.2 168.9 193.3 166.4 195.3 163.8 198.8 164.3 201.7 166.4 200.6 169.5ZM44.5 175.9 42.1 173.5 41.9 169.8 45.0 168.7 47.4 170.7 48.1 174.8ZM240.3 142.4 238.1 143.6 236.9 140.9 237.1 138.1 238.8 135.9 239.9 138.9Z"/></g></g><use href="#rbe5" filter="url(#bl)"/></g>
<g id="ge5" clip-path="url(#pc)"><g filter="url(#bl)"><rect width="239.7" height="181.0" fill="#000" filter="url(#tge5)"/><path fill="#074004" fill-opacity="0.8" d="M-4 84 -5 78 -5 71 2 73 9 78 11 86 9 92 1 88ZM2 58 7 52 13 57 15 62 13 67 8 70 -0 70 -1 63Z"/><path fill="#021f02" fill-opacity="0.8" d="M144 24 148 28 144 32 139 35 133 33 133 28 134 22 140 21Z"/><path fill="#032e03" fill-opacity="0.8" d="M126 53 130 58 127 63 123 67 118 65 114 61 114 54 120 51ZM125 121 129 115 138 114 146 119 147 126 143 132 135 131 127 128Z"/></g><g filter="url(#halo)" opacity="0.5"><g id="gbe5"><path fill="#011a02" d="M67.2 2.9 64.3 2.3 64.4 0.5 66.6 -0.4 69.3 0.2 70.5 2.2ZM73.3 6.3 77.4 4.8 81.4 6.2 84.2 9.3 81.7 12.6 78.2 14.0 74.6 13.0 73.4 10.0ZM57.3 16.2 55.5 19.5 51.9 18.5 50.1 15.4 52.5 12.6 56.4 12.4ZM111 9 95 8 87 3 91 -3 108 -3 123 -3 127 2 128 8ZM21.9 25.9 19.3 24.0 19.0 20.8 21.9 19.1 24.9 20.7 24.9 24.2ZM73.0 42.2 72.5 38.0 75.4 35.6 78.1 37.8 78.8 41.8 75.9 44.2ZM187.6 27.2 188.1 24.3 191.0 22.6 192.8 25.2 193.1 28.4 190.0 28.6ZM225.8 29.1 222.6 27.1 223.2 23.7 226.0 22.2 229.0 23.6 229.1 27.3ZM138.7 46.3 137.8 43.6 138.6 40.5 142.0 39.3 144.9 41.1 145.3 44.0 144.3 46.5 141.5 47.5ZM28 60 33 58 38 60 40 64 39 70 33 70 28 68 27 64ZM73 59 72 65 65 69 59 68 56 64 56 59 62 57 67 57ZM142 56 146 54 152 55 153 60 150 63 146 65 140 64 140 59ZM155.9 49.4 159.5 49.2 160.6 52.6 160.2 55.5 157.9 57.6 154.2 58.0 152.8 54.5 152.4 50.8ZM157.5 80.9 155.3 77.9 156.6 74.3 159.7 74.5 161.1 76.8 160.6 79.8ZM165.7 88.1 162.6 86.8 162.9 82.6 166.5 80.8 169.7 83.3 168.9 87.5ZM159.4 91.3 161.4 89.4 163.9 89.2 164.6 91.6 163.7 94.1 161.0 93.6ZM106 87 102 94 95 96 89 93 87 88 89 83 95 79 101 82ZM172.0 103.8 169.9 107.1 166.8 105.9 165.5 103.0 166.9 99.3 170.7 100.1ZM206 87 210 90 213 96 209 101 202 102 199 97 196 92 199 86ZM11.7 105.1 13.1 101.7 15.4 99.5 18.1 100.9 19.1 104.2 19.6 108.8 16.2 109.5 13.6 108.1ZM16.9 115.1 18.4 112.3 20.9 113.7 22.5 115.7 22.2 118.6 20.2 119.9 17.6 120.8 16.0 117.9ZM30 133 34 133 39 133 40 138 40 143 35 145 31 142 28 139ZM71.4 127.6 70.6 124.7 73.1 122.3 76.3 123.8 76.7 127.2 74.0 128.7ZM111 118 118 119 122 122 125 125 122 128 116 127 111 124 109 121ZM173.9 108.8 177.4 106.9 180.7 108.5 183.0 110.3 183.1 113.4 180.3 116.0 176.3 115.1 173.5 112.5ZM179.8 124.5 177.4 124.3 176.6 122.0 177.6 119.5 180.5 119.9 181.8 122.5ZM160.3 123.7 162.6 124.9 163.9 127.1 162.0 129.2 159.6 128.3 158.8 126.0ZM225.2 118.4 225.7 119.6 225.2 121.2 223.3 121.0 222.9 119.3 223.8 118.1ZM148.8 129.6 150.4 131.6 149.4 133.8 146.8 134.4 145.2 132.3 146.3 130.3ZM172 146 170 150 165 152 162 149 160 146 161 142 165 142 170 142ZM182 155 175 158 167 157 165 153 166 150 170 147 178 147 181 151ZM192 157 190 159 183 159 181 157 179 154 183 152 188 153 191 155ZM199 149 204 146 205 148 206 150 200 153 195 155 192 155 194 152ZM118 149 124 149 131 151 129 156 125 160 118 161 112 158 114 153ZM117.8 162.0 115.6 160.4 117.1 158.1 119.6 157.5 121.1 159.6 120.0 161.7ZM236.1 152.4 235.9 155.1 234.6 158.1 231.5 157.1 229.1 155.5 228.9 152.4 231.0 150.2 234.5 149.1ZM212.1 166.0 212.9 170.2 211.6 174.1 208.6 176.1 206.2 173.0 205.4 169.2 206.3 165.1 209.3 164.5Z"/><path fill="#074204" d="M144 137 134 139 123 138 118 134 122 129 128 125 137 128 143 132ZM187.0 154.9 188.8 151.5 192.6 150.8 194.1 154.2 193.0 157.3 189.5 157.7Z"/><path fill="#177808" d="M5.2 98.5 2.7 96.2 2.2 93.2 5.4 91.3 9.6 90.9 13.4 93.1 11.9 96.4 9.4 98.8ZM47.3 4.4 43.8 5.1 40.4 4.5 41.0 0.9 43.7 -1.2 46.1 1.1ZM124.8 16.3 122.2 12.8 123.2 8.7 126.6 6.7 130.3 7.4 131.6 10.7 131.9 14.2 128.9 16.8ZM201.6 24.4 202.9 27.4 200.0 28.9 197.3 28.0 196.0 24.9 199.0 23.1ZM197.5 42.6 199.1 39.0 202.9 38.3 205.3 41.3 204.1 45.0 200.4 45.0ZM6.7 41.9 7.0 38.3 10.9 37.8 12.3 40.8 11.7 43.7 8.5 44.8ZM42.9 63.3 40.3 64.9 37.3 65.1 36.9 62.1 38.6 59.7 41.2 60.7ZM99.4 86.7 99.0 83.7 99.4 80.4 101.1 79.9 102.6 81.1 103.2 84.2 102.4 87.2 100.8 88.5ZM128 107 128 112 123 113 118 111 116 107 118 102 123 102 127 103ZM162.1 101.7 161.1 99.2 161.1 96.3 163.0 94.5 165.3 95.0 166.7 97.7 166.4 101.0 164.1 101.9ZM9 143 6 150 0 147 -3 141 -2 133 3 131 9 129 12 137ZM82 123 76 127 74 121 77 115 81 110 86 109 88 112 87 119ZM133.2 126.1 133.1 123.1 135.9 121.7 138.7 120.4 141.1 122.3 141.4 125.0 139.2 126.6 136.5 126.8ZM207.8 147.9 204.5 146.6 203.8 142.5 207.8 140.4 210.7 143.1 211.2 146.7Z"/><path fill="#33b20b" d="M93.7 115.0 91.6 116.7 89.9 114.2 90.0 111.0 90.8 107.6 93.1 108.3 95.1 109.6 95.1 113.0Z"/><path fill="#69ff10" d="M0.5 50.7 -0.5 47.6 0.9 45.1 2.9 43.7 5.0 44.9 6.4 47.3 6.0 50.7 3.2 51.7ZM159 59 162 55 168 53 172 58 172 64 167 66 162 66 159 63ZM26 134 23 130 22 121 24 111 28 110 31 115 31 124 30 135ZM18.7 135.6 19.4 132.9 22.6 131.6 25.2 133.5 26.7 135.7 25.5 138.2 22.4 138.7 20.0 137.6ZM40.2 6.4 36.9 8.6 33.1 8.1 31.1 5.5 29.7 1.8 33.7 0.0 38.2 -0.8 41.0 2.6ZM108 12 101 10 98 7 99 4 104 4 111 6 112 9 112 12ZM98.0 5.0 95.0 6.2 92.6 4.4 90.2 2.5 91.3 -0.4 94.8 -0.6 97.4 0.2 98.1 2.4ZM26 37 22 33 21 28 21 22 25 24 30 26 32 33 30 36ZM206.1 24.9 209.4 27.4 208.8 31.5 206.5 34.7 202.4 35.3 199.1 32.4 199.6 27.9 201.9 24.1ZM7 63 3 56 3 48 9 43 16 44 21 51 18 58 14 64ZM67.6 69.0 64.8 70.2 61.7 70.4 58.0 70.2 58.3 68.6 58.9 67.1 62.6 66.3 66.5 67.1ZM149 75 145 72 143 69 146 64 153 65 157 67 160 72 154 74ZM137.5 73.2 137.1 68.6 137.7 65.0 140.5 62.3 143.6 64.6 146.4 67.5 145.3 72.0 141.6 72.9ZM235.8 72.9 232.9 70.0 232.5 65.0 235.4 62.5 238.2 62.5 240.8 64.3 240.8 68.4 239.3 72.1ZM238.4 44.1 240.0 44.8 240.8 47.2 239.5 48.8 238.1 48.9 237.1 46.4ZM-1 77 2 75 5 73 10 76 10 81 8 84 4 85 1 82ZM18.6 74.4 19.0 77.5 17.5 78.6 15.9 79.8 14.7 76.9 15.4 73.8 16.3 70.8 18.0 71.4ZM97.7 91.8 99.9 93.8 100.2 97.1 96.9 98.4 94.7 96.0 94.1 92.4ZM117 97 115 93 118 89 123 88 125 93 125 96 124 100 119 102ZM210 99 213 96 217 95 223 94 225 98 223 102 218 103 214 102ZM228 100 231 104 229 109 225 112 219 110 218 105 219 101 223 99ZM211.6 108.5 215.6 106.8 219.9 106.9 223.2 108.7 223.0 111.5 219.8 113.3 215.3 113.7 212.1 111.5ZM29.1 129.7 31.1 127.2 34.2 127.8 35.4 130.7 33.6 133.7 30.1 132.8ZM177.7 121.6 174.8 123.5 171.5 122.5 170.6 119.8 169.9 116.6 173.2 115.3 176.2 116.1 177.9 118.5ZM143 140 138 138 138 133 139 129 144 128 149 131 150 136 148 140ZM146 142 150 140 154 140 156 143 156 147 153 150 149 150 146 147ZM198.0 170.8 195.3 170.6 193.2 168.9 193.3 166.4 195.3 163.8 198.8 164.3 201.7 166.4 200.6 169.5ZM44.5 175.9 42.1 173.5 41.9 169.8 45.0 168.7 47.4 170.7 48.1 174.8ZM240.3 142.4 238.1 143.6 236.9 140.9 237.1 138.1 238.8 135.9 239.9 138.9Z"/></g></g><use href="#gbe5" filter="url(#bl)"/></g>
</defs>
<g transform="translate(67.1 607.9)"><use href="#rc0"/><path d="M6.9 174.5h27.6" stroke="#e6dcd8" stroke-width="1.3"/></g>
<g transform="translate(67.1 793.7)"><use href="#gc0"/><path d="M6.9 174.5h27.6" stroke="#e6dcd8" stroke-width="1.3"/></g>
<g transform="translate(67.1 979.0)" style="isolation:isolate"><use href="#rc0"/><use href="#gc0" style="mix-blend-mode:screen"/><path d="M6.9 174.5h27.6" stroke="#e6dcd8" stroke-width="1.3"/></g>
<g transform="translate(311.4 607.9)"><use href="#rc1"/><path d="M6.9 174.5h27.6" stroke="#e6dcd8" stroke-width="1.3"/></g>
<g transform="translate(311.4 793.7)"><use href="#gc1"/><path d="M6.9 174.5h27.6" stroke="#e6dcd8" stroke-width="1.3"/></g>
<g transform="translate(311.4 979.0)" style="isolation:isolate"><use href="#rc1"/><use href="#gc1" style="mix-blend-mode:screen"/><path d="M6.9 174.5h27.6" stroke="#e6dcd8" stroke-width="1.3"/></g>
<g transform="translate(555.7 607.9)"><use href="#rc2"/><path d="M6.9 174.5h27.6" stroke="#e6dcd8" stroke-width="1.3"/></g>
<g transform="translate(555.7 793.7)"><use href="#gc2"/><path d="M6.9 174.5h27.6" stroke="#e6dcd8" stroke-width="1.3"/></g>
<g transform="translate(555.7 979.0)" style="isolation:isolate"><use href="#rc2"/><use href="#gc2" style="mix-blend-mode:screen"/><path d="M6.9 174.5h27.6" stroke="#e6dcd8" stroke-width="1.3"/></g>
<g transform="translate(799.6 607.9)"><use href="#rc3"/><path d="M6.9 174.5h27.6" stroke="#e6dcd8" stroke-width="1.3"/></g>
<g transform="translate(799.6 793.7)"><use href="#gc3"/><path d="M6.9 174.5h27.6" stroke="#e6dcd8" stroke-width="1.3"/></g>
<g transform="translate(799.6 979.0)" style="isolation:isolate"><use href="#rc3"/><use href="#gc3" style="mix-blend-mode:screen"/><path d="M6.9 174.5h27.6" stroke="#e6dcd8" stroke-width="1.3"/></g>
<g transform="translate(1043.8 607.9)"><use href="#rc4"/><path d="M6.9 174.5h27.6" stroke="#e6dcd8" stroke-width="1.3"/></g>
<g transform="translate(1043.8 793.7)"><use href="#gc4"/><path d="M6.9 174.5h27.6" stroke="#e6dcd8" stroke-width="1.3"/></g>
<g transform="translate(1043.8 979.0)" style="isolation:isolate"><use href="#rc4"/><use href="#gc4" style="mix-blend-mode:screen"/><path d="M6.9 174.5h27.6" stroke="#e6dcd8" stroke-width="1.3"/></g>
<g transform="translate(1288.1 607.9)"><use href="#rc5"/><path d="M6.9 174.5h27.6" stroke="#e6dcd8" stroke-width="1.3"/></g>
<g transform="translate(1288.1 793.7)"><use href="#gc5"/><path d="M6.9 174.5h27.6" stroke="#e6dcd8" stroke-width="1.3"/></g>
<g transform="translate(1288.1 979.0)" style="isolation:isolate"><use href="#rc5"/><use href="#gc5" style="mix-blend-mode:screen"/><path d="M6.9 174.5h27.6" stroke="#e6dcd8" stroke-width="1.3"/></g>
<g transform="translate(67.1 1297.5)"><use href="#re0"/><path d="M6.9 174.5h27.6" stroke="#e6dcd8" stroke-width="1.3"/></g>
<g transform="translate(67.1 1483.0)"><use href="#ge0"/><path d="M6.9 174.5h27.6" stroke="#e6dcd8" stroke-width="1.3"/></g>
<g transform="translate(67.1 1668.4)" style="isolation:isolate"><use href="#re0"/><use href="#ge0" style="mix-blend-mode:screen"/><path d="M6.9 174.5h27.6" stroke="#e6dcd8" stroke-width="1.3"/></g>
<g transform="translate(311.4 1297.5)"><use href="#re1"/><path d="M6.9 174.5h27.6" stroke="#e6dcd8" stroke-width="1.3"/></g>
<g transform="translate(311.4 1483.0)"><use href="#ge1"/><path d="M6.9 174.5h27.6" stroke="#e6dcd8" stroke-width="1.3"/></g>
<g transform="translate(311.4 1668.4)" style="isolation:isolate"><use href="#re1"/><use href="#ge1" style="mix-blend-mode:screen"/><path d="M6.9 174.5h27.6" stroke="#e6dcd8" stroke-width="1.3"/></g>
<g transform="translate(555.7 1297.5)"><use href="#re2"/><path d="M6.9 174.5h27.6" stroke="#e6dcd8" stroke-width="1.3"/></g>
<g transform="translate(555.7 1483.0)"><use href="#ge2"/><path d="M6.9 174.5h27.6" stroke="#e6dcd8" stroke-width="1.3"/></g>
<g transform="translate(555.7 1668.4)" style="isolation:isolate"><use href="#re2"/><use href="#ge2" style="mix-blend-mode:screen"/><path d="M6.9 174.5h27.6" stroke="#e6dcd8" stroke-width="1.3"/></g>
<g transform="translate(799.6 1297.5)"><use href="#re3"/><path d="M6.9 174.5h27.6" stroke="#e6dcd8" stroke-width="1.3"/></g>
<g transform="translate(799.6 1483.0)"><use href="#ge3"/><path d="M6.9 174.5h27.6" stroke="#e6dcd8" stroke-width="1.3"/></g>
<g transform="translate(799.6 1668.4)" style="isolation:isolate"><use href="#re3"/><use href="#ge3" style="mix-blend-mode:screen"/><path d="M6.9 174.5h27.6" stroke="#e6dcd8" stroke-width="1.3"/></g>
<g transform="translate(1043.8 1297.5)"><use href="#re4"/><path d="M6.9 174.5h27.6" stroke="#e6dcd8" stroke-width="1.3"/></g>
<g transform="translate(1043.8 1483.0)"><use href="#ge4"/><path d="M6.9 174.5h27.6" stroke="#e6dcd8" stroke-width="1.3"/></g>
<g transform="translate(1043.8 1668.4)" style="isolation:isolate"><use href="#re4"/><use href="#ge4" style="mix-blend-mode:screen"/><path d="M6.9 174.5h27.6" stroke="#e6dcd8" stroke-width="1.3"/></g>
<g transform="translate(1288.1 1297.5)"><use href="#re5"/><path d="M6.9 174.5h27.6" stroke="#e6dcd8" stroke-width="1.3"/></g>
<g transform="translate(1288.1 1483.0)"><use href="#ge5"/><path d="M6.9 174.5h27.6" stroke="#e6dcd8" stroke-width="1.3"/></g>
<g transform="translate(1288.1 1668.4)" style="isolation:isolate"><use href="#re5"/><use href="#ge5" style="mix-blend-mode:screen"/><path d="M6.9 174.5h27.6" stroke="#e6dcd8" stroke-width="1.3"/></g>
<text transform="translate(431.7 561.0) scale(1 1.03)" font-size="28.8" text-anchor="middle">NaB</text>
<text transform="translate(1163.2 561.0) scale(1 1.03)" font-size="28.8" text-anchor="middle">NaB + NAC</text>
<path d="M72.2 570.7H790.8M804.3 570.7H1522.9" stroke="#333" stroke-width="1"/>
<text transform="translate(187.3 600.9) scale(1 1.03)" font-size="28.8" text-anchor="middle">siCtrl</text>
<text transform="translate(429.8 600.9) scale(1 1.03)" font-size="28.8" text-anchor="middle">siM16-1</text>
<text transform="translate(675.2 600.9) scale(1 1.03)" font-size="28.8" text-anchor="middle">siM16-2</text>
<text transform="translate(919.1 600.9) scale(1 1.03)" font-size="28.8" text-anchor="middle">siCtrl</text>
<text transform="translate(1163.2 600.9) scale(1 1.03)" font-size="28.8" text-anchor="middle">siM16-1</text>
<text transform="translate(1407.3 600.9) scale(1 1.03)" font-size="28.8" text-anchor="middle">siM16-2</text>
<text transform="translate(58.0 698.4) rotate(-90) scale(1 1.03)" font-size="28.8" text-anchor="middle">mRFP1</text>
<text transform="translate(58.0 883.0) rotate(-90) scale(1 1.03)" font-size="28.8" text-anchor="middle">EGFP</text>
<text transform="translate(58.0 1069.5) rotate(-90) scale(1 1.03)" font-size="28.8" text-anchor="middle">Merge</text>
<text transform="translate(1523.3 1181.8) scale(1 1.03)" font-size="22.2" text-anchor="end">Scale bar: 100 μm</text>
<text transform="translate(431.7 1250.7) scale(1 1.03)" font-size="28.8" text-anchor="middle">NaB</text>
<text transform="translate(1163.2 1250.7) scale(1 1.03)" font-size="28.8" text-anchor="middle">NaB + NAC</text>
<path d="M154.1 1260H708.8M886.2 1260H1441" stroke="#777" stroke-width="1.4"/>
<text transform="translate(187.3 1291.2) scale(1 1.03)" font-size="28.8" text-anchor="middle">siCtrl</text>
<text transform="translate(427.8 1291.2) scale(1 1.03)" font-size="28.8" text-anchor="middle">siMA-1</text>
<text transform="translate(673.2 1291.2) scale(1 1.03)" font-size="28.8" text-anchor="middle">siMA-2</text>
<text transform="translate(919.0 1291.2) scale(1 1.03)" font-size="28.8" text-anchor="middle">siCtrl</text>
<text transform="translate(1160.0 1291.2) scale(1 1.03)" font-size="28.8" text-anchor="middle">siMA-1</text>
<text transform="translate(1404.5 1291.2) scale(1 1.03)" font-size="28.8" text-anchor="middle">siMA-2</text>
<text transform="translate(58.0 1388.6) rotate(-90) scale(1 1.03)" font-size="28.8" text-anchor="middle">mRFP1</text>
<text transform="translate(58.0 1573.0) rotate(-90) scale(1 1.03)" font-size="28.8" text-anchor="middle">EGFP</text>
<text transform="translate(58.0 1757.6) rotate(-90) scale(1 1.03)" font-size="28.8" text-anchor="middle">Merge</text>
<text transform="translate(1526.0 1871.6) scale(1 1.03)" font-size="22.2" text-anchor="end">Scale bar: 100 μm</text>
</svg></body></html>
